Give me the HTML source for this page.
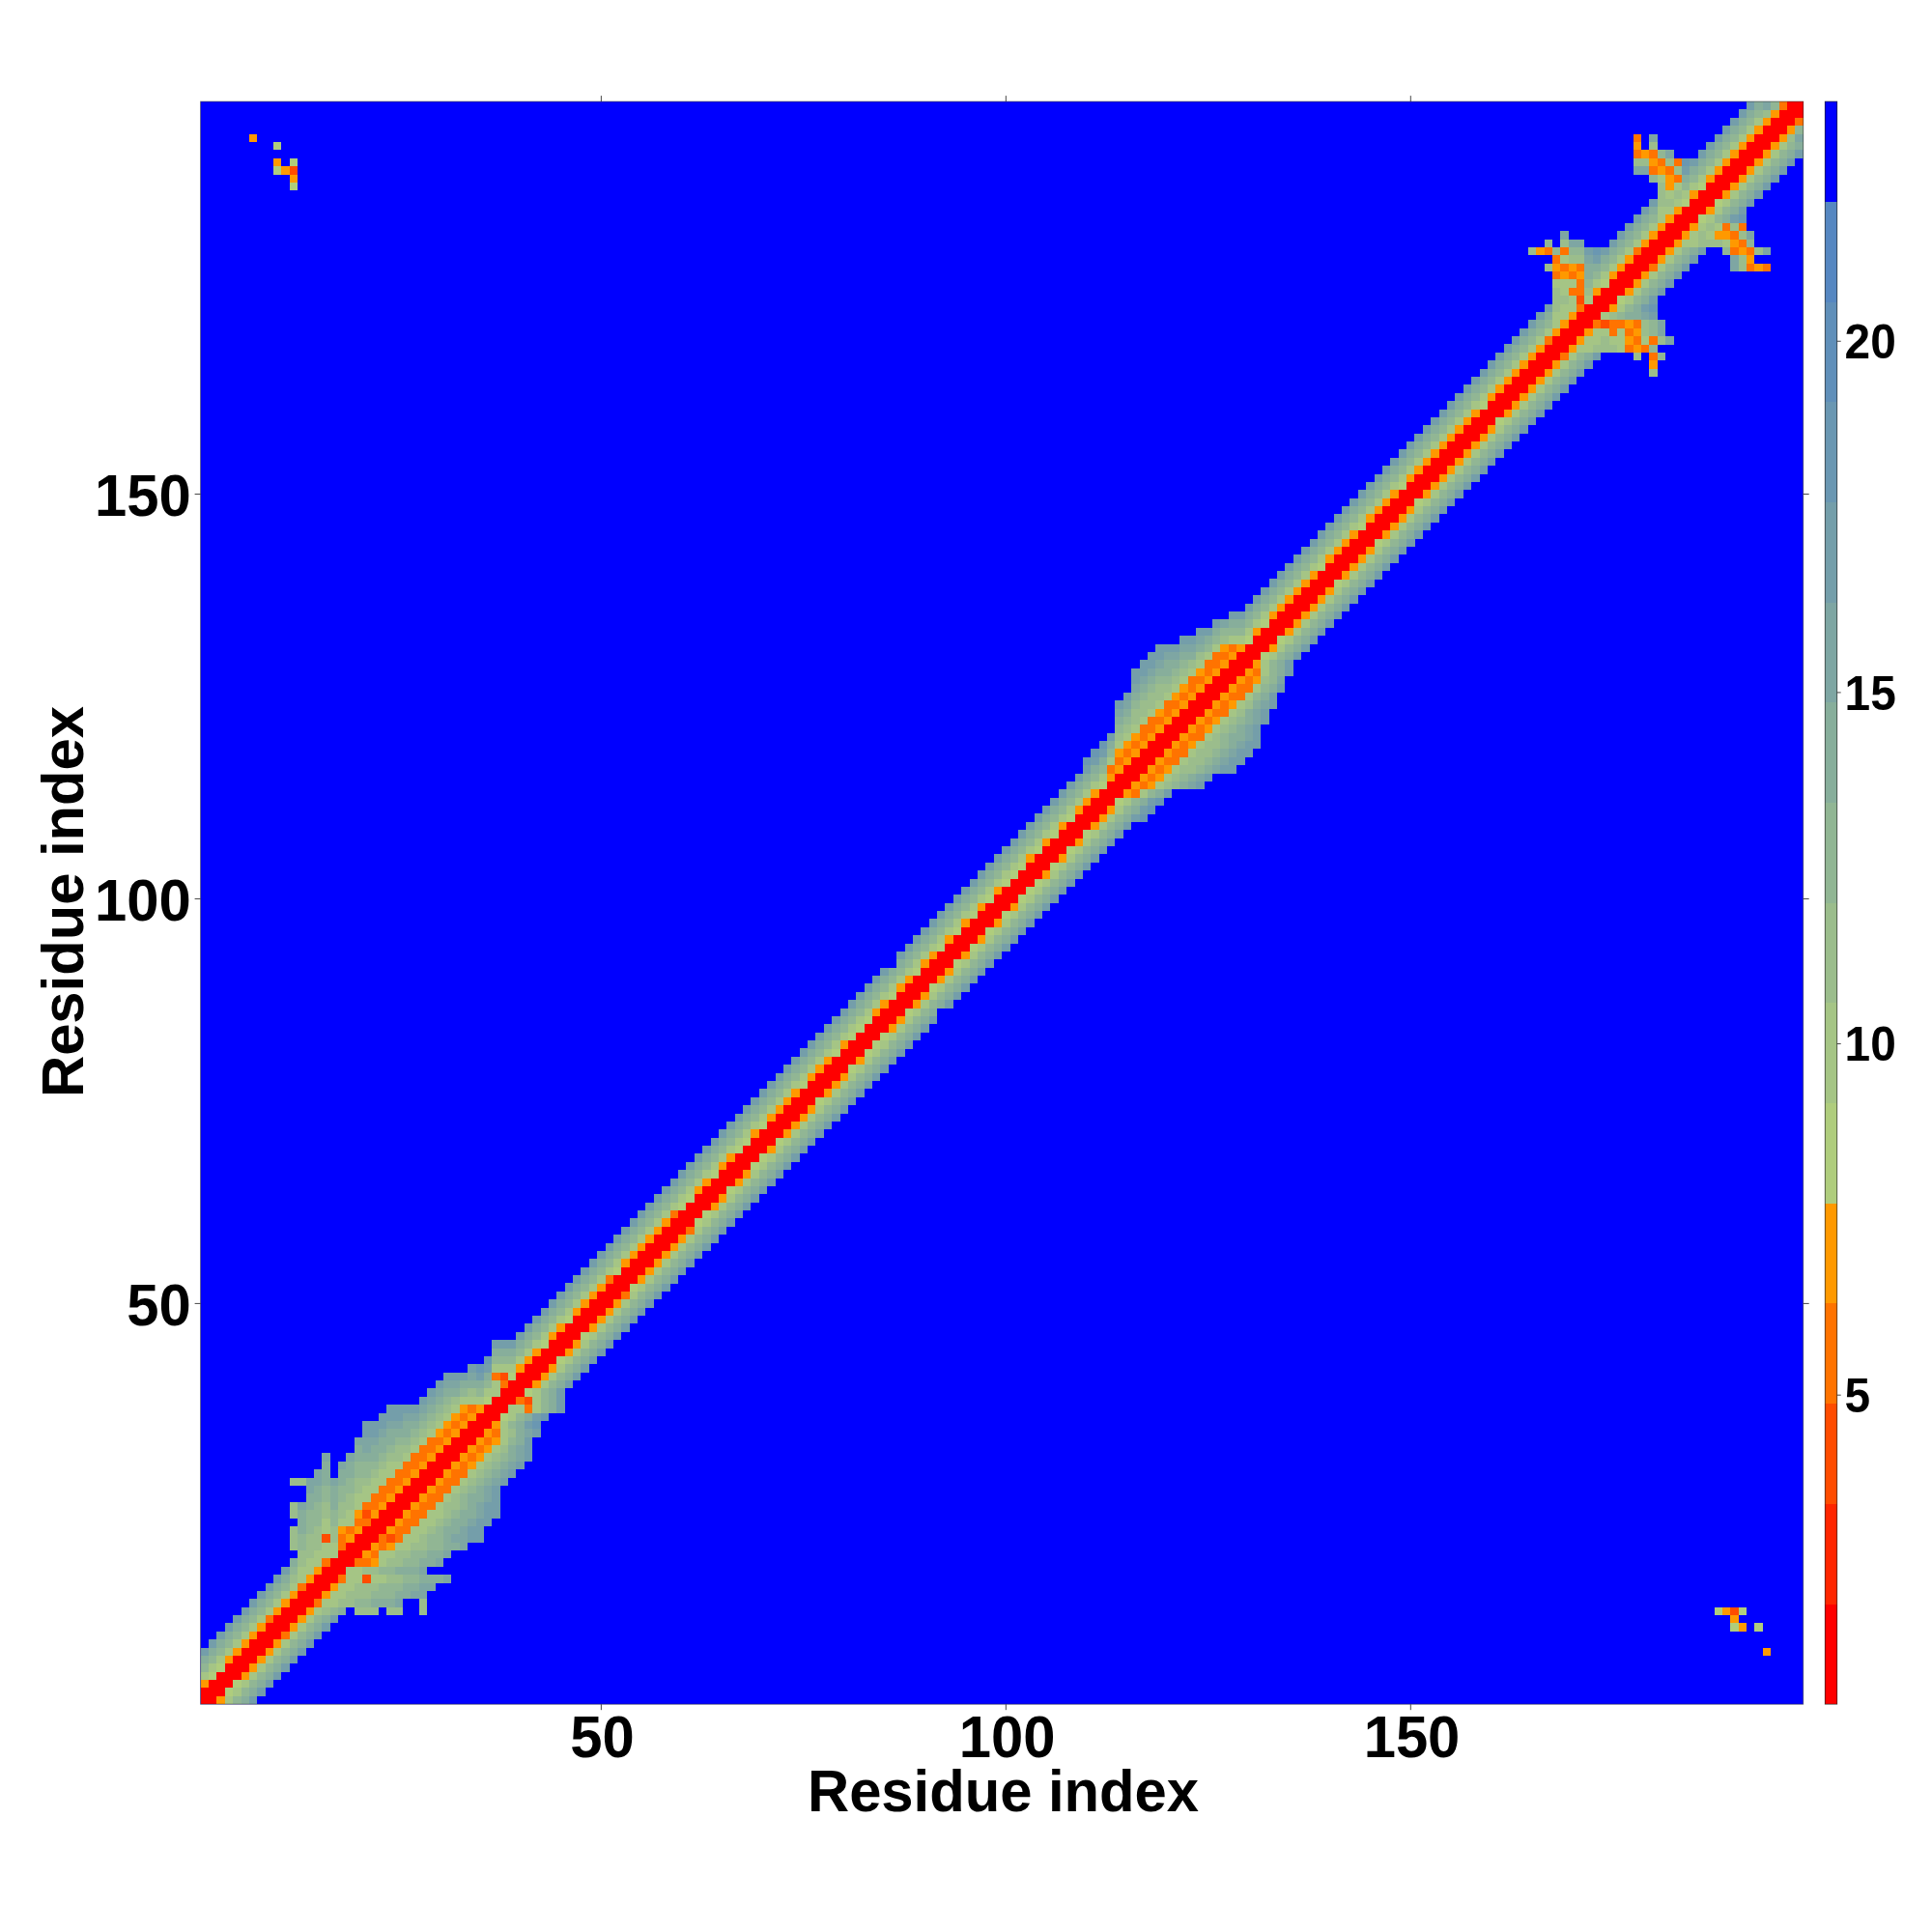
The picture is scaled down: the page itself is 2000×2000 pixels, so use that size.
<!DOCTYPE html>
<html><head><meta charset="utf-8"><title>Residue distance map</title>
<style>html,body{margin:0;padding:0;background:#fff;}svg{display:block;}text{font-family:"Liberation Sans",sans-serif;font-weight:bold;fill:#000;}</style></head><body>
<svg width="2000" height="2000" viewBox="0 0 2000 2000">
<rect x="0" y="0" width="2000" height="2000" fill="#FFFFFF"/>
<rect x="207.60" y="105.10" width="1659.10" height="1659.10" fill="#0000FF"/>
<g shape-rendering="crispEdges">
<rect x="207.60" y="1755.82" width="16.78" height="8.40" fill="#FF0000"/>
<rect x="224.36" y="1755.82" width="8.40" height="8.40" fill="#FF9900"/>
<rect x="232.74" y="1755.82" width="8.40" height="8.40" fill="#A5C585"/>
<rect x="241.12" y="1755.82" width="8.40" height="8.40" fill="#91B694"/>
<rect x="249.50" y="1755.82" width="8.40" height="8.40" fill="#87AE9B"/>
<rect x="257.88" y="1755.82" width="8.40" height="8.40" fill="#749EAA"/>
<rect x="207.60" y="1747.44" width="25.16" height="8.40" fill="#FF0000"/>
<rect x="232.74" y="1747.44" width="8.40" height="8.40" fill="#AFCD7D"/>
<rect x="241.12" y="1747.44" width="8.40" height="8.40" fill="#A5C585"/>
<rect x="249.50" y="1747.44" width="8.40" height="8.40" fill="#91B694"/>
<rect x="257.88" y="1747.44" width="8.40" height="8.40" fill="#87AE9B"/>
<rect x="266.26" y="1747.44" width="8.40" height="8.40" fill="#749EAA"/>
<rect x="207.60" y="1739.06" width="8.40" height="8.40" fill="#FF9900"/>
<rect x="215.98" y="1739.06" width="25.16" height="8.40" fill="#FF0000"/>
<rect x="241.12" y="1739.06" width="8.40" height="8.40" fill="#AFCD7D"/>
<rect x="249.50" y="1739.06" width="8.40" height="8.40" fill="#A5C585"/>
<rect x="257.88" y="1739.06" width="8.40" height="8.40" fill="#91B694"/>
<rect x="266.26" y="1739.06" width="8.40" height="8.40" fill="#87AE9B"/>
<rect x="274.63" y="1739.06" width="8.40" height="8.40" fill="#749EAA"/>
<rect x="207.60" y="1730.68" width="8.40" height="8.40" fill="#A5C585"/>
<rect x="215.98" y="1730.68" width="8.40" height="8.40" fill="#AFCD7D"/>
<rect x="224.36" y="1730.68" width="25.16" height="8.40" fill="#FF0000"/>
<rect x="249.50" y="1730.68" width="8.40" height="8.40" fill="#FF9900"/>
<rect x="257.88" y="1730.68" width="8.40" height="8.40" fill="#A5C585"/>
<rect x="266.26" y="1730.68" width="8.40" height="8.40" fill="#91B694"/>
<rect x="274.63" y="1730.68" width="8.40" height="8.40" fill="#87AE9B"/>
<rect x="283.01" y="1730.68" width="8.40" height="8.40" fill="#749EAA"/>
<rect x="207.60" y="1722.30" width="8.40" height="8.40" fill="#91B694"/>
<rect x="215.98" y="1722.30" width="8.40" height="8.40" fill="#A5C585"/>
<rect x="224.36" y="1722.30" width="8.40" height="8.40" fill="#AFCD7D"/>
<rect x="232.74" y="1722.30" width="25.16" height="8.40" fill="#FF0000"/>
<rect x="257.88" y="1722.30" width="8.40" height="8.40" fill="#FF9900"/>
<rect x="266.26" y="1722.30" width="8.40" height="8.40" fill="#A5C585"/>
<rect x="274.63" y="1722.30" width="8.40" height="8.40" fill="#91B694"/>
<rect x="283.01" y="1722.30" width="8.40" height="8.40" fill="#87AE9B"/>
<rect x="291.39" y="1722.30" width="8.40" height="8.40" fill="#749EAA"/>
<rect x="207.60" y="1713.92" width="8.40" height="8.40" fill="#87AE9B"/>
<rect x="215.98" y="1713.92" width="8.40" height="8.40" fill="#91B694"/>
<rect x="224.36" y="1713.92" width="8.40" height="8.40" fill="#A5C585"/>
<rect x="232.74" y="1713.92" width="8.40" height="8.40" fill="#FF9900"/>
<rect x="241.12" y="1713.92" width="25.16" height="8.40" fill="#FF0000"/>
<rect x="266.26" y="1713.92" width="8.40" height="8.40" fill="#FF9900"/>
<rect x="274.63" y="1713.92" width="8.40" height="8.40" fill="#A5C585"/>
<rect x="283.01" y="1713.92" width="8.40" height="8.40" fill="#91B694"/>
<rect x="291.39" y="1713.92" width="8.40" height="8.40" fill="#87AE9B"/>
<rect x="299.77" y="1713.92" width="8.40" height="8.40" fill="#749EAA"/>
<rect x="207.60" y="1705.54" width="8.40" height="8.40" fill="#749EAA"/>
<rect x="215.98" y="1705.54" width="8.40" height="8.40" fill="#87AE9B"/>
<rect x="224.36" y="1705.54" width="8.40" height="8.40" fill="#91B694"/>
<rect x="232.74" y="1705.54" width="8.40" height="8.40" fill="#A5C585"/>
<rect x="241.12" y="1705.54" width="8.40" height="8.40" fill="#FF9900"/>
<rect x="249.50" y="1705.54" width="25.16" height="8.40" fill="#FF0000"/>
<rect x="274.63" y="1705.54" width="8.40" height="8.40" fill="#FF9900"/>
<rect x="283.01" y="1705.54" width="8.40" height="8.40" fill="#A5C585"/>
<rect x="291.39" y="1705.54" width="8.40" height="8.40" fill="#91B694"/>
<rect x="299.77" y="1705.54" width="8.40" height="8.40" fill="#87AE9B"/>
<rect x="308.15" y="1705.54" width="8.40" height="8.40" fill="#749EAA"/>
<rect x="1824.80" y="1705.54" width="8.40" height="8.40" fill="#FF9900"/>
<rect x="215.98" y="1697.17" width="8.40" height="8.40" fill="#749EAA"/>
<rect x="224.36" y="1697.17" width="8.40" height="8.40" fill="#87AE9B"/>
<rect x="232.74" y="1697.17" width="8.40" height="8.40" fill="#91B694"/>
<rect x="241.12" y="1697.17" width="8.40" height="8.40" fill="#A5C585"/>
<rect x="249.50" y="1697.17" width="8.40" height="8.40" fill="#FF9900"/>
<rect x="257.88" y="1697.17" width="25.16" height="8.40" fill="#FF0000"/>
<rect x="283.01" y="1697.17" width="8.40" height="8.40" fill="#FF9900"/>
<rect x="291.39" y="1697.17" width="8.40" height="8.40" fill="#A5C585"/>
<rect x="299.77" y="1697.17" width="8.40" height="8.40" fill="#91B694"/>
<rect x="308.15" y="1697.17" width="8.40" height="8.40" fill="#87AE9B"/>
<rect x="316.53" y="1697.17" width="8.40" height="8.40" fill="#749EAA"/>
<rect x="224.36" y="1688.79" width="8.40" height="8.40" fill="#749EAA"/>
<rect x="232.74" y="1688.79" width="8.40" height="8.40" fill="#87AE9B"/>
<rect x="241.12" y="1688.79" width="8.40" height="8.40" fill="#91B694"/>
<rect x="249.50" y="1688.79" width="8.40" height="8.40" fill="#A5C585"/>
<rect x="257.88" y="1688.79" width="8.40" height="8.40" fill="#FF9900"/>
<rect x="266.26" y="1688.79" width="25.16" height="8.40" fill="#FF0000"/>
<rect x="291.39" y="1688.79" width="8.40" height="8.40" fill="#FF7300"/>
<rect x="299.77" y="1688.79" width="8.40" height="8.40" fill="#A5C585"/>
<rect x="308.15" y="1688.79" width="8.40" height="8.40" fill="#91B694"/>
<rect x="316.53" y="1688.79" width="8.40" height="8.40" fill="#87AE9B"/>
<rect x="324.91" y="1688.79" width="8.40" height="8.40" fill="#749EAA"/>
<rect x="232.74" y="1680.41" width="8.40" height="8.40" fill="#749EAA"/>
<rect x="241.12" y="1680.41" width="8.40" height="8.40" fill="#87AE9B"/>
<rect x="249.50" y="1680.41" width="8.40" height="8.40" fill="#91B694"/>
<rect x="257.88" y="1680.41" width="8.40" height="8.40" fill="#A5C585"/>
<rect x="266.26" y="1680.41" width="8.40" height="8.40" fill="#FF9900"/>
<rect x="274.63" y="1680.41" width="25.16" height="8.40" fill="#FF0000"/>
<rect x="299.77" y="1680.41" width="8.40" height="8.40" fill="#FF9900"/>
<rect x="308.15" y="1680.41" width="8.40" height="8.40" fill="#A5C585"/>
<rect x="316.53" y="1680.41" width="8.40" height="8.40" fill="#91B694"/>
<rect x="324.91" y="1680.41" width="8.40" height="8.40" fill="#87AE9B"/>
<rect x="333.29" y="1680.41" width="8.40" height="8.40" fill="#749EAA"/>
<rect x="1791.29" y="1680.41" width="8.40" height="8.40" fill="#AFCD7D"/>
<rect x="1799.67" y="1680.41" width="8.40" height="8.40" fill="#FF9900"/>
<rect x="1816.42" y="1680.41" width="8.40" height="8.40" fill="#AFCD7D"/>
<rect x="241.12" y="1672.03" width="8.40" height="8.40" fill="#749EAA"/>
<rect x="249.50" y="1672.03" width="8.40" height="8.40" fill="#87AE9B"/>
<rect x="257.88" y="1672.03" width="8.40" height="8.40" fill="#91B694"/>
<rect x="266.26" y="1672.03" width="8.40" height="8.40" fill="#A5C585"/>
<rect x="274.63" y="1672.03" width="8.40" height="8.40" fill="#FF7300"/>
<rect x="283.01" y="1672.03" width="25.16" height="8.40" fill="#FF0000"/>
<rect x="308.15" y="1672.03" width="8.40" height="8.40" fill="#FF9900"/>
<rect x="316.53" y="1672.03" width="8.40" height="8.40" fill="#A5C585"/>
<rect x="324.91" y="1672.03" width="8.40" height="8.40" fill="#91B694"/>
<rect x="333.29" y="1672.03" width="8.40" height="8.40" fill="#87AE9B"/>
<rect x="341.67" y="1672.03" width="8.40" height="8.40" fill="#749EAA"/>
<rect x="1791.29" y="1672.03" width="8.40" height="8.40" fill="#FF9900"/>
<rect x="249.50" y="1663.65" width="8.40" height="8.40" fill="#749EAA"/>
<rect x="257.88" y="1663.65" width="8.40" height="8.40" fill="#87AE9B"/>
<rect x="266.26" y="1663.65" width="8.40" height="8.40" fill="#91B694"/>
<rect x="274.63" y="1663.65" width="8.40" height="8.40" fill="#A5C585"/>
<rect x="283.01" y="1663.65" width="8.40" height="8.40" fill="#FF9900"/>
<rect x="291.39" y="1663.65" width="25.16" height="8.40" fill="#FF0000"/>
<rect x="316.53" y="1663.65" width="8.40" height="8.40" fill="#FF9900"/>
<rect x="324.91" y="1663.65" width="8.40" height="8.40" fill="#A5C585"/>
<rect x="333.29" y="1663.65" width="8.40" height="8.40" fill="#9BBD8C"/>
<rect x="341.67" y="1663.65" width="8.40" height="8.40" fill="#91B694"/>
<rect x="350.05" y="1663.65" width="8.40" height="8.40" fill="#87AE9B"/>
<rect x="366.81" y="1663.65" width="25.16" height="8.40" fill="#9BBD8C"/>
<rect x="400.32" y="1663.65" width="16.78" height="8.40" fill="#9BBD8C"/>
<rect x="433.84" y="1663.65" width="8.40" height="8.40" fill="#9BBD8C"/>
<rect x="1774.53" y="1663.65" width="8.40" height="8.40" fill="#AFCD7D"/>
<rect x="1782.91" y="1663.65" width="8.40" height="8.40" fill="#FF9900"/>
<rect x="1791.29" y="1663.65" width="8.40" height="8.40" fill="#FF4C00"/>
<rect x="1799.67" y="1663.65" width="8.40" height="8.40" fill="#AFCD7D"/>
<rect x="257.88" y="1655.27" width="8.40" height="8.40" fill="#749EAA"/>
<rect x="266.26" y="1655.27" width="8.40" height="8.40" fill="#87AE9B"/>
<rect x="274.63" y="1655.27" width="8.40" height="8.40" fill="#91B694"/>
<rect x="283.01" y="1655.27" width="8.40" height="8.40" fill="#A5C585"/>
<rect x="291.39" y="1655.27" width="8.40" height="8.40" fill="#FF9900"/>
<rect x="299.77" y="1655.27" width="25.16" height="8.40" fill="#FF0000"/>
<rect x="324.91" y="1655.27" width="8.40" height="8.40" fill="#FF7300"/>
<rect x="333.29" y="1655.27" width="16.78" height="8.40" fill="#A5C585"/>
<rect x="350.05" y="1655.27" width="16.78" height="8.40" fill="#9BBD8C"/>
<rect x="366.81" y="1655.27" width="16.78" height="8.40" fill="#91B694"/>
<rect x="383.57" y="1655.27" width="25.16" height="8.40" fill="#87AE9B"/>
<rect x="408.70" y="1655.27" width="8.40" height="8.40" fill="#7EA6A3"/>
<rect x="433.84" y="1655.27" width="8.40" height="8.40" fill="#9BBD8C"/>
<rect x="266.26" y="1646.89" width="8.40" height="8.40" fill="#749EAA"/>
<rect x="274.63" y="1646.89" width="8.40" height="8.40" fill="#87AE9B"/>
<rect x="283.01" y="1646.89" width="8.40" height="8.40" fill="#91B694"/>
<rect x="291.39" y="1646.89" width="8.40" height="8.40" fill="#A5C585"/>
<rect x="299.77" y="1646.89" width="8.40" height="8.40" fill="#FF9900"/>
<rect x="308.15" y="1646.89" width="25.16" height="8.40" fill="#FF0000"/>
<rect x="333.29" y="1646.89" width="8.40" height="8.40" fill="#FF9900"/>
<rect x="341.67" y="1646.89" width="16.78" height="8.40" fill="#A5C585"/>
<rect x="358.43" y="1646.89" width="25.16" height="8.40" fill="#9BBD8C"/>
<rect x="383.57" y="1646.89" width="25.16" height="8.40" fill="#91B694"/>
<rect x="408.70" y="1646.89" width="16.78" height="8.40" fill="#87AE9B"/>
<rect x="425.46" y="1646.89" width="16.78" height="8.40" fill="#7EA6A3"/>
<rect x="274.63" y="1638.51" width="8.40" height="8.40" fill="#749EAA"/>
<rect x="283.01" y="1638.51" width="8.40" height="8.40" fill="#87AE9B"/>
<rect x="291.39" y="1638.51" width="8.40" height="8.40" fill="#91B694"/>
<rect x="299.77" y="1638.51" width="8.40" height="8.40" fill="#A5C585"/>
<rect x="308.15" y="1638.51" width="8.40" height="8.40" fill="#FF7300"/>
<rect x="316.53" y="1638.51" width="25.16" height="8.40" fill="#FF0000"/>
<rect x="341.67" y="1638.51" width="8.40" height="8.40" fill="#FF9900"/>
<rect x="350.05" y="1638.51" width="16.78" height="8.40" fill="#A5C585"/>
<rect x="366.81" y="1638.51" width="25.16" height="8.40" fill="#9BBD8C"/>
<rect x="391.94" y="1638.51" width="25.16" height="8.40" fill="#91B694"/>
<rect x="417.08" y="1638.51" width="16.78" height="8.40" fill="#87AE9B"/>
<rect x="433.84" y="1638.51" width="16.78" height="8.40" fill="#7EA6A3"/>
<rect x="283.01" y="1630.13" width="8.40" height="8.40" fill="#749EAA"/>
<rect x="291.39" y="1630.13" width="8.40" height="8.40" fill="#87AE9B"/>
<rect x="299.77" y="1630.13" width="8.40" height="8.40" fill="#9BBD8C"/>
<rect x="308.15" y="1630.13" width="8.40" height="8.40" fill="#A5C585"/>
<rect x="316.53" y="1630.13" width="8.40" height="8.40" fill="#FF9900"/>
<rect x="324.91" y="1630.13" width="25.16" height="8.40" fill="#FF0000"/>
<rect x="350.05" y="1630.13" width="8.40" height="8.40" fill="#FF7300"/>
<rect x="358.43" y="1630.13" width="16.78" height="8.40" fill="#A5C585"/>
<rect x="375.19" y="1630.13" width="8.40" height="8.40" fill="#FF4C00"/>
<rect x="383.57" y="1630.13" width="16.78" height="8.40" fill="#A5C585"/>
<rect x="400.32" y="1630.13" width="16.78" height="8.40" fill="#9BBD8C"/>
<rect x="417.08" y="1630.13" width="16.78" height="8.40" fill="#91B694"/>
<rect x="433.84" y="1630.13" width="25.16" height="8.40" fill="#87AE9B"/>
<rect x="458.98" y="1630.13" width="8.40" height="8.40" fill="#7EA6A3"/>
<rect x="291.39" y="1621.75" width="8.40" height="8.40" fill="#749EAA"/>
<rect x="299.77" y="1621.75" width="8.40" height="8.40" fill="#91B694"/>
<rect x="308.15" y="1621.75" width="16.78" height="8.40" fill="#A5C585"/>
<rect x="324.91" y="1621.75" width="8.40" height="8.40" fill="#FF9900"/>
<rect x="333.29" y="1621.75" width="25.16" height="8.40" fill="#FF0000"/>
<rect x="358.43" y="1621.75" width="16.78" height="8.40" fill="#A5C585"/>
<rect x="375.19" y="1621.75" width="16.78" height="8.40" fill="#9BBD8C"/>
<rect x="391.94" y="1621.75" width="16.78" height="8.40" fill="#91B694"/>
<rect x="408.70" y="1621.75" width="25.16" height="8.40" fill="#87AE9B"/>
<rect x="433.84" y="1621.75" width="8.40" height="8.40" fill="#7EA6A3"/>
<rect x="299.77" y="1613.37" width="8.40" height="8.40" fill="#87AE9B"/>
<rect x="308.15" y="1613.37" width="8.40" height="8.40" fill="#9BBD8C"/>
<rect x="316.53" y="1613.37" width="16.78" height="8.40" fill="#A5C585"/>
<rect x="333.29" y="1613.37" width="8.40" height="8.40" fill="#FF7300"/>
<rect x="341.67" y="1613.37" width="25.16" height="8.40" fill="#FF0000"/>
<rect x="366.81" y="1613.37" width="16.78" height="8.40" fill="#FF7300"/>
<rect x="383.57" y="1613.37" width="8.40" height="8.40" fill="#FF9900"/>
<rect x="391.94" y="1613.37" width="8.40" height="8.40" fill="#A5C585"/>
<rect x="400.32" y="1613.37" width="16.78" height="8.40" fill="#9BBD8C"/>
<rect x="417.08" y="1613.37" width="16.78" height="8.40" fill="#91B694"/>
<rect x="433.84" y="1613.37" width="16.78" height="8.40" fill="#87AE9B"/>
<rect x="450.60" y="1613.37" width="8.40" height="8.40" fill="#7EA6A3"/>
<rect x="308.15" y="1604.99" width="16.78" height="8.40" fill="#9BBD8C"/>
<rect x="324.91" y="1604.99" width="25.16" height="8.40" fill="#A5C585"/>
<rect x="350.05" y="1604.99" width="25.16" height="8.40" fill="#FF0000"/>
<rect x="375.19" y="1604.99" width="8.40" height="8.40" fill="#FF9900"/>
<rect x="383.57" y="1604.99" width="8.40" height="8.40" fill="#FF7300"/>
<rect x="391.94" y="1604.99" width="16.78" height="8.40" fill="#A5C585"/>
<rect x="408.70" y="1604.99" width="16.78" height="8.40" fill="#9BBD8C"/>
<rect x="425.46" y="1604.99" width="16.78" height="8.40" fill="#91B694"/>
<rect x="442.22" y="1604.99" width="16.78" height="8.40" fill="#87AE9B"/>
<rect x="458.98" y="1604.99" width="8.40" height="8.40" fill="#7EA6A3"/>
<rect x="299.77" y="1596.61" width="8.40" height="8.40" fill="#9BBD8C"/>
<rect x="308.15" y="1596.61" width="8.40" height="8.40" fill="#91B694"/>
<rect x="316.53" y="1596.61" width="16.78" height="8.40" fill="#9BBD8C"/>
<rect x="333.29" y="1596.61" width="16.78" height="8.40" fill="#A5C585"/>
<rect x="350.05" y="1596.61" width="8.40" height="8.40" fill="#FF7300"/>
<rect x="358.43" y="1596.61" width="25.16" height="8.40" fill="#FF0000"/>
<rect x="383.57" y="1596.61" width="8.40" height="8.40" fill="#FF9900"/>
<rect x="391.94" y="1596.61" width="8.40" height="8.40" fill="#FF7300"/>
<rect x="400.32" y="1596.61" width="8.40" height="8.40" fill="#FF9900"/>
<rect x="408.70" y="1596.61" width="16.78" height="8.40" fill="#A5C585"/>
<rect x="425.46" y="1596.61" width="16.78" height="8.40" fill="#9BBD8C"/>
<rect x="442.22" y="1596.61" width="16.78" height="8.40" fill="#91B694"/>
<rect x="458.98" y="1596.61" width="16.78" height="8.40" fill="#87AE9B"/>
<rect x="475.74" y="1596.61" width="8.40" height="8.40" fill="#7EA6A3"/>
<rect x="299.77" y="1588.23" width="8.40" height="8.40" fill="#9BBD8C"/>
<rect x="308.15" y="1588.23" width="8.40" height="8.40" fill="#91B694"/>
<rect x="316.53" y="1588.23" width="16.78" height="8.40" fill="#9BBD8C"/>
<rect x="333.29" y="1588.23" width="8.40" height="8.40" fill="#FF4C00"/>
<rect x="341.67" y="1588.23" width="8.40" height="8.40" fill="#9BBD8C"/>
<rect x="350.05" y="1588.23" width="8.40" height="8.40" fill="#FF7300"/>
<rect x="358.43" y="1588.23" width="8.40" height="8.40" fill="#FF9900"/>
<rect x="366.81" y="1588.23" width="25.16" height="8.40" fill="#FF0000"/>
<rect x="391.94" y="1588.23" width="8.40" height="8.40" fill="#FF7300"/>
<rect x="400.32" y="1588.23" width="8.40" height="8.40" fill="#FF4C00"/>
<rect x="408.70" y="1588.23" width="8.40" height="8.40" fill="#FF7300"/>
<rect x="417.08" y="1588.23" width="16.78" height="8.40" fill="#A5C585"/>
<rect x="433.84" y="1588.23" width="8.40" height="8.40" fill="#9BBD8C"/>
<rect x="442.22" y="1588.23" width="16.78" height="8.40" fill="#91B694"/>
<rect x="458.98" y="1588.23" width="8.40" height="8.40" fill="#87AE9B"/>
<rect x="467.36" y="1588.23" width="16.78" height="8.40" fill="#7EA6A3"/>
<rect x="484.12" y="1588.23" width="16.78" height="8.40" fill="#749EAA"/>
<rect x="299.77" y="1579.86" width="8.40" height="8.40" fill="#9BBD8C"/>
<rect x="308.15" y="1579.86" width="8.40" height="8.40" fill="#87AE9B"/>
<rect x="316.53" y="1579.86" width="8.40" height="8.40" fill="#91B694"/>
<rect x="324.91" y="1579.86" width="8.40" height="8.40" fill="#9BBD8C"/>
<rect x="333.29" y="1579.86" width="8.40" height="8.40" fill="#A5C585"/>
<rect x="341.67" y="1579.86" width="8.40" height="8.40" fill="#9BBD8C"/>
<rect x="350.05" y="1579.86" width="8.40" height="8.40" fill="#FF9900"/>
<rect x="358.43" y="1579.86" width="8.40" height="8.40" fill="#FF7300"/>
<rect x="366.81" y="1579.86" width="8.40" height="8.40" fill="#FF9900"/>
<rect x="375.19" y="1579.86" width="25.16" height="8.40" fill="#FF0000"/>
<rect x="400.32" y="1579.86" width="8.40" height="8.40" fill="#FF9900"/>
<rect x="408.70" y="1579.86" width="16.78" height="8.40" fill="#FF7300"/>
<rect x="425.46" y="1579.86" width="16.78" height="8.40" fill="#A5C585"/>
<rect x="442.22" y="1579.86" width="8.40" height="8.40" fill="#9BBD8C"/>
<rect x="450.60" y="1579.86" width="8.40" height="8.40" fill="#91B694"/>
<rect x="458.98" y="1579.86" width="16.78" height="8.40" fill="#87AE9B"/>
<rect x="475.74" y="1579.86" width="8.40" height="8.40" fill="#7EA6A3"/>
<rect x="484.12" y="1579.86" width="16.78" height="8.40" fill="#749EAA"/>
<rect x="308.15" y="1571.48" width="8.40" height="8.40" fill="#87AE9B"/>
<rect x="316.53" y="1571.48" width="16.78" height="8.40" fill="#91B694"/>
<rect x="333.29" y="1571.48" width="8.40" height="8.40" fill="#A5C585"/>
<rect x="341.67" y="1571.48" width="8.40" height="8.40" fill="#91B694"/>
<rect x="350.05" y="1571.48" width="16.78" height="8.40" fill="#A5C585"/>
<rect x="366.81" y="1571.48" width="16.78" height="8.40" fill="#FF7300"/>
<rect x="383.57" y="1571.48" width="25.16" height="8.40" fill="#FF0000"/>
<rect x="408.70" y="1571.48" width="8.40" height="8.40" fill="#FF9900"/>
<rect x="417.08" y="1571.48" width="16.78" height="8.40" fill="#FF7300"/>
<rect x="433.84" y="1571.48" width="16.78" height="8.40" fill="#A5C585"/>
<rect x="450.60" y="1571.48" width="8.40" height="8.40" fill="#9BBD8C"/>
<rect x="458.98" y="1571.48" width="8.40" height="8.40" fill="#91B694"/>
<rect x="467.36" y="1571.48" width="16.78" height="8.40" fill="#87AE9B"/>
<rect x="484.12" y="1571.48" width="8.40" height="8.40" fill="#7EA6A3"/>
<rect x="492.50" y="1571.48" width="16.78" height="8.40" fill="#749EAA"/>
<rect x="299.77" y="1563.10" width="8.40" height="8.40" fill="#9BBD8C"/>
<rect x="308.15" y="1563.10" width="8.40" height="8.40" fill="#87AE9B"/>
<rect x="316.53" y="1563.10" width="16.78" height="8.40" fill="#91B694"/>
<rect x="333.29" y="1563.10" width="8.40" height="8.40" fill="#9BBD8C"/>
<rect x="341.67" y="1563.10" width="8.40" height="8.40" fill="#91B694"/>
<rect x="350.05" y="1563.10" width="8.40" height="8.40" fill="#9BBD8C"/>
<rect x="358.43" y="1563.10" width="8.40" height="8.40" fill="#A5C585"/>
<rect x="366.81" y="1563.10" width="8.40" height="8.40" fill="#FF9900"/>
<rect x="375.19" y="1563.10" width="8.40" height="8.40" fill="#FF4C00"/>
<rect x="383.57" y="1563.10" width="8.40" height="8.40" fill="#FF9900"/>
<rect x="391.94" y="1563.10" width="25.16" height="8.40" fill="#FF0000"/>
<rect x="417.08" y="1563.10" width="8.40" height="8.40" fill="#FF9900"/>
<rect x="425.46" y="1563.10" width="16.78" height="8.40" fill="#FF7300"/>
<rect x="442.22" y="1563.10" width="16.78" height="8.40" fill="#A5C585"/>
<rect x="458.98" y="1563.10" width="8.40" height="8.40" fill="#9BBD8C"/>
<rect x="467.36" y="1563.10" width="8.40" height="8.40" fill="#91B694"/>
<rect x="475.74" y="1563.10" width="16.78" height="8.40" fill="#87AE9B"/>
<rect x="492.50" y="1563.10" width="8.40" height="8.40" fill="#7EA6A3"/>
<rect x="500.88" y="1563.10" width="16.78" height="8.40" fill="#749EAA"/>
<rect x="299.77" y="1554.72" width="8.40" height="8.40" fill="#9BBD8C"/>
<rect x="308.15" y="1554.72" width="8.40" height="8.40" fill="#7EA6A3"/>
<rect x="316.53" y="1554.72" width="8.40" height="8.40" fill="#87AE9B"/>
<rect x="324.91" y="1554.72" width="8.40" height="8.40" fill="#91B694"/>
<rect x="333.29" y="1554.72" width="8.40" height="8.40" fill="#9BBD8C"/>
<rect x="341.67" y="1554.72" width="8.40" height="8.40" fill="#87AE9B"/>
<rect x="350.05" y="1554.72" width="16.78" height="8.40" fill="#9BBD8C"/>
<rect x="366.81" y="1554.72" width="8.40" height="8.40" fill="#A5C585"/>
<rect x="375.19" y="1554.72" width="16.78" height="8.40" fill="#FF7300"/>
<rect x="391.94" y="1554.72" width="8.40" height="8.40" fill="#FF9900"/>
<rect x="400.32" y="1554.72" width="25.16" height="8.40" fill="#FF0000"/>
<rect x="425.46" y="1554.72" width="8.40" height="8.40" fill="#FF9900"/>
<rect x="433.84" y="1554.72" width="16.78" height="8.40" fill="#FF7300"/>
<rect x="450.60" y="1554.72" width="8.40" height="8.40" fill="#A5C585"/>
<rect x="458.98" y="1554.72" width="16.78" height="8.40" fill="#9BBD8C"/>
<rect x="475.74" y="1554.72" width="8.40" height="8.40" fill="#91B694"/>
<rect x="484.12" y="1554.72" width="8.40" height="8.40" fill="#87AE9B"/>
<rect x="492.50" y="1554.72" width="8.40" height="8.40" fill="#7EA6A3"/>
<rect x="500.88" y="1554.72" width="16.78" height="8.40" fill="#749EAA"/>
<rect x="316.53" y="1546.34" width="16.78" height="8.40" fill="#87AE9B"/>
<rect x="333.29" y="1546.34" width="8.40" height="8.40" fill="#91B694"/>
<rect x="341.67" y="1546.34" width="8.40" height="8.40" fill="#87AE9B"/>
<rect x="350.05" y="1546.34" width="8.40" height="8.40" fill="#91B694"/>
<rect x="358.43" y="1546.34" width="8.40" height="8.40" fill="#9BBD8C"/>
<rect x="366.81" y="1546.34" width="16.78" height="8.40" fill="#A5C585"/>
<rect x="383.57" y="1546.34" width="16.78" height="8.40" fill="#FF7300"/>
<rect x="400.32" y="1546.34" width="8.40" height="8.40" fill="#FF9900"/>
<rect x="408.70" y="1546.34" width="25.16" height="8.40" fill="#FF0000"/>
<rect x="433.84" y="1546.34" width="8.40" height="8.40" fill="#FF9900"/>
<rect x="442.22" y="1546.34" width="16.78" height="8.40" fill="#FF7300"/>
<rect x="458.98" y="1546.34" width="8.40" height="8.40" fill="#A5C585"/>
<rect x="467.36" y="1546.34" width="8.40" height="8.40" fill="#9BBD8C"/>
<rect x="475.74" y="1546.34" width="8.40" height="8.40" fill="#91B694"/>
<rect x="484.12" y="1546.34" width="16.78" height="8.40" fill="#87AE9B"/>
<rect x="500.88" y="1546.34" width="8.40" height="8.40" fill="#7EA6A3"/>
<rect x="509.25" y="1546.34" width="8.40" height="8.40" fill="#749EAA"/>
<rect x="316.53" y="1537.96" width="8.40" height="8.40" fill="#7EA6A3"/>
<rect x="324.91" y="1537.96" width="8.40" height="8.40" fill="#87AE9B"/>
<rect x="333.29" y="1537.96" width="8.40" height="8.40" fill="#91B694"/>
<rect x="341.67" y="1537.96" width="8.40" height="8.40" fill="#87AE9B"/>
<rect x="350.05" y="1537.96" width="16.78" height="8.40" fill="#91B694"/>
<rect x="366.81" y="1537.96" width="8.40" height="8.40" fill="#9BBD8C"/>
<rect x="375.19" y="1537.96" width="16.78" height="8.40" fill="#A5C585"/>
<rect x="391.94" y="1537.96" width="16.78" height="8.40" fill="#FF7300"/>
<rect x="408.70" y="1537.96" width="8.40" height="8.40" fill="#FF9900"/>
<rect x="417.08" y="1537.96" width="25.16" height="8.40" fill="#FF0000"/>
<rect x="442.22" y="1537.96" width="8.40" height="8.40" fill="#FF9900"/>
<rect x="450.60" y="1537.96" width="16.78" height="8.40" fill="#FF7300"/>
<rect x="467.36" y="1537.96" width="8.40" height="8.40" fill="#A5C585"/>
<rect x="475.74" y="1537.96" width="8.40" height="8.40" fill="#9BBD8C"/>
<rect x="484.12" y="1537.96" width="8.40" height="8.40" fill="#91B694"/>
<rect x="492.50" y="1537.96" width="8.40" height="8.40" fill="#87AE9B"/>
<rect x="500.88" y="1537.96" width="8.40" height="8.40" fill="#7EA6A3"/>
<rect x="509.25" y="1537.96" width="8.40" height="8.40" fill="#749EAA"/>
<rect x="299.77" y="1529.58" width="16.78" height="8.40" fill="#9BBD8C"/>
<rect x="316.53" y="1529.58" width="16.78" height="8.40" fill="#7EA6A3"/>
<rect x="333.29" y="1529.58" width="8.40" height="8.40" fill="#87AE9B"/>
<rect x="341.67" y="1529.58" width="8.40" height="8.40" fill="#7EA6A3"/>
<rect x="350.05" y="1529.58" width="8.40" height="8.40" fill="#87AE9B"/>
<rect x="358.43" y="1529.58" width="8.40" height="8.40" fill="#91B694"/>
<rect x="366.81" y="1529.58" width="16.78" height="8.40" fill="#9BBD8C"/>
<rect x="383.57" y="1529.58" width="16.78" height="8.40" fill="#A5C585"/>
<rect x="400.32" y="1529.58" width="16.78" height="8.40" fill="#FF7300"/>
<rect x="417.08" y="1529.58" width="8.40" height="8.40" fill="#FF9900"/>
<rect x="425.46" y="1529.58" width="25.16" height="8.40" fill="#FF0000"/>
<rect x="450.60" y="1529.58" width="8.40" height="8.40" fill="#FF9900"/>
<rect x="458.98" y="1529.58" width="16.78" height="8.40" fill="#FF7300"/>
<rect x="475.74" y="1529.58" width="8.40" height="8.40" fill="#A5C585"/>
<rect x="484.12" y="1529.58" width="8.40" height="8.40" fill="#9BBD8C"/>
<rect x="492.50" y="1529.58" width="8.40" height="8.40" fill="#91B694"/>
<rect x="500.88" y="1529.58" width="8.40" height="8.40" fill="#87AE9B"/>
<rect x="509.25" y="1529.58" width="8.40" height="8.40" fill="#7EA6A3"/>
<rect x="517.63" y="1529.58" width="8.40" height="8.40" fill="#749EAA"/>
<rect x="324.91" y="1521.20" width="8.40" height="8.40" fill="#7EA6A3"/>
<rect x="333.29" y="1521.20" width="8.40" height="8.40" fill="#87AE9B"/>
<rect x="350.05" y="1521.20" width="16.78" height="8.40" fill="#87AE9B"/>
<rect x="366.81" y="1521.20" width="16.78" height="8.40" fill="#91B694"/>
<rect x="383.57" y="1521.20" width="8.40" height="8.40" fill="#9BBD8C"/>
<rect x="391.94" y="1521.20" width="16.78" height="8.40" fill="#A5C585"/>
<rect x="408.70" y="1521.20" width="16.78" height="8.40" fill="#FF7300"/>
<rect x="425.46" y="1521.20" width="8.40" height="8.40" fill="#FF9900"/>
<rect x="433.84" y="1521.20" width="25.16" height="8.40" fill="#FF0000"/>
<rect x="458.98" y="1521.20" width="8.40" height="8.40" fill="#FF9900"/>
<rect x="467.36" y="1521.20" width="16.78" height="8.40" fill="#FF7300"/>
<rect x="484.12" y="1521.20" width="8.40" height="8.40" fill="#A5C585"/>
<rect x="492.50" y="1521.20" width="8.40" height="8.40" fill="#9BBD8C"/>
<rect x="500.88" y="1521.20" width="8.40" height="8.40" fill="#91B694"/>
<rect x="509.25" y="1521.20" width="8.40" height="8.40" fill="#87AE9B"/>
<rect x="517.63" y="1521.20" width="8.40" height="8.40" fill="#7EA6A3"/>
<rect x="526.01" y="1521.20" width="8.40" height="8.40" fill="#749EAA"/>
<rect x="333.29" y="1512.82" width="8.40" height="8.40" fill="#87AE9B"/>
<rect x="350.05" y="1512.82" width="8.40" height="8.40" fill="#7EA6A3"/>
<rect x="358.43" y="1512.82" width="8.40" height="8.40" fill="#87AE9B"/>
<rect x="366.81" y="1512.82" width="25.16" height="8.40" fill="#91B694"/>
<rect x="391.94" y="1512.82" width="8.40" height="8.40" fill="#9BBD8C"/>
<rect x="400.32" y="1512.82" width="16.78" height="8.40" fill="#A5C585"/>
<rect x="417.08" y="1512.82" width="16.78" height="8.40" fill="#FF7300"/>
<rect x="433.84" y="1512.82" width="8.40" height="8.40" fill="#FF9900"/>
<rect x="442.22" y="1512.82" width="25.16" height="8.40" fill="#FF0000"/>
<rect x="467.36" y="1512.82" width="8.40" height="8.40" fill="#FF9900"/>
<rect x="475.74" y="1512.82" width="8.40" height="8.40" fill="#FF7300"/>
<rect x="484.12" y="1512.82" width="8.40" height="8.40" fill="#FF9900"/>
<rect x="492.50" y="1512.82" width="8.40" height="8.40" fill="#A5C585"/>
<rect x="500.88" y="1512.82" width="8.40" height="8.40" fill="#9BBD8C"/>
<rect x="509.25" y="1512.82" width="8.40" height="8.40" fill="#91B694"/>
<rect x="517.63" y="1512.82" width="8.40" height="8.40" fill="#87AE9B"/>
<rect x="526.01" y="1512.82" width="8.40" height="8.40" fill="#7EA6A3"/>
<rect x="534.39" y="1512.82" width="8.40" height="8.40" fill="#749EAA"/>
<rect x="333.29" y="1504.44" width="8.40" height="8.40" fill="#7EA6A3"/>
<rect x="358.43" y="1504.44" width="8.40" height="8.40" fill="#7EA6A3"/>
<rect x="366.81" y="1504.44" width="25.16" height="8.40" fill="#87AE9B"/>
<rect x="391.94" y="1504.44" width="8.40" height="8.40" fill="#91B694"/>
<rect x="400.32" y="1504.44" width="16.78" height="8.40" fill="#9BBD8C"/>
<rect x="417.08" y="1504.44" width="8.40" height="8.40" fill="#A5C585"/>
<rect x="425.46" y="1504.44" width="16.78" height="8.40" fill="#FF7300"/>
<rect x="442.22" y="1504.44" width="8.40" height="8.40" fill="#FF9900"/>
<rect x="450.60" y="1504.44" width="25.16" height="8.40" fill="#FF0000"/>
<rect x="475.74" y="1504.44" width="8.40" height="8.40" fill="#FF9900"/>
<rect x="484.12" y="1504.44" width="8.40" height="8.40" fill="#FF7300"/>
<rect x="492.50" y="1504.44" width="8.40" height="8.40" fill="#FF9900"/>
<rect x="500.88" y="1504.44" width="8.40" height="8.40" fill="#A5C585"/>
<rect x="509.25" y="1504.44" width="8.40" height="8.40" fill="#9BBD8C"/>
<rect x="517.63" y="1504.44" width="8.40" height="8.40" fill="#91B694"/>
<rect x="526.01" y="1504.44" width="8.40" height="8.40" fill="#87AE9B"/>
<rect x="534.39" y="1504.44" width="8.40" height="8.40" fill="#7EA6A3"/>
<rect x="542.77" y="1504.44" width="8.40" height="8.40" fill="#749EAA"/>
<rect x="366.81" y="1496.06" width="8.40" height="8.40" fill="#87AE9B"/>
<rect x="375.19" y="1496.06" width="8.40" height="8.40" fill="#7EA6A3"/>
<rect x="383.57" y="1496.06" width="16.78" height="8.40" fill="#87AE9B"/>
<rect x="400.32" y="1496.06" width="8.40" height="8.40" fill="#91B694"/>
<rect x="408.70" y="1496.06" width="16.78" height="8.40" fill="#9BBD8C"/>
<rect x="425.46" y="1496.06" width="8.40" height="8.40" fill="#A5C585"/>
<rect x="433.84" y="1496.06" width="16.78" height="8.40" fill="#FF7300"/>
<rect x="450.60" y="1496.06" width="8.40" height="8.40" fill="#FF9900"/>
<rect x="458.98" y="1496.06" width="25.16" height="8.40" fill="#FF0000"/>
<rect x="484.12" y="1496.06" width="8.40" height="8.40" fill="#FF9900"/>
<rect x="492.50" y="1496.06" width="8.40" height="8.40" fill="#FF7300"/>
<rect x="500.88" y="1496.06" width="8.40" height="8.40" fill="#FF9900"/>
<rect x="509.25" y="1496.06" width="8.40" height="8.40" fill="#A5C585"/>
<rect x="517.63" y="1496.06" width="8.40" height="8.40" fill="#9BBD8C"/>
<rect x="526.01" y="1496.06" width="8.40" height="8.40" fill="#87AE9B"/>
<rect x="534.39" y="1496.06" width="8.40" height="8.40" fill="#7EA6A3"/>
<rect x="542.77" y="1496.06" width="8.40" height="8.40" fill="#749EAA"/>
<rect x="366.81" y="1487.68" width="25.16" height="8.40" fill="#7EA6A3"/>
<rect x="391.94" y="1487.68" width="16.78" height="8.40" fill="#87AE9B"/>
<rect x="408.70" y="1487.68" width="16.78" height="8.40" fill="#91B694"/>
<rect x="425.46" y="1487.68" width="8.40" height="8.40" fill="#9BBD8C"/>
<rect x="433.84" y="1487.68" width="8.40" height="8.40" fill="#A5C585"/>
<rect x="442.22" y="1487.68" width="16.78" height="8.40" fill="#FF7300"/>
<rect x="458.98" y="1487.68" width="8.40" height="8.40" fill="#FF9900"/>
<rect x="467.36" y="1487.68" width="25.16" height="8.40" fill="#FF0000"/>
<rect x="492.50" y="1487.68" width="8.40" height="8.40" fill="#FF9900"/>
<rect x="500.88" y="1487.68" width="8.40" height="8.40" fill="#FF7300"/>
<rect x="509.25" y="1487.68" width="8.40" height="8.40" fill="#FF9900"/>
<rect x="517.63" y="1487.68" width="8.40" height="8.40" fill="#A5C585"/>
<rect x="526.01" y="1487.68" width="8.40" height="8.40" fill="#91B694"/>
<rect x="534.39" y="1487.68" width="8.40" height="8.40" fill="#87AE9B"/>
<rect x="542.77" y="1487.68" width="8.40" height="8.40" fill="#749EAA"/>
<rect x="375.19" y="1479.30" width="16.78" height="8.40" fill="#749EAA"/>
<rect x="391.94" y="1479.30" width="8.40" height="8.40" fill="#7EA6A3"/>
<rect x="400.32" y="1479.30" width="25.16" height="8.40" fill="#87AE9B"/>
<rect x="425.46" y="1479.30" width="8.40" height="8.40" fill="#91B694"/>
<rect x="433.84" y="1479.30" width="8.40" height="8.40" fill="#9BBD8C"/>
<rect x="442.22" y="1479.30" width="8.40" height="8.40" fill="#A5C585"/>
<rect x="450.60" y="1479.30" width="8.40" height="8.40" fill="#FF9900"/>
<rect x="458.98" y="1479.30" width="8.40" height="8.40" fill="#FF7300"/>
<rect x="467.36" y="1479.30" width="8.40" height="8.40" fill="#FF9900"/>
<rect x="475.74" y="1479.30" width="25.16" height="8.40" fill="#FF0000"/>
<rect x="500.88" y="1479.30" width="8.40" height="8.40" fill="#FF9900"/>
<rect x="509.25" y="1479.30" width="8.40" height="8.40" fill="#FF7300"/>
<rect x="517.63" y="1479.30" width="8.40" height="8.40" fill="#A5C585"/>
<rect x="526.01" y="1479.30" width="8.40" height="8.40" fill="#9BBD8C"/>
<rect x="534.39" y="1479.30" width="8.40" height="8.40" fill="#87AE9B"/>
<rect x="542.77" y="1479.30" width="8.40" height="8.40" fill="#7EA6A3"/>
<rect x="551.15" y="1479.30" width="8.40" height="8.40" fill="#749EAA"/>
<rect x="375.19" y="1470.92" width="25.16" height="8.40" fill="#749EAA"/>
<rect x="400.32" y="1470.92" width="16.78" height="8.40" fill="#7EA6A3"/>
<rect x="417.08" y="1470.92" width="16.78" height="8.40" fill="#87AE9B"/>
<rect x="433.84" y="1470.92" width="8.40" height="8.40" fill="#91B694"/>
<rect x="442.22" y="1470.92" width="8.40" height="8.40" fill="#9BBD8C"/>
<rect x="450.60" y="1470.92" width="8.40" height="8.40" fill="#A5C585"/>
<rect x="458.98" y="1470.92" width="8.40" height="8.40" fill="#FF9900"/>
<rect x="467.36" y="1470.92" width="8.40" height="8.40" fill="#FF7300"/>
<rect x="475.74" y="1470.92" width="8.40" height="8.40" fill="#FF9900"/>
<rect x="484.12" y="1470.92" width="25.16" height="8.40" fill="#FF0000"/>
<rect x="509.25" y="1470.92" width="8.40" height="8.40" fill="#FF9900"/>
<rect x="517.63" y="1470.92" width="8.40" height="8.40" fill="#A5C585"/>
<rect x="526.01" y="1470.92" width="8.40" height="8.40" fill="#91B694"/>
<rect x="534.39" y="1470.92" width="8.40" height="8.40" fill="#87AE9B"/>
<rect x="542.77" y="1470.92" width="8.40" height="8.40" fill="#749EAA"/>
<rect x="551.15" y="1470.92" width="8.40" height="8.40" fill="#6A97B2"/>
<rect x="391.94" y="1462.55" width="25.16" height="8.40" fill="#749EAA"/>
<rect x="417.08" y="1462.55" width="16.78" height="8.40" fill="#7EA6A3"/>
<rect x="433.84" y="1462.55" width="8.40" height="8.40" fill="#87AE9B"/>
<rect x="442.22" y="1462.55" width="8.40" height="8.40" fill="#91B694"/>
<rect x="450.60" y="1462.55" width="8.40" height="8.40" fill="#9BBD8C"/>
<rect x="458.98" y="1462.55" width="8.40" height="8.40" fill="#A5C585"/>
<rect x="467.36" y="1462.55" width="8.40" height="8.40" fill="#FF9900"/>
<rect x="475.74" y="1462.55" width="8.40" height="8.40" fill="#FF7300"/>
<rect x="484.12" y="1462.55" width="8.40" height="8.40" fill="#FF9900"/>
<rect x="492.50" y="1462.55" width="25.16" height="8.40" fill="#FF0000"/>
<rect x="517.63" y="1462.55" width="8.40" height="8.40" fill="#AFCD7D"/>
<rect x="526.01" y="1462.55" width="8.40" height="8.40" fill="#A5C585"/>
<rect x="534.39" y="1462.55" width="8.40" height="8.40" fill="#91B694"/>
<rect x="542.77" y="1462.55" width="8.40" height="8.40" fill="#87AE9B"/>
<rect x="551.15" y="1462.55" width="8.40" height="8.40" fill="#749EAA"/>
<rect x="559.53" y="1462.55" width="8.40" height="8.40" fill="#6A97B2"/>
<rect x="400.32" y="1454.17" width="33.54" height="8.40" fill="#749EAA"/>
<rect x="433.84" y="1454.17" width="8.40" height="8.40" fill="#7EA6A3"/>
<rect x="442.22" y="1454.17" width="8.40" height="8.40" fill="#87AE9B"/>
<rect x="450.60" y="1454.17" width="8.40" height="8.40" fill="#91B694"/>
<rect x="458.98" y="1454.17" width="8.40" height="8.40" fill="#9BBD8C"/>
<rect x="467.36" y="1454.17" width="8.40" height="8.40" fill="#A5C585"/>
<rect x="475.74" y="1454.17" width="8.40" height="8.40" fill="#FF9900"/>
<rect x="484.12" y="1454.17" width="8.40" height="8.40" fill="#FF7300"/>
<rect x="492.50" y="1454.17" width="8.40" height="8.40" fill="#FF9900"/>
<rect x="500.88" y="1454.17" width="25.16" height="8.40" fill="#FF0000"/>
<rect x="526.01" y="1454.17" width="16.78" height="8.40" fill="#A5C585"/>
<rect x="542.77" y="1454.17" width="8.40" height="8.40" fill="#FF7300"/>
<rect x="551.15" y="1454.17" width="8.40" height="8.40" fill="#A5C585"/>
<rect x="559.53" y="1454.17" width="8.40" height="8.40" fill="#91B694"/>
<rect x="567.91" y="1454.17" width="8.40" height="8.40" fill="#87AE9B"/>
<rect x="576.29" y="1454.17" width="8.40" height="8.40" fill="#749EAA"/>
<rect x="433.84" y="1445.79" width="8.40" height="8.40" fill="#749EAA"/>
<rect x="442.22" y="1445.79" width="8.40" height="8.40" fill="#7EA6A3"/>
<rect x="450.60" y="1445.79" width="8.40" height="8.40" fill="#87AE9B"/>
<rect x="458.98" y="1445.79" width="8.40" height="8.40" fill="#91B694"/>
<rect x="467.36" y="1445.79" width="8.40" height="8.40" fill="#9BBD8C"/>
<rect x="475.74" y="1445.79" width="25.16" height="8.40" fill="#A5C585"/>
<rect x="500.88" y="1445.79" width="8.40" height="8.40" fill="#AFCD7D"/>
<rect x="509.25" y="1445.79" width="25.16" height="8.40" fill="#FF0000"/>
<rect x="534.39" y="1445.79" width="8.40" height="8.40" fill="#FF7300"/>
<rect x="542.77" y="1445.79" width="8.40" height="8.40" fill="#FF4C00"/>
<rect x="551.15" y="1445.79" width="8.40" height="8.40" fill="#A5C585"/>
<rect x="559.53" y="1445.79" width="8.40" height="8.40" fill="#91B694"/>
<rect x="567.91" y="1445.79" width="8.40" height="8.40" fill="#87AE9B"/>
<rect x="576.29" y="1445.79" width="8.40" height="8.40" fill="#749EAA"/>
<rect x="442.22" y="1437.41" width="8.40" height="8.40" fill="#749EAA"/>
<rect x="450.60" y="1437.41" width="8.40" height="8.40" fill="#7EA6A3"/>
<rect x="458.98" y="1437.41" width="16.78" height="8.40" fill="#87AE9B"/>
<rect x="475.74" y="1437.41" width="8.40" height="8.40" fill="#91B694"/>
<rect x="484.12" y="1437.41" width="8.40" height="8.40" fill="#9BBD8C"/>
<rect x="492.50" y="1437.41" width="8.40" height="8.40" fill="#91B694"/>
<rect x="500.88" y="1437.41" width="16.78" height="8.40" fill="#A5C585"/>
<rect x="517.63" y="1437.41" width="25.16" height="8.40" fill="#FF0000"/>
<rect x="542.77" y="1437.41" width="8.40" height="8.40" fill="#AFCD7D"/>
<rect x="551.15" y="1437.41" width="8.40" height="8.40" fill="#A5C585"/>
<rect x="559.53" y="1437.41" width="8.40" height="8.40" fill="#91B694"/>
<rect x="567.91" y="1437.41" width="8.40" height="8.40" fill="#87AE9B"/>
<rect x="576.29" y="1437.41" width="8.40" height="8.40" fill="#749EAA"/>
<rect x="450.60" y="1429.03" width="8.40" height="8.40" fill="#749EAA"/>
<rect x="458.98" y="1429.03" width="16.78" height="8.40" fill="#7EA6A3"/>
<rect x="475.74" y="1429.03" width="25.16" height="8.40" fill="#87AE9B"/>
<rect x="500.88" y="1429.03" width="8.40" height="8.40" fill="#91B694"/>
<rect x="509.25" y="1429.03" width="8.40" height="8.40" fill="#A5C585"/>
<rect x="517.63" y="1429.03" width="8.40" height="8.40" fill="#FF7300"/>
<rect x="526.01" y="1429.03" width="25.16" height="8.40" fill="#FF0000"/>
<rect x="551.15" y="1429.03" width="8.40" height="8.40" fill="#FF9900"/>
<rect x="559.53" y="1429.03" width="8.40" height="8.40" fill="#A5C585"/>
<rect x="567.91" y="1429.03" width="8.40" height="8.40" fill="#91B694"/>
<rect x="576.29" y="1429.03" width="8.40" height="8.40" fill="#87AE9B"/>
<rect x="584.67" y="1429.03" width="8.40" height="8.40" fill="#749EAA"/>
<rect x="458.98" y="1420.65" width="25.16" height="8.40" fill="#749EAA"/>
<rect x="484.12" y="1420.65" width="8.40" height="8.40" fill="#7EA6A3"/>
<rect x="492.50" y="1420.65" width="8.40" height="8.40" fill="#749EAA"/>
<rect x="500.88" y="1420.65" width="8.40" height="8.40" fill="#87AE9B"/>
<rect x="509.25" y="1420.65" width="8.40" height="8.40" fill="#FF7300"/>
<rect x="517.63" y="1420.65" width="8.40" height="8.40" fill="#FF4C00"/>
<rect x="526.01" y="1420.65" width="8.40" height="8.40" fill="#AFCD7D"/>
<rect x="534.39" y="1420.65" width="25.16" height="8.40" fill="#FF0000"/>
<rect x="559.53" y="1420.65" width="8.40" height="8.40" fill="#FF9900"/>
<rect x="567.91" y="1420.65" width="8.40" height="8.40" fill="#A5C585"/>
<rect x="576.29" y="1420.65" width="8.40" height="8.40" fill="#91B694"/>
<rect x="584.67" y="1420.65" width="8.40" height="8.40" fill="#87AE9B"/>
<rect x="593.05" y="1420.65" width="8.40" height="8.40" fill="#749EAA"/>
<rect x="484.12" y="1412.27" width="8.40" height="8.40" fill="#749EAA"/>
<rect x="492.50" y="1412.27" width="8.40" height="8.40" fill="#6A97B2"/>
<rect x="500.88" y="1412.27" width="8.40" height="8.40" fill="#749EAA"/>
<rect x="509.25" y="1412.27" width="25.16" height="8.40" fill="#A5C585"/>
<rect x="534.39" y="1412.27" width="8.40" height="8.40" fill="#FF9900"/>
<rect x="542.77" y="1412.27" width="25.16" height="8.40" fill="#FF0000"/>
<rect x="567.91" y="1412.27" width="8.40" height="8.40" fill="#FF9900"/>
<rect x="576.29" y="1412.27" width="8.40" height="8.40" fill="#A5C585"/>
<rect x="584.67" y="1412.27" width="8.40" height="8.40" fill="#91B694"/>
<rect x="593.05" y="1412.27" width="8.40" height="8.40" fill="#87AE9B"/>
<rect x="601.43" y="1412.27" width="8.40" height="8.40" fill="#749EAA"/>
<rect x="500.88" y="1403.89" width="8.40" height="8.40" fill="#6A97B2"/>
<rect x="509.25" y="1403.89" width="25.16" height="8.40" fill="#91B694"/>
<rect x="534.39" y="1403.89" width="8.40" height="8.40" fill="#A5C585"/>
<rect x="542.77" y="1403.89" width="8.40" height="8.40" fill="#FF9900"/>
<rect x="551.15" y="1403.89" width="25.16" height="8.40" fill="#FF0000"/>
<rect x="576.29" y="1403.89" width="8.40" height="8.40" fill="#AFCD7D"/>
<rect x="584.67" y="1403.89" width="8.40" height="8.40" fill="#A5C585"/>
<rect x="593.05" y="1403.89" width="8.40" height="8.40" fill="#91B694"/>
<rect x="601.43" y="1403.89" width="8.40" height="8.40" fill="#87AE9B"/>
<rect x="609.81" y="1403.89" width="8.40" height="8.40" fill="#749EAA"/>
<rect x="509.25" y="1395.51" width="25.16" height="8.40" fill="#87AE9B"/>
<rect x="534.39" y="1395.51" width="8.40" height="8.40" fill="#91B694"/>
<rect x="542.77" y="1395.51" width="8.40" height="8.40" fill="#A5C585"/>
<rect x="551.15" y="1395.51" width="8.40" height="8.40" fill="#FF9900"/>
<rect x="559.53" y="1395.51" width="25.16" height="8.40" fill="#FF0000"/>
<rect x="584.67" y="1395.51" width="8.40" height="8.40" fill="#FF9900"/>
<rect x="593.05" y="1395.51" width="8.40" height="8.40" fill="#A5C585"/>
<rect x="601.43" y="1395.51" width="8.40" height="8.40" fill="#91B694"/>
<rect x="609.81" y="1395.51" width="8.40" height="8.40" fill="#87AE9B"/>
<rect x="618.19" y="1395.51" width="8.40" height="8.40" fill="#749EAA"/>
<rect x="509.25" y="1387.13" width="25.16" height="8.40" fill="#749EAA"/>
<rect x="534.39" y="1387.13" width="8.40" height="8.40" fill="#87AE9B"/>
<rect x="542.77" y="1387.13" width="8.40" height="8.40" fill="#91B694"/>
<rect x="551.15" y="1387.13" width="8.40" height="8.40" fill="#A5C585"/>
<rect x="559.53" y="1387.13" width="8.40" height="8.40" fill="#AFCD7D"/>
<rect x="567.91" y="1387.13" width="25.16" height="8.40" fill="#FF0000"/>
<rect x="593.05" y="1387.13" width="8.40" height="8.40" fill="#FF9900"/>
<rect x="601.43" y="1387.13" width="8.40" height="8.40" fill="#A5C585"/>
<rect x="609.81" y="1387.13" width="8.40" height="8.40" fill="#91B694"/>
<rect x="618.19" y="1387.13" width="8.40" height="8.40" fill="#87AE9B"/>
<rect x="626.56" y="1387.13" width="8.40" height="8.40" fill="#749EAA"/>
<rect x="534.39" y="1378.75" width="8.40" height="8.40" fill="#749EAA"/>
<rect x="542.77" y="1378.75" width="8.40" height="8.40" fill="#87AE9B"/>
<rect x="551.15" y="1378.75" width="8.40" height="8.40" fill="#91B694"/>
<rect x="559.53" y="1378.75" width="8.40" height="8.40" fill="#A5C585"/>
<rect x="567.91" y="1378.75" width="8.40" height="8.40" fill="#FF9900"/>
<rect x="576.29" y="1378.75" width="25.16" height="8.40" fill="#FF0000"/>
<rect x="601.43" y="1378.75" width="8.40" height="8.40" fill="#AFCD7D"/>
<rect x="609.81" y="1378.75" width="8.40" height="8.40" fill="#A5C585"/>
<rect x="618.19" y="1378.75" width="8.40" height="8.40" fill="#91B694"/>
<rect x="626.56" y="1378.75" width="8.40" height="8.40" fill="#87AE9B"/>
<rect x="634.94" y="1378.75" width="8.40" height="8.40" fill="#749EAA"/>
<rect x="542.77" y="1370.37" width="8.40" height="8.40" fill="#749EAA"/>
<rect x="551.15" y="1370.37" width="8.40" height="8.40" fill="#87AE9B"/>
<rect x="559.53" y="1370.37" width="8.40" height="8.40" fill="#91B694"/>
<rect x="567.91" y="1370.37" width="8.40" height="8.40" fill="#A5C585"/>
<rect x="576.29" y="1370.37" width="8.40" height="8.40" fill="#FF9900"/>
<rect x="584.67" y="1370.37" width="25.16" height="8.40" fill="#FF0000"/>
<rect x="609.81" y="1370.37" width="8.40" height="8.40" fill="#FF9900"/>
<rect x="618.19" y="1370.37" width="8.40" height="8.40" fill="#A5C585"/>
<rect x="626.56" y="1370.37" width="8.40" height="8.40" fill="#91B694"/>
<rect x="634.94" y="1370.37" width="8.40" height="8.40" fill="#87AE9B"/>
<rect x="643.32" y="1370.37" width="8.40" height="8.40" fill="#749EAA"/>
<rect x="551.15" y="1361.99" width="8.40" height="8.40" fill="#749EAA"/>
<rect x="559.53" y="1361.99" width="8.40" height="8.40" fill="#87AE9B"/>
<rect x="567.91" y="1361.99" width="8.40" height="8.40" fill="#91B694"/>
<rect x="576.29" y="1361.99" width="8.40" height="8.40" fill="#A5C585"/>
<rect x="584.67" y="1361.99" width="8.40" height="8.40" fill="#AFCD7D"/>
<rect x="593.05" y="1361.99" width="25.16" height="8.40" fill="#FF0000"/>
<rect x="618.19" y="1361.99" width="8.40" height="8.40" fill="#FF9900"/>
<rect x="626.56" y="1361.99" width="8.40" height="8.40" fill="#A5C585"/>
<rect x="634.94" y="1361.99" width="8.40" height="8.40" fill="#91B694"/>
<rect x="643.32" y="1361.99" width="8.40" height="8.40" fill="#87AE9B"/>
<rect x="651.70" y="1361.99" width="8.40" height="8.40" fill="#749EAA"/>
<rect x="559.53" y="1353.61" width="8.40" height="8.40" fill="#749EAA"/>
<rect x="567.91" y="1353.61" width="8.40" height="8.40" fill="#87AE9B"/>
<rect x="576.29" y="1353.61" width="8.40" height="8.40" fill="#91B694"/>
<rect x="584.67" y="1353.61" width="8.40" height="8.40" fill="#A5C585"/>
<rect x="593.05" y="1353.61" width="8.40" height="8.40" fill="#FF9900"/>
<rect x="601.43" y="1353.61" width="25.16" height="8.40" fill="#FF0000"/>
<rect x="626.56" y="1353.61" width="8.40" height="8.40" fill="#FF9900"/>
<rect x="634.94" y="1353.61" width="8.40" height="8.40" fill="#A5C585"/>
<rect x="643.32" y="1353.61" width="8.40" height="8.40" fill="#91B694"/>
<rect x="651.70" y="1353.61" width="8.40" height="8.40" fill="#87AE9B"/>
<rect x="660.08" y="1353.61" width="8.40" height="8.40" fill="#749EAA"/>
<rect x="567.91" y="1345.24" width="8.40" height="8.40" fill="#749EAA"/>
<rect x="576.29" y="1345.24" width="8.40" height="8.40" fill="#87AE9B"/>
<rect x="584.67" y="1345.24" width="8.40" height="8.40" fill="#91B694"/>
<rect x="593.05" y="1345.24" width="8.40" height="8.40" fill="#A5C585"/>
<rect x="601.43" y="1345.24" width="8.40" height="8.40" fill="#FF9900"/>
<rect x="609.81" y="1345.24" width="25.16" height="8.40" fill="#FF0000"/>
<rect x="634.94" y="1345.24" width="8.40" height="8.40" fill="#FF9900"/>
<rect x="643.32" y="1345.24" width="8.40" height="8.40" fill="#A5C585"/>
<rect x="651.70" y="1345.24" width="8.40" height="8.40" fill="#91B694"/>
<rect x="660.08" y="1345.24" width="8.40" height="8.40" fill="#87AE9B"/>
<rect x="668.46" y="1345.24" width="8.40" height="8.40" fill="#749EAA"/>
<rect x="576.29" y="1336.86" width="8.40" height="8.40" fill="#749EAA"/>
<rect x="584.67" y="1336.86" width="8.40" height="8.40" fill="#87AE9B"/>
<rect x="593.05" y="1336.86" width="8.40" height="8.40" fill="#91B694"/>
<rect x="601.43" y="1336.86" width="8.40" height="8.40" fill="#A5C585"/>
<rect x="609.81" y="1336.86" width="8.40" height="8.40" fill="#FF9900"/>
<rect x="618.19" y="1336.86" width="25.16" height="8.40" fill="#FF0000"/>
<rect x="643.32" y="1336.86" width="8.40" height="8.40" fill="#FF7300"/>
<rect x="651.70" y="1336.86" width="8.40" height="8.40" fill="#A5C585"/>
<rect x="660.08" y="1336.86" width="8.40" height="8.40" fill="#91B694"/>
<rect x="668.46" y="1336.86" width="8.40" height="8.40" fill="#87AE9B"/>
<rect x="676.84" y="1336.86" width="8.40" height="8.40" fill="#749EAA"/>
<rect x="584.67" y="1328.48" width="8.40" height="8.40" fill="#749EAA"/>
<rect x="593.05" y="1328.48" width="8.40" height="8.40" fill="#87AE9B"/>
<rect x="601.43" y="1328.48" width="8.40" height="8.40" fill="#91B694"/>
<rect x="609.81" y="1328.48" width="8.40" height="8.40" fill="#A5C585"/>
<rect x="618.19" y="1328.48" width="8.40" height="8.40" fill="#FF9900"/>
<rect x="626.56" y="1328.48" width="25.16" height="8.40" fill="#FF0000"/>
<rect x="651.70" y="1328.48" width="8.40" height="8.40" fill="#AFCD7D"/>
<rect x="660.08" y="1328.48" width="8.40" height="8.40" fill="#A5C585"/>
<rect x="668.46" y="1328.48" width="8.40" height="8.40" fill="#91B694"/>
<rect x="676.84" y="1328.48" width="8.40" height="8.40" fill="#87AE9B"/>
<rect x="685.22" y="1328.48" width="8.40" height="8.40" fill="#749EAA"/>
<rect x="593.05" y="1320.10" width="8.40" height="8.40" fill="#749EAA"/>
<rect x="601.43" y="1320.10" width="8.40" height="8.40" fill="#87AE9B"/>
<rect x="609.81" y="1320.10" width="8.40" height="8.40" fill="#91B694"/>
<rect x="618.19" y="1320.10" width="8.40" height="8.40" fill="#A5C585"/>
<rect x="626.56" y="1320.10" width="8.40" height="8.40" fill="#FF7300"/>
<rect x="634.94" y="1320.10" width="25.16" height="8.40" fill="#FF0000"/>
<rect x="660.08" y="1320.10" width="8.40" height="8.40" fill="#FF9900"/>
<rect x="668.46" y="1320.10" width="8.40" height="8.40" fill="#A5C585"/>
<rect x="676.84" y="1320.10" width="8.40" height="8.40" fill="#91B694"/>
<rect x="685.22" y="1320.10" width="8.40" height="8.40" fill="#87AE9B"/>
<rect x="693.60" y="1320.10" width="8.40" height="8.40" fill="#749EAA"/>
<rect x="601.43" y="1311.72" width="8.40" height="8.40" fill="#749EAA"/>
<rect x="609.81" y="1311.72" width="8.40" height="8.40" fill="#87AE9B"/>
<rect x="618.19" y="1311.72" width="8.40" height="8.40" fill="#91B694"/>
<rect x="626.56" y="1311.72" width="8.40" height="8.40" fill="#A5C585"/>
<rect x="634.94" y="1311.72" width="8.40" height="8.40" fill="#AFCD7D"/>
<rect x="643.32" y="1311.72" width="25.16" height="8.40" fill="#FF0000"/>
<rect x="668.46" y="1311.72" width="8.40" height="8.40" fill="#FF9900"/>
<rect x="676.84" y="1311.72" width="8.40" height="8.40" fill="#A5C585"/>
<rect x="685.22" y="1311.72" width="8.40" height="8.40" fill="#91B694"/>
<rect x="693.60" y="1311.72" width="8.40" height="8.40" fill="#87AE9B"/>
<rect x="701.98" y="1311.72" width="8.40" height="8.40" fill="#749EAA"/>
<rect x="609.81" y="1303.34" width="8.40" height="8.40" fill="#749EAA"/>
<rect x="618.19" y="1303.34" width="8.40" height="8.40" fill="#87AE9B"/>
<rect x="626.56" y="1303.34" width="8.40" height="8.40" fill="#91B694"/>
<rect x="634.94" y="1303.34" width="8.40" height="8.40" fill="#A5C585"/>
<rect x="643.32" y="1303.34" width="8.40" height="8.40" fill="#FF9900"/>
<rect x="651.70" y="1303.34" width="25.16" height="8.40" fill="#FF0000"/>
<rect x="676.84" y="1303.34" width="8.40" height="8.40" fill="#FF9900"/>
<rect x="685.22" y="1303.34" width="8.40" height="8.40" fill="#A5C585"/>
<rect x="693.60" y="1303.34" width="8.40" height="8.40" fill="#91B694"/>
<rect x="701.98" y="1303.34" width="8.40" height="8.40" fill="#87AE9B"/>
<rect x="710.36" y="1303.34" width="8.40" height="8.40" fill="#749EAA"/>
<rect x="618.19" y="1294.96" width="8.40" height="8.40" fill="#749EAA"/>
<rect x="626.56" y="1294.96" width="8.40" height="8.40" fill="#87AE9B"/>
<rect x="634.94" y="1294.96" width="8.40" height="8.40" fill="#91B694"/>
<rect x="643.32" y="1294.96" width="8.40" height="8.40" fill="#A5C585"/>
<rect x="651.70" y="1294.96" width="8.40" height="8.40" fill="#FF9900"/>
<rect x="660.08" y="1294.96" width="25.16" height="8.40" fill="#FF0000"/>
<rect x="685.22" y="1294.96" width="8.40" height="8.40" fill="#FF9900"/>
<rect x="693.60" y="1294.96" width="8.40" height="8.40" fill="#A5C585"/>
<rect x="701.98" y="1294.96" width="8.40" height="8.40" fill="#91B694"/>
<rect x="710.36" y="1294.96" width="8.40" height="8.40" fill="#87AE9B"/>
<rect x="718.74" y="1294.96" width="8.40" height="8.40" fill="#749EAA"/>
<rect x="626.56" y="1286.58" width="8.40" height="8.40" fill="#749EAA"/>
<rect x="634.94" y="1286.58" width="8.40" height="8.40" fill="#87AE9B"/>
<rect x="643.32" y="1286.58" width="8.40" height="8.40" fill="#91B694"/>
<rect x="651.70" y="1286.58" width="8.40" height="8.40" fill="#A5C585"/>
<rect x="660.08" y="1286.58" width="8.40" height="8.40" fill="#FF9900"/>
<rect x="668.46" y="1286.58" width="25.16" height="8.40" fill="#FF0000"/>
<rect x="693.60" y="1286.58" width="8.40" height="8.40" fill="#FF9900"/>
<rect x="701.98" y="1286.58" width="8.40" height="8.40" fill="#A5C585"/>
<rect x="710.36" y="1286.58" width="8.40" height="8.40" fill="#91B694"/>
<rect x="718.74" y="1286.58" width="8.40" height="8.40" fill="#87AE9B"/>
<rect x="727.12" y="1286.58" width="8.40" height="8.40" fill="#749EAA"/>
<rect x="634.94" y="1278.20" width="8.40" height="8.40" fill="#749EAA"/>
<rect x="643.32" y="1278.20" width="8.40" height="8.40" fill="#87AE9B"/>
<rect x="651.70" y="1278.20" width="8.40" height="8.40" fill="#91B694"/>
<rect x="660.08" y="1278.20" width="8.40" height="8.40" fill="#A5C585"/>
<rect x="668.46" y="1278.20" width="8.40" height="8.40" fill="#FF9900"/>
<rect x="676.84" y="1278.20" width="25.16" height="8.40" fill="#FF0000"/>
<rect x="701.98" y="1278.20" width="8.40" height="8.40" fill="#FF9900"/>
<rect x="710.36" y="1278.20" width="8.40" height="8.40" fill="#A5C585"/>
<rect x="718.74" y="1278.20" width="8.40" height="8.40" fill="#91B694"/>
<rect x="727.12" y="1278.20" width="8.40" height="8.40" fill="#87AE9B"/>
<rect x="735.50" y="1278.20" width="8.40" height="8.40" fill="#749EAA"/>
<rect x="643.32" y="1269.82" width="8.40" height="8.40" fill="#749EAA"/>
<rect x="651.70" y="1269.82" width="8.40" height="8.40" fill="#87AE9B"/>
<rect x="660.08" y="1269.82" width="8.40" height="8.40" fill="#91B694"/>
<rect x="668.46" y="1269.82" width="8.40" height="8.40" fill="#A5C585"/>
<rect x="676.84" y="1269.82" width="8.40" height="8.40" fill="#FF9900"/>
<rect x="685.22" y="1269.82" width="25.16" height="8.40" fill="#FF0000"/>
<rect x="710.36" y="1269.82" width="8.40" height="8.40" fill="#FF7300"/>
<rect x="718.74" y="1269.82" width="8.40" height="8.40" fill="#A5C585"/>
<rect x="727.12" y="1269.82" width="8.40" height="8.40" fill="#91B694"/>
<rect x="735.50" y="1269.82" width="8.40" height="8.40" fill="#87AE9B"/>
<rect x="743.87" y="1269.82" width="8.40" height="8.40" fill="#749EAA"/>
<rect x="651.70" y="1261.44" width="8.40" height="8.40" fill="#749EAA"/>
<rect x="660.08" y="1261.44" width="8.40" height="8.40" fill="#87AE9B"/>
<rect x="668.46" y="1261.44" width="8.40" height="8.40" fill="#91B694"/>
<rect x="676.84" y="1261.44" width="8.40" height="8.40" fill="#A5C585"/>
<rect x="685.22" y="1261.44" width="8.40" height="8.40" fill="#FF9900"/>
<rect x="693.60" y="1261.44" width="25.16" height="8.40" fill="#FF0000"/>
<rect x="718.74" y="1261.44" width="8.40" height="8.40" fill="#AFCD7D"/>
<rect x="727.12" y="1261.44" width="8.40" height="8.40" fill="#A5C585"/>
<rect x="735.50" y="1261.44" width="8.40" height="8.40" fill="#91B694"/>
<rect x="743.87" y="1261.44" width="8.40" height="8.40" fill="#87AE9B"/>
<rect x="752.25" y="1261.44" width="8.40" height="8.40" fill="#749EAA"/>
<rect x="660.08" y="1253.06" width="8.40" height="8.40" fill="#749EAA"/>
<rect x="668.46" y="1253.06" width="8.40" height="8.40" fill="#87AE9B"/>
<rect x="676.84" y="1253.06" width="8.40" height="8.40" fill="#91B694"/>
<rect x="685.22" y="1253.06" width="8.40" height="8.40" fill="#A5C585"/>
<rect x="693.60" y="1253.06" width="8.40" height="8.40" fill="#FF7300"/>
<rect x="701.98" y="1253.06" width="25.16" height="8.40" fill="#FF0000"/>
<rect x="727.12" y="1253.06" width="8.40" height="8.40" fill="#AFCD7D"/>
<rect x="735.50" y="1253.06" width="8.40" height="8.40" fill="#A5C585"/>
<rect x="743.87" y="1253.06" width="8.40" height="8.40" fill="#91B694"/>
<rect x="752.25" y="1253.06" width="8.40" height="8.40" fill="#87AE9B"/>
<rect x="760.63" y="1253.06" width="8.40" height="8.40" fill="#749EAA"/>
<rect x="668.46" y="1244.68" width="8.40" height="8.40" fill="#749EAA"/>
<rect x="676.84" y="1244.68" width="8.40" height="8.40" fill="#87AE9B"/>
<rect x="685.22" y="1244.68" width="8.40" height="8.40" fill="#91B694"/>
<rect x="693.60" y="1244.68" width="8.40" height="8.40" fill="#A5C585"/>
<rect x="701.98" y="1244.68" width="8.40" height="8.40" fill="#AFCD7D"/>
<rect x="710.36" y="1244.68" width="25.16" height="8.40" fill="#FF0000"/>
<rect x="735.50" y="1244.68" width="8.40" height="8.40" fill="#FF9900"/>
<rect x="743.87" y="1244.68" width="8.40" height="8.40" fill="#A5C585"/>
<rect x="752.25" y="1244.68" width="8.40" height="8.40" fill="#91B694"/>
<rect x="760.63" y="1244.68" width="8.40" height="8.40" fill="#87AE9B"/>
<rect x="769.01" y="1244.68" width="8.40" height="8.40" fill="#749EAA"/>
<rect x="676.84" y="1236.30" width="8.40" height="8.40" fill="#749EAA"/>
<rect x="685.22" y="1236.30" width="8.40" height="8.40" fill="#87AE9B"/>
<rect x="693.60" y="1236.30" width="8.40" height="8.40" fill="#91B694"/>
<rect x="701.98" y="1236.30" width="8.40" height="8.40" fill="#A5C585"/>
<rect x="710.36" y="1236.30" width="8.40" height="8.40" fill="#AFCD7D"/>
<rect x="718.74" y="1236.30" width="25.16" height="8.40" fill="#FF0000"/>
<rect x="743.87" y="1236.30" width="8.40" height="8.40" fill="#FF9900"/>
<rect x="752.25" y="1236.30" width="8.40" height="8.40" fill="#A5C585"/>
<rect x="760.63" y="1236.30" width="8.40" height="8.40" fill="#91B694"/>
<rect x="769.01" y="1236.30" width="8.40" height="8.40" fill="#87AE9B"/>
<rect x="777.39" y="1236.30" width="8.40" height="8.40" fill="#749EAA"/>
<rect x="685.22" y="1227.93" width="8.40" height="8.40" fill="#749EAA"/>
<rect x="693.60" y="1227.93" width="8.40" height="8.40" fill="#87AE9B"/>
<rect x="701.98" y="1227.93" width="8.40" height="8.40" fill="#91B694"/>
<rect x="710.36" y="1227.93" width="8.40" height="8.40" fill="#A5C585"/>
<rect x="718.74" y="1227.93" width="8.40" height="8.40" fill="#FF9900"/>
<rect x="727.12" y="1227.93" width="25.16" height="8.40" fill="#FF0000"/>
<rect x="752.25" y="1227.93" width="8.40" height="8.40" fill="#AFCD7D"/>
<rect x="760.63" y="1227.93" width="8.40" height="8.40" fill="#A5C585"/>
<rect x="769.01" y="1227.93" width="8.40" height="8.40" fill="#91B694"/>
<rect x="777.39" y="1227.93" width="8.40" height="8.40" fill="#87AE9B"/>
<rect x="785.77" y="1227.93" width="8.40" height="8.40" fill="#749EAA"/>
<rect x="693.60" y="1219.55" width="8.40" height="8.40" fill="#749EAA"/>
<rect x="701.98" y="1219.55" width="8.40" height="8.40" fill="#87AE9B"/>
<rect x="710.36" y="1219.55" width="8.40" height="8.40" fill="#91B694"/>
<rect x="718.74" y="1219.55" width="8.40" height="8.40" fill="#A5C585"/>
<rect x="727.12" y="1219.55" width="8.40" height="8.40" fill="#FF9900"/>
<rect x="735.50" y="1219.55" width="25.16" height="8.40" fill="#FF0000"/>
<rect x="760.63" y="1219.55" width="8.40" height="8.40" fill="#FF9900"/>
<rect x="769.01" y="1219.55" width="8.40" height="8.40" fill="#A5C585"/>
<rect x="777.39" y="1219.55" width="8.40" height="8.40" fill="#91B694"/>
<rect x="785.77" y="1219.55" width="8.40" height="8.40" fill="#87AE9B"/>
<rect x="794.15" y="1219.55" width="8.40" height="8.40" fill="#749EAA"/>
<rect x="701.98" y="1211.17" width="8.40" height="8.40" fill="#749EAA"/>
<rect x="710.36" y="1211.17" width="8.40" height="8.40" fill="#87AE9B"/>
<rect x="718.74" y="1211.17" width="8.40" height="8.40" fill="#91B694"/>
<rect x="727.12" y="1211.17" width="8.40" height="8.40" fill="#A5C585"/>
<rect x="735.50" y="1211.17" width="8.40" height="8.40" fill="#AFCD7D"/>
<rect x="743.87" y="1211.17" width="25.16" height="8.40" fill="#FF0000"/>
<rect x="769.01" y="1211.17" width="8.40" height="8.40" fill="#FF9900"/>
<rect x="777.39" y="1211.17" width="8.40" height="8.40" fill="#A5C585"/>
<rect x="785.77" y="1211.17" width="8.40" height="8.40" fill="#91B694"/>
<rect x="794.15" y="1211.17" width="8.40" height="8.40" fill="#87AE9B"/>
<rect x="802.53" y="1211.17" width="8.40" height="8.40" fill="#749EAA"/>
<rect x="710.36" y="1202.79" width="8.40" height="8.40" fill="#749EAA"/>
<rect x="718.74" y="1202.79" width="8.40" height="8.40" fill="#87AE9B"/>
<rect x="727.12" y="1202.79" width="8.40" height="8.40" fill="#91B694"/>
<rect x="735.50" y="1202.79" width="8.40" height="8.40" fill="#A5C585"/>
<rect x="743.87" y="1202.79" width="8.40" height="8.40" fill="#FF9900"/>
<rect x="752.25" y="1202.79" width="25.16" height="8.40" fill="#FF0000"/>
<rect x="777.39" y="1202.79" width="8.40" height="8.40" fill="#AFCD7D"/>
<rect x="785.77" y="1202.79" width="8.40" height="8.40" fill="#A5C585"/>
<rect x="794.15" y="1202.79" width="8.40" height="8.40" fill="#91B694"/>
<rect x="802.53" y="1202.79" width="8.40" height="8.40" fill="#87AE9B"/>
<rect x="810.91" y="1202.79" width="8.40" height="8.40" fill="#749EAA"/>
<rect x="718.74" y="1194.41" width="8.40" height="8.40" fill="#749EAA"/>
<rect x="727.12" y="1194.41" width="8.40" height="8.40" fill="#87AE9B"/>
<rect x="735.50" y="1194.41" width="8.40" height="8.40" fill="#91B694"/>
<rect x="743.87" y="1194.41" width="8.40" height="8.40" fill="#A5C585"/>
<rect x="752.25" y="1194.41" width="8.40" height="8.40" fill="#FF9900"/>
<rect x="760.63" y="1194.41" width="25.16" height="8.40" fill="#FF0000"/>
<rect x="785.77" y="1194.41" width="8.40" height="8.40" fill="#AFCD7D"/>
<rect x="794.15" y="1194.41" width="8.40" height="8.40" fill="#A5C585"/>
<rect x="802.53" y="1194.41" width="8.40" height="8.40" fill="#91B694"/>
<rect x="810.91" y="1194.41" width="8.40" height="8.40" fill="#87AE9B"/>
<rect x="819.29" y="1194.41" width="8.40" height="8.40" fill="#749EAA"/>
<rect x="727.12" y="1186.03" width="8.40" height="8.40" fill="#749EAA"/>
<rect x="735.50" y="1186.03" width="8.40" height="8.40" fill="#87AE9B"/>
<rect x="743.87" y="1186.03" width="8.40" height="8.40" fill="#91B694"/>
<rect x="752.25" y="1186.03" width="8.40" height="8.40" fill="#A5C585"/>
<rect x="760.63" y="1186.03" width="8.40" height="8.40" fill="#AFCD7D"/>
<rect x="769.01" y="1186.03" width="25.16" height="8.40" fill="#FF0000"/>
<rect x="794.15" y="1186.03" width="8.40" height="8.40" fill="#FF9900"/>
<rect x="802.53" y="1186.03" width="8.40" height="8.40" fill="#A5C585"/>
<rect x="810.91" y="1186.03" width="8.40" height="8.40" fill="#91B694"/>
<rect x="819.29" y="1186.03" width="8.40" height="8.40" fill="#87AE9B"/>
<rect x="827.67" y="1186.03" width="8.40" height="8.40" fill="#749EAA"/>
<rect x="735.50" y="1177.65" width="8.40" height="8.40" fill="#749EAA"/>
<rect x="743.87" y="1177.65" width="8.40" height="8.40" fill="#87AE9B"/>
<rect x="752.25" y="1177.65" width="8.40" height="8.40" fill="#91B694"/>
<rect x="760.63" y="1177.65" width="8.40" height="8.40" fill="#A5C585"/>
<rect x="769.01" y="1177.65" width="8.40" height="8.40" fill="#AFCD7D"/>
<rect x="777.39" y="1177.65" width="25.16" height="8.40" fill="#FF0000"/>
<rect x="802.53" y="1177.65" width="8.40" height="8.40" fill="#AFCD7D"/>
<rect x="810.91" y="1177.65" width="8.40" height="8.40" fill="#A5C585"/>
<rect x="819.29" y="1177.65" width="8.40" height="8.40" fill="#91B694"/>
<rect x="827.67" y="1177.65" width="8.40" height="8.40" fill="#87AE9B"/>
<rect x="836.05" y="1177.65" width="8.40" height="8.40" fill="#749EAA"/>
<rect x="743.87" y="1169.27" width="8.40" height="8.40" fill="#749EAA"/>
<rect x="752.25" y="1169.27" width="8.40" height="8.40" fill="#87AE9B"/>
<rect x="760.63" y="1169.27" width="8.40" height="8.40" fill="#91B694"/>
<rect x="769.01" y="1169.27" width="8.40" height="8.40" fill="#A5C585"/>
<rect x="777.39" y="1169.27" width="8.40" height="8.40" fill="#FF9900"/>
<rect x="785.77" y="1169.27" width="25.16" height="8.40" fill="#FF0000"/>
<rect x="810.91" y="1169.27" width="8.40" height="8.40" fill="#FF9900"/>
<rect x="819.29" y="1169.27" width="8.40" height="8.40" fill="#A5C585"/>
<rect x="827.67" y="1169.27" width="8.40" height="8.40" fill="#91B694"/>
<rect x="836.05" y="1169.27" width="8.40" height="8.40" fill="#87AE9B"/>
<rect x="844.43" y="1169.27" width="8.40" height="8.40" fill="#749EAA"/>
<rect x="752.25" y="1160.89" width="8.40" height="8.40" fill="#749EAA"/>
<rect x="760.63" y="1160.89" width="8.40" height="8.40" fill="#87AE9B"/>
<rect x="769.01" y="1160.89" width="8.40" height="8.40" fill="#91B694"/>
<rect x="777.39" y="1160.89" width="8.40" height="8.40" fill="#A5C585"/>
<rect x="785.77" y="1160.89" width="8.40" height="8.40" fill="#AFCD7D"/>
<rect x="794.15" y="1160.89" width="25.16" height="8.40" fill="#FF0000"/>
<rect x="819.29" y="1160.89" width="8.40" height="8.40" fill="#FF9900"/>
<rect x="827.67" y="1160.89" width="8.40" height="8.40" fill="#A5C585"/>
<rect x="836.05" y="1160.89" width="8.40" height="8.40" fill="#91B694"/>
<rect x="844.43" y="1160.89" width="8.40" height="8.40" fill="#87AE9B"/>
<rect x="852.81" y="1160.89" width="8.40" height="8.40" fill="#749EAA"/>
<rect x="760.63" y="1152.51" width="8.40" height="8.40" fill="#749EAA"/>
<rect x="769.01" y="1152.51" width="8.40" height="8.40" fill="#87AE9B"/>
<rect x="777.39" y="1152.51" width="8.40" height="8.40" fill="#91B694"/>
<rect x="785.77" y="1152.51" width="8.40" height="8.40" fill="#A5C585"/>
<rect x="794.15" y="1152.51" width="8.40" height="8.40" fill="#FF9900"/>
<rect x="802.53" y="1152.51" width="25.16" height="8.40" fill="#FF0000"/>
<rect x="827.67" y="1152.51" width="8.40" height="8.40" fill="#FF9900"/>
<rect x="836.05" y="1152.51" width="8.40" height="8.40" fill="#A5C585"/>
<rect x="844.43" y="1152.51" width="8.40" height="8.40" fill="#91B694"/>
<rect x="852.81" y="1152.51" width="8.40" height="8.40" fill="#87AE9B"/>
<rect x="861.18" y="1152.51" width="8.40" height="8.40" fill="#749EAA"/>
<rect x="769.01" y="1144.13" width="8.40" height="8.40" fill="#749EAA"/>
<rect x="777.39" y="1144.13" width="8.40" height="8.40" fill="#87AE9B"/>
<rect x="785.77" y="1144.13" width="8.40" height="8.40" fill="#91B694"/>
<rect x="794.15" y="1144.13" width="8.40" height="8.40" fill="#A5C585"/>
<rect x="802.53" y="1144.13" width="8.40" height="8.40" fill="#FF9900"/>
<rect x="810.91" y="1144.13" width="25.16" height="8.40" fill="#FF0000"/>
<rect x="836.05" y="1144.13" width="8.40" height="8.40" fill="#FF9900"/>
<rect x="844.43" y="1144.13" width="8.40" height="8.40" fill="#A5C585"/>
<rect x="852.81" y="1144.13" width="8.40" height="8.40" fill="#91B694"/>
<rect x="861.18" y="1144.13" width="8.40" height="8.40" fill="#87AE9B"/>
<rect x="869.56" y="1144.13" width="8.40" height="8.40" fill="#749EAA"/>
<rect x="777.39" y="1135.75" width="8.40" height="8.40" fill="#749EAA"/>
<rect x="785.77" y="1135.75" width="8.40" height="8.40" fill="#87AE9B"/>
<rect x="794.15" y="1135.75" width="8.40" height="8.40" fill="#91B694"/>
<rect x="802.53" y="1135.75" width="8.40" height="8.40" fill="#A5C585"/>
<rect x="810.91" y="1135.75" width="8.40" height="8.40" fill="#FF9900"/>
<rect x="819.29" y="1135.75" width="25.16" height="8.40" fill="#FF0000"/>
<rect x="844.43" y="1135.75" width="8.40" height="8.40" fill="#AFCD7D"/>
<rect x="852.81" y="1135.75" width="8.40" height="8.40" fill="#A5C585"/>
<rect x="861.18" y="1135.75" width="8.40" height="8.40" fill="#91B694"/>
<rect x="869.56" y="1135.75" width="8.40" height="8.40" fill="#87AE9B"/>
<rect x="877.94" y="1135.75" width="8.40" height="8.40" fill="#749EAA"/>
<rect x="785.77" y="1127.37" width="8.40" height="8.40" fill="#749EAA"/>
<rect x="794.15" y="1127.37" width="8.40" height="8.40" fill="#87AE9B"/>
<rect x="802.53" y="1127.37" width="8.40" height="8.40" fill="#91B694"/>
<rect x="810.91" y="1127.37" width="8.40" height="8.40" fill="#A5C585"/>
<rect x="819.29" y="1127.37" width="8.40" height="8.40" fill="#FF9900"/>
<rect x="827.67" y="1127.37" width="25.16" height="8.40" fill="#FF0000"/>
<rect x="852.81" y="1127.37" width="8.40" height="8.40" fill="#FF9900"/>
<rect x="861.18" y="1127.37" width="8.40" height="8.40" fill="#A5C585"/>
<rect x="869.56" y="1127.37" width="8.40" height="8.40" fill="#91B694"/>
<rect x="877.94" y="1127.37" width="8.40" height="8.40" fill="#87AE9B"/>
<rect x="886.32" y="1127.37" width="8.40" height="8.40" fill="#749EAA"/>
<rect x="794.15" y="1118.99" width="8.40" height="8.40" fill="#749EAA"/>
<rect x="802.53" y="1118.99" width="8.40" height="8.40" fill="#87AE9B"/>
<rect x="810.91" y="1118.99" width="8.40" height="8.40" fill="#91B694"/>
<rect x="819.29" y="1118.99" width="8.40" height="8.40" fill="#A5C585"/>
<rect x="827.67" y="1118.99" width="8.40" height="8.40" fill="#AFCD7D"/>
<rect x="836.05" y="1118.99" width="25.16" height="8.40" fill="#FF0000"/>
<rect x="861.18" y="1118.99" width="8.40" height="8.40" fill="#FF9900"/>
<rect x="869.56" y="1118.99" width="8.40" height="8.40" fill="#A5C585"/>
<rect x="877.94" y="1118.99" width="8.40" height="8.40" fill="#91B694"/>
<rect x="886.32" y="1118.99" width="8.40" height="8.40" fill="#87AE9B"/>
<rect x="894.70" y="1118.99" width="8.40" height="8.40" fill="#749EAA"/>
<rect x="802.53" y="1110.62" width="8.40" height="8.40" fill="#749EAA"/>
<rect x="810.91" y="1110.62" width="8.40" height="8.40" fill="#87AE9B"/>
<rect x="819.29" y="1110.62" width="8.40" height="8.40" fill="#91B694"/>
<rect x="827.67" y="1110.62" width="8.40" height="8.40" fill="#A5C585"/>
<rect x="836.05" y="1110.62" width="8.40" height="8.40" fill="#FF9900"/>
<rect x="844.43" y="1110.62" width="25.16" height="8.40" fill="#FF0000"/>
<rect x="869.56" y="1110.62" width="8.40" height="8.40" fill="#FF9900"/>
<rect x="877.94" y="1110.62" width="8.40" height="8.40" fill="#A5C585"/>
<rect x="886.32" y="1110.62" width="8.40" height="8.40" fill="#91B694"/>
<rect x="894.70" y="1110.62" width="8.40" height="8.40" fill="#87AE9B"/>
<rect x="903.08" y="1110.62" width="8.40" height="8.40" fill="#749EAA"/>
<rect x="810.91" y="1102.24" width="8.40" height="8.40" fill="#749EAA"/>
<rect x="819.29" y="1102.24" width="8.40" height="8.40" fill="#87AE9B"/>
<rect x="827.67" y="1102.24" width="8.40" height="8.40" fill="#91B694"/>
<rect x="836.05" y="1102.24" width="8.40" height="8.40" fill="#A5C585"/>
<rect x="844.43" y="1102.24" width="8.40" height="8.40" fill="#FF9900"/>
<rect x="852.81" y="1102.24" width="25.16" height="8.40" fill="#FF0000"/>
<rect x="877.94" y="1102.24" width="8.40" height="8.40" fill="#AFCD7D"/>
<rect x="886.32" y="1102.24" width="8.40" height="8.40" fill="#A5C585"/>
<rect x="894.70" y="1102.24" width="8.40" height="8.40" fill="#91B694"/>
<rect x="903.08" y="1102.24" width="8.40" height="8.40" fill="#87AE9B"/>
<rect x="911.46" y="1102.24" width="8.40" height="8.40" fill="#749EAA"/>
<rect x="819.29" y="1093.86" width="8.40" height="8.40" fill="#749EAA"/>
<rect x="827.67" y="1093.86" width="8.40" height="8.40" fill="#87AE9B"/>
<rect x="836.05" y="1093.86" width="8.40" height="8.40" fill="#91B694"/>
<rect x="844.43" y="1093.86" width="8.40" height="8.40" fill="#A5C585"/>
<rect x="852.81" y="1093.86" width="8.40" height="8.40" fill="#FF9900"/>
<rect x="861.18" y="1093.86" width="25.16" height="8.40" fill="#FF0000"/>
<rect x="886.32" y="1093.86" width="8.40" height="8.40" fill="#FF9900"/>
<rect x="894.70" y="1093.86" width="8.40" height="8.40" fill="#A5C585"/>
<rect x="903.08" y="1093.86" width="8.40" height="8.40" fill="#91B694"/>
<rect x="911.46" y="1093.86" width="8.40" height="8.40" fill="#87AE9B"/>
<rect x="919.84" y="1093.86" width="8.40" height="8.40" fill="#749EAA"/>
<rect x="827.67" y="1085.48" width="8.40" height="8.40" fill="#749EAA"/>
<rect x="836.05" y="1085.48" width="8.40" height="8.40" fill="#87AE9B"/>
<rect x="844.43" y="1085.48" width="8.40" height="8.40" fill="#91B694"/>
<rect x="852.81" y="1085.48" width="8.40" height="8.40" fill="#A5C585"/>
<rect x="861.18" y="1085.48" width="8.40" height="8.40" fill="#AFCD7D"/>
<rect x="869.56" y="1085.48" width="25.16" height="8.40" fill="#FF0000"/>
<rect x="894.70" y="1085.48" width="8.40" height="8.40" fill="#AFCD7D"/>
<rect x="903.08" y="1085.48" width="8.40" height="8.40" fill="#A5C585"/>
<rect x="911.46" y="1085.48" width="8.40" height="8.40" fill="#91B694"/>
<rect x="919.84" y="1085.48" width="8.40" height="8.40" fill="#87AE9B"/>
<rect x="928.22" y="1085.48" width="8.40" height="8.40" fill="#749EAA"/>
<rect x="836.05" y="1077.10" width="8.40" height="8.40" fill="#749EAA"/>
<rect x="844.43" y="1077.10" width="8.40" height="8.40" fill="#87AE9B"/>
<rect x="852.81" y="1077.10" width="8.40" height="8.40" fill="#91B694"/>
<rect x="861.18" y="1077.10" width="8.40" height="8.40" fill="#A5C585"/>
<rect x="869.56" y="1077.10" width="8.40" height="8.40" fill="#FF9900"/>
<rect x="877.94" y="1077.10" width="25.16" height="8.40" fill="#FF0000"/>
<rect x="903.08" y="1077.10" width="8.40" height="8.40" fill="#AFCD7D"/>
<rect x="911.46" y="1077.10" width="8.40" height="8.40" fill="#A5C585"/>
<rect x="919.84" y="1077.10" width="8.40" height="8.40" fill="#91B694"/>
<rect x="928.22" y="1077.10" width="8.40" height="8.40" fill="#87AE9B"/>
<rect x="936.60" y="1077.10" width="8.40" height="8.40" fill="#749EAA"/>
<rect x="844.43" y="1068.72" width="8.40" height="8.40" fill="#749EAA"/>
<rect x="852.81" y="1068.72" width="8.40" height="8.40" fill="#87AE9B"/>
<rect x="861.18" y="1068.72" width="8.40" height="8.40" fill="#91B694"/>
<rect x="869.56" y="1068.72" width="8.40" height="8.40" fill="#A5C585"/>
<rect x="877.94" y="1068.72" width="8.40" height="8.40" fill="#AFCD7D"/>
<rect x="886.32" y="1068.72" width="25.16" height="8.40" fill="#FF0000"/>
<rect x="911.46" y="1068.72" width="8.40" height="8.40" fill="#AFCD7D"/>
<rect x="919.84" y="1068.72" width="8.40" height="8.40" fill="#A5C585"/>
<rect x="928.22" y="1068.72" width="8.40" height="8.40" fill="#91B694"/>
<rect x="936.60" y="1068.72" width="8.40" height="8.40" fill="#87AE9B"/>
<rect x="944.98" y="1068.72" width="8.40" height="8.40" fill="#749EAA"/>
<rect x="852.81" y="1060.34" width="8.40" height="8.40" fill="#749EAA"/>
<rect x="861.18" y="1060.34" width="8.40" height="8.40" fill="#87AE9B"/>
<rect x="869.56" y="1060.34" width="8.40" height="8.40" fill="#91B694"/>
<rect x="877.94" y="1060.34" width="8.40" height="8.40" fill="#A5C585"/>
<rect x="886.32" y="1060.34" width="8.40" height="8.40" fill="#AFCD7D"/>
<rect x="894.70" y="1060.34" width="25.16" height="8.40" fill="#FF0000"/>
<rect x="919.84" y="1060.34" width="8.40" height="8.40" fill="#FF9900"/>
<rect x="928.22" y="1060.34" width="8.40" height="8.40" fill="#A5C585"/>
<rect x="936.60" y="1060.34" width="8.40" height="8.40" fill="#91B694"/>
<rect x="944.98" y="1060.34" width="8.40" height="8.40" fill="#87AE9B"/>
<rect x="953.36" y="1060.34" width="8.40" height="8.40" fill="#749EAA"/>
<rect x="861.18" y="1051.96" width="8.40" height="8.40" fill="#749EAA"/>
<rect x="869.56" y="1051.96" width="8.40" height="8.40" fill="#87AE9B"/>
<rect x="877.94" y="1051.96" width="8.40" height="8.40" fill="#91B694"/>
<rect x="886.32" y="1051.96" width="8.40" height="8.40" fill="#A5C585"/>
<rect x="894.70" y="1051.96" width="8.40" height="8.40" fill="#AFCD7D"/>
<rect x="903.08" y="1051.96" width="25.16" height="8.40" fill="#FF0000"/>
<rect x="928.22" y="1051.96" width="8.40" height="8.40" fill="#FF9900"/>
<rect x="936.60" y="1051.96" width="8.40" height="8.40" fill="#A5C585"/>
<rect x="944.98" y="1051.96" width="8.40" height="8.40" fill="#91B694"/>
<rect x="953.36" y="1051.96" width="8.40" height="8.40" fill="#87AE9B"/>
<rect x="961.74" y="1051.96" width="8.40" height="8.40" fill="#749EAA"/>
<rect x="869.56" y="1043.58" width="8.40" height="8.40" fill="#749EAA"/>
<rect x="877.94" y="1043.58" width="8.40" height="8.40" fill="#87AE9B"/>
<rect x="886.32" y="1043.58" width="8.40" height="8.40" fill="#91B694"/>
<rect x="894.70" y="1043.58" width="8.40" height="8.40" fill="#A5C585"/>
<rect x="903.08" y="1043.58" width="8.40" height="8.40" fill="#FF9900"/>
<rect x="911.46" y="1043.58" width="25.16" height="8.40" fill="#FF0000"/>
<rect x="936.60" y="1043.58" width="8.40" height="8.40" fill="#AFCD7D"/>
<rect x="944.98" y="1043.58" width="8.40" height="8.40" fill="#A5C585"/>
<rect x="953.36" y="1043.58" width="8.40" height="8.40" fill="#91B694"/>
<rect x="961.74" y="1043.58" width="8.40" height="8.40" fill="#87AE9B"/>
<rect x="877.94" y="1035.20" width="8.40" height="8.40" fill="#749EAA"/>
<rect x="886.32" y="1035.20" width="8.40" height="8.40" fill="#87AE9B"/>
<rect x="894.70" y="1035.20" width="8.40" height="8.40" fill="#91B694"/>
<rect x="903.08" y="1035.20" width="8.40" height="8.40" fill="#A5C585"/>
<rect x="911.46" y="1035.20" width="8.40" height="8.40" fill="#FF9900"/>
<rect x="919.84" y="1035.20" width="25.16" height="8.40" fill="#FF0000"/>
<rect x="944.98" y="1035.20" width="8.40" height="8.40" fill="#FF9900"/>
<rect x="953.36" y="1035.20" width="8.40" height="8.40" fill="#A5C585"/>
<rect x="961.74" y="1035.20" width="8.40" height="8.40" fill="#91B694"/>
<rect x="970.12" y="1035.20" width="8.40" height="8.40" fill="#87AE9B"/>
<rect x="978.49" y="1035.20" width="8.40" height="8.40" fill="#749EAA"/>
<rect x="886.32" y="1026.82" width="8.40" height="8.40" fill="#749EAA"/>
<rect x="894.70" y="1026.82" width="8.40" height="8.40" fill="#87AE9B"/>
<rect x="903.08" y="1026.82" width="8.40" height="8.40" fill="#91B694"/>
<rect x="911.46" y="1026.82" width="8.40" height="8.40" fill="#A5C585"/>
<rect x="919.84" y="1026.82" width="8.40" height="8.40" fill="#AFCD7D"/>
<rect x="928.22" y="1026.82" width="25.16" height="8.40" fill="#FF0000"/>
<rect x="953.36" y="1026.82" width="8.40" height="8.40" fill="#FF9900"/>
<rect x="961.74" y="1026.82" width="8.40" height="8.40" fill="#A5C585"/>
<rect x="970.12" y="1026.82" width="8.40" height="8.40" fill="#91B694"/>
<rect x="978.49" y="1026.82" width="8.40" height="8.40" fill="#87AE9B"/>
<rect x="986.87" y="1026.82" width="8.40" height="8.40" fill="#749EAA"/>
<rect x="894.70" y="1018.44" width="8.40" height="8.40" fill="#749EAA"/>
<rect x="903.08" y="1018.44" width="8.40" height="8.40" fill="#87AE9B"/>
<rect x="911.46" y="1018.44" width="8.40" height="8.40" fill="#91B694"/>
<rect x="919.84" y="1018.44" width="8.40" height="8.40" fill="#A5C585"/>
<rect x="928.22" y="1018.44" width="8.40" height="8.40" fill="#FF9900"/>
<rect x="936.60" y="1018.44" width="25.16" height="8.40" fill="#FF0000"/>
<rect x="961.74" y="1018.44" width="8.40" height="8.40" fill="#AFCD7D"/>
<rect x="970.12" y="1018.44" width="8.40" height="8.40" fill="#A5C585"/>
<rect x="978.49" y="1018.44" width="8.40" height="8.40" fill="#91B694"/>
<rect x="986.87" y="1018.44" width="8.40" height="8.40" fill="#87AE9B"/>
<rect x="995.25" y="1018.44" width="8.40" height="8.40" fill="#749EAA"/>
<rect x="903.08" y="1010.06" width="8.40" height="8.40" fill="#749EAA"/>
<rect x="911.46" y="1010.06" width="8.40" height="8.40" fill="#87AE9B"/>
<rect x="919.84" y="1010.06" width="8.40" height="8.40" fill="#91B694"/>
<rect x="928.22" y="1010.06" width="8.40" height="8.40" fill="#A5C585"/>
<rect x="936.60" y="1010.06" width="8.40" height="8.40" fill="#FF9900"/>
<rect x="944.98" y="1010.06" width="25.16" height="8.40" fill="#FF0000"/>
<rect x="970.12" y="1010.06" width="8.40" height="8.40" fill="#FF9900"/>
<rect x="978.49" y="1010.06" width="8.40" height="8.40" fill="#A5C585"/>
<rect x="986.87" y="1010.06" width="8.40" height="8.40" fill="#91B694"/>
<rect x="995.25" y="1010.06" width="8.40" height="8.40" fill="#87AE9B"/>
<rect x="1003.63" y="1010.06" width="8.40" height="8.40" fill="#749EAA"/>
<rect x="911.46" y="1001.68" width="8.40" height="8.40" fill="#749EAA"/>
<rect x="919.84" y="1001.68" width="8.40" height="8.40" fill="#87AE9B"/>
<rect x="928.22" y="1001.68" width="8.40" height="8.40" fill="#91B694"/>
<rect x="936.60" y="1001.68" width="8.40" height="8.40" fill="#A5C585"/>
<rect x="944.98" y="1001.68" width="8.40" height="8.40" fill="#AFCD7D"/>
<rect x="953.36" y="1001.68" width="25.16" height="8.40" fill="#FF0000"/>
<rect x="978.49" y="1001.68" width="8.40" height="8.40" fill="#FF9900"/>
<rect x="986.87" y="1001.68" width="8.40" height="8.40" fill="#A5C585"/>
<rect x="995.25" y="1001.68" width="8.40" height="8.40" fill="#91B694"/>
<rect x="1003.63" y="1001.68" width="8.40" height="8.40" fill="#87AE9B"/>
<rect x="1012.01" y="1001.68" width="8.40" height="8.40" fill="#749EAA"/>
<rect x="928.22" y="993.31" width="8.40" height="8.40" fill="#87AE9B"/>
<rect x="936.60" y="993.31" width="8.40" height="8.40" fill="#91B694"/>
<rect x="944.98" y="993.31" width="8.40" height="8.40" fill="#A5C585"/>
<rect x="953.36" y="993.31" width="8.40" height="8.40" fill="#FF9900"/>
<rect x="961.74" y="993.31" width="25.16" height="8.40" fill="#FF0000"/>
<rect x="986.87" y="993.31" width="8.40" height="8.40" fill="#AFCD7D"/>
<rect x="995.25" y="993.31" width="8.40" height="8.40" fill="#A5C585"/>
<rect x="1003.63" y="993.31" width="8.40" height="8.40" fill="#91B694"/>
<rect x="1012.01" y="993.31" width="8.40" height="8.40" fill="#87AE9B"/>
<rect x="1020.39" y="993.31" width="8.40" height="8.40" fill="#749EAA"/>
<rect x="928.22" y="984.93" width="8.40" height="8.40" fill="#749EAA"/>
<rect x="936.60" y="984.93" width="8.40" height="8.40" fill="#87AE9B"/>
<rect x="944.98" y="984.93" width="8.40" height="8.40" fill="#91B694"/>
<rect x="953.36" y="984.93" width="8.40" height="8.40" fill="#A5C585"/>
<rect x="961.74" y="984.93" width="8.40" height="8.40" fill="#FF9900"/>
<rect x="970.12" y="984.93" width="25.16" height="8.40" fill="#FF0000"/>
<rect x="995.25" y="984.93" width="8.40" height="8.40" fill="#FF9900"/>
<rect x="1003.63" y="984.93" width="8.40" height="8.40" fill="#A5C585"/>
<rect x="1012.01" y="984.93" width="8.40" height="8.40" fill="#91B694"/>
<rect x="1020.39" y="984.93" width="8.40" height="8.40" fill="#87AE9B"/>
<rect x="1028.77" y="984.93" width="8.40" height="8.40" fill="#749EAA"/>
<rect x="936.60" y="976.55" width="8.40" height="8.40" fill="#749EAA"/>
<rect x="944.98" y="976.55" width="8.40" height="8.40" fill="#87AE9B"/>
<rect x="953.36" y="976.55" width="8.40" height="8.40" fill="#91B694"/>
<rect x="961.74" y="976.55" width="8.40" height="8.40" fill="#A5C585"/>
<rect x="970.12" y="976.55" width="8.40" height="8.40" fill="#AFCD7D"/>
<rect x="978.49" y="976.55" width="25.16" height="8.40" fill="#FF0000"/>
<rect x="1003.63" y="976.55" width="8.40" height="8.40" fill="#AFCD7D"/>
<rect x="1012.01" y="976.55" width="8.40" height="8.40" fill="#A5C585"/>
<rect x="1020.39" y="976.55" width="8.40" height="8.40" fill="#91B694"/>
<rect x="1028.77" y="976.55" width="8.40" height="8.40" fill="#87AE9B"/>
<rect x="1037.15" y="976.55" width="8.40" height="8.40" fill="#749EAA"/>
<rect x="944.98" y="968.17" width="8.40" height="8.40" fill="#749EAA"/>
<rect x="953.36" y="968.17" width="8.40" height="8.40" fill="#87AE9B"/>
<rect x="961.74" y="968.17" width="8.40" height="8.40" fill="#91B694"/>
<rect x="970.12" y="968.17" width="8.40" height="8.40" fill="#A5C585"/>
<rect x="978.49" y="968.17" width="8.40" height="8.40" fill="#FF9900"/>
<rect x="986.87" y="968.17" width="25.16" height="8.40" fill="#FF0000"/>
<rect x="1012.01" y="968.17" width="8.40" height="8.40" fill="#FF9900"/>
<rect x="1020.39" y="968.17" width="8.40" height="8.40" fill="#A5C585"/>
<rect x="1028.77" y="968.17" width="8.40" height="8.40" fill="#91B694"/>
<rect x="1037.15" y="968.17" width="8.40" height="8.40" fill="#87AE9B"/>
<rect x="1045.53" y="968.17" width="8.40" height="8.40" fill="#749EAA"/>
<rect x="953.36" y="959.79" width="8.40" height="8.40" fill="#749EAA"/>
<rect x="961.74" y="959.79" width="8.40" height="8.40" fill="#87AE9B"/>
<rect x="970.12" y="959.79" width="8.40" height="8.40" fill="#91B694"/>
<rect x="978.49" y="959.79" width="8.40" height="8.40" fill="#A5C585"/>
<rect x="986.87" y="959.79" width="8.40" height="8.40" fill="#AFCD7D"/>
<rect x="995.25" y="959.79" width="25.16" height="8.40" fill="#FF0000"/>
<rect x="1020.39" y="959.79" width="8.40" height="8.40" fill="#AFCD7D"/>
<rect x="1028.77" y="959.79" width="8.40" height="8.40" fill="#A5C585"/>
<rect x="1037.15" y="959.79" width="8.40" height="8.40" fill="#91B694"/>
<rect x="1045.53" y="959.79" width="8.40" height="8.40" fill="#87AE9B"/>
<rect x="1053.91" y="959.79" width="8.40" height="8.40" fill="#749EAA"/>
<rect x="961.74" y="951.41" width="8.40" height="8.40" fill="#749EAA"/>
<rect x="970.12" y="951.41" width="8.40" height="8.40" fill="#87AE9B"/>
<rect x="978.49" y="951.41" width="8.40" height="8.40" fill="#91B694"/>
<rect x="986.87" y="951.41" width="8.40" height="8.40" fill="#A5C585"/>
<rect x="995.25" y="951.41" width="8.40" height="8.40" fill="#FF9900"/>
<rect x="1003.63" y="951.41" width="25.16" height="8.40" fill="#FF0000"/>
<rect x="1028.77" y="951.41" width="8.40" height="8.40" fill="#FF9900"/>
<rect x="1037.15" y="951.41" width="8.40" height="8.40" fill="#A5C585"/>
<rect x="1045.53" y="951.41" width="8.40" height="8.40" fill="#91B694"/>
<rect x="1053.91" y="951.41" width="8.40" height="8.40" fill="#87AE9B"/>
<rect x="1062.29" y="951.41" width="8.40" height="8.40" fill="#749EAA"/>
<rect x="970.12" y="943.03" width="8.40" height="8.40" fill="#749EAA"/>
<rect x="978.49" y="943.03" width="8.40" height="8.40" fill="#87AE9B"/>
<rect x="986.87" y="943.03" width="8.40" height="8.40" fill="#91B694"/>
<rect x="995.25" y="943.03" width="8.40" height="8.40" fill="#A5C585"/>
<rect x="1003.63" y="943.03" width="8.40" height="8.40" fill="#AFCD7D"/>
<rect x="1012.01" y="943.03" width="25.16" height="8.40" fill="#FF0000"/>
<rect x="1037.15" y="943.03" width="8.40" height="8.40" fill="#AFCD7D"/>
<rect x="1045.53" y="943.03" width="8.40" height="8.40" fill="#A5C585"/>
<rect x="1053.91" y="943.03" width="8.40" height="8.40" fill="#91B694"/>
<rect x="1062.29" y="943.03" width="8.40" height="8.40" fill="#87AE9B"/>
<rect x="1070.67" y="943.03" width="8.40" height="8.40" fill="#749EAA"/>
<rect x="978.49" y="934.65" width="8.40" height="8.40" fill="#749EAA"/>
<rect x="986.87" y="934.65" width="8.40" height="8.40" fill="#87AE9B"/>
<rect x="995.25" y="934.65" width="8.40" height="8.40" fill="#91B694"/>
<rect x="1003.63" y="934.65" width="8.40" height="8.40" fill="#A5C585"/>
<rect x="1012.01" y="934.65" width="8.40" height="8.40" fill="#FF9900"/>
<rect x="1020.39" y="934.65" width="25.16" height="8.40" fill="#FF0000"/>
<rect x="1045.53" y="934.65" width="8.40" height="8.40" fill="#FF9900"/>
<rect x="1053.91" y="934.65" width="8.40" height="8.40" fill="#A5C585"/>
<rect x="1062.29" y="934.65" width="8.40" height="8.40" fill="#91B694"/>
<rect x="1070.67" y="934.65" width="8.40" height="8.40" fill="#87AE9B"/>
<rect x="1079.05" y="934.65" width="8.40" height="8.40" fill="#749EAA"/>
<rect x="986.87" y="926.27" width="8.40" height="8.40" fill="#749EAA"/>
<rect x="995.25" y="926.27" width="8.40" height="8.40" fill="#87AE9B"/>
<rect x="1003.63" y="926.27" width="8.40" height="8.40" fill="#91B694"/>
<rect x="1012.01" y="926.27" width="8.40" height="8.40" fill="#A5C585"/>
<rect x="1020.39" y="926.27" width="8.40" height="8.40" fill="#AFCD7D"/>
<rect x="1028.77" y="926.27" width="25.16" height="8.40" fill="#FF0000"/>
<rect x="1053.91" y="926.27" width="8.40" height="8.40" fill="#AFCD7D"/>
<rect x="1062.29" y="926.27" width="8.40" height="8.40" fill="#A5C585"/>
<rect x="1070.67" y="926.27" width="8.40" height="8.40" fill="#91B694"/>
<rect x="1079.05" y="926.27" width="8.40" height="8.40" fill="#87AE9B"/>
<rect x="1087.43" y="926.27" width="8.40" height="8.40" fill="#749EAA"/>
<rect x="995.25" y="917.89" width="8.40" height="8.40" fill="#749EAA"/>
<rect x="1003.63" y="917.89" width="8.40" height="8.40" fill="#87AE9B"/>
<rect x="1012.01" y="917.89" width="8.40" height="8.40" fill="#91B694"/>
<rect x="1020.39" y="917.89" width="8.40" height="8.40" fill="#A5C585"/>
<rect x="1028.77" y="917.89" width="8.40" height="8.40" fill="#FF9900"/>
<rect x="1037.15" y="917.89" width="25.16" height="8.40" fill="#FF0000"/>
<rect x="1062.29" y="917.89" width="8.40" height="8.40" fill="#AFCD7D"/>
<rect x="1070.67" y="917.89" width="8.40" height="8.40" fill="#A5C585"/>
<rect x="1079.05" y="917.89" width="8.40" height="8.40" fill="#91B694"/>
<rect x="1087.43" y="917.89" width="8.40" height="8.40" fill="#87AE9B"/>
<rect x="1095.81" y="917.89" width="8.40" height="8.40" fill="#749EAA"/>
<rect x="1003.63" y="909.51" width="8.40" height="8.40" fill="#749EAA"/>
<rect x="1012.01" y="909.51" width="8.40" height="8.40" fill="#87AE9B"/>
<rect x="1020.39" y="909.51" width="8.40" height="8.40" fill="#91B694"/>
<rect x="1028.77" y="909.51" width="8.40" height="8.40" fill="#A5C585"/>
<rect x="1037.15" y="909.51" width="8.40" height="8.40" fill="#AFCD7D"/>
<rect x="1045.53" y="909.51" width="25.16" height="8.40" fill="#FF0000"/>
<rect x="1070.67" y="909.51" width="8.40" height="8.40" fill="#AFCD7D"/>
<rect x="1079.05" y="909.51" width="8.40" height="8.40" fill="#A5C585"/>
<rect x="1087.43" y="909.51" width="8.40" height="8.40" fill="#91B694"/>
<rect x="1095.81" y="909.51" width="8.40" height="8.40" fill="#87AE9B"/>
<rect x="1104.18" y="909.51" width="8.40" height="8.40" fill="#749EAA"/>
<rect x="1012.01" y="901.13" width="8.40" height="8.40" fill="#749EAA"/>
<rect x="1020.39" y="901.13" width="8.40" height="8.40" fill="#87AE9B"/>
<rect x="1028.77" y="901.13" width="8.40" height="8.40" fill="#91B694"/>
<rect x="1037.15" y="901.13" width="8.40" height="8.40" fill="#A5C585"/>
<rect x="1045.53" y="901.13" width="8.40" height="8.40" fill="#AFCD7D"/>
<rect x="1053.91" y="901.13" width="25.16" height="8.40" fill="#FF0000"/>
<rect x="1079.05" y="901.13" width="8.40" height="8.40" fill="#FF9900"/>
<rect x="1087.43" y="901.13" width="8.40" height="8.40" fill="#A5C585"/>
<rect x="1095.81" y="901.13" width="8.40" height="8.40" fill="#91B694"/>
<rect x="1104.18" y="901.13" width="8.40" height="8.40" fill="#87AE9B"/>
<rect x="1112.56" y="901.13" width="8.40" height="8.40" fill="#749EAA"/>
<rect x="1020.39" y="892.75" width="8.40" height="8.40" fill="#749EAA"/>
<rect x="1028.77" y="892.75" width="8.40" height="8.40" fill="#87AE9B"/>
<rect x="1037.15" y="892.75" width="8.40" height="8.40" fill="#91B694"/>
<rect x="1045.53" y="892.75" width="8.40" height="8.40" fill="#A5C585"/>
<rect x="1053.91" y="892.75" width="8.40" height="8.40" fill="#AFCD7D"/>
<rect x="1062.29" y="892.75" width="25.16" height="8.40" fill="#FF0000"/>
<rect x="1087.43" y="892.75" width="8.40" height="8.40" fill="#AFCD7D"/>
<rect x="1095.81" y="892.75" width="8.40" height="8.40" fill="#A5C585"/>
<rect x="1104.18" y="892.75" width="8.40" height="8.40" fill="#91B694"/>
<rect x="1112.56" y="892.75" width="8.40" height="8.40" fill="#87AE9B"/>
<rect x="1120.94" y="892.75" width="8.40" height="8.40" fill="#749EAA"/>
<rect x="1028.77" y="884.37" width="8.40" height="8.40" fill="#749EAA"/>
<rect x="1037.15" y="884.37" width="8.40" height="8.40" fill="#87AE9B"/>
<rect x="1045.53" y="884.37" width="8.40" height="8.40" fill="#91B694"/>
<rect x="1053.91" y="884.37" width="8.40" height="8.40" fill="#A5C585"/>
<rect x="1062.29" y="884.37" width="8.40" height="8.40" fill="#FF9900"/>
<rect x="1070.67" y="884.37" width="25.16" height="8.40" fill="#FF0000"/>
<rect x="1095.81" y="884.37" width="8.40" height="8.40" fill="#FF9900"/>
<rect x="1104.18" y="884.37" width="8.40" height="8.40" fill="#A5C585"/>
<rect x="1112.56" y="884.37" width="8.40" height="8.40" fill="#91B694"/>
<rect x="1120.94" y="884.37" width="8.40" height="8.40" fill="#87AE9B"/>
<rect x="1129.32" y="884.37" width="8.40" height="8.40" fill="#749EAA"/>
<rect x="1037.15" y="875.99" width="8.40" height="8.40" fill="#749EAA"/>
<rect x="1045.53" y="875.99" width="8.40" height="8.40" fill="#87AE9B"/>
<rect x="1053.91" y="875.99" width="8.40" height="8.40" fill="#91B694"/>
<rect x="1062.29" y="875.99" width="8.40" height="8.40" fill="#A5C585"/>
<rect x="1070.67" y="875.99" width="8.40" height="8.40" fill="#AFCD7D"/>
<rect x="1079.05" y="875.99" width="25.16" height="8.40" fill="#FF0000"/>
<rect x="1104.18" y="875.99" width="8.40" height="8.40" fill="#AFCD7D"/>
<rect x="1112.56" y="875.99" width="8.40" height="8.40" fill="#A5C585"/>
<rect x="1120.94" y="875.99" width="8.40" height="8.40" fill="#91B694"/>
<rect x="1129.32" y="875.99" width="8.40" height="8.40" fill="#87AE9B"/>
<rect x="1137.70" y="875.99" width="8.40" height="8.40" fill="#749EAA"/>
<rect x="1045.53" y="867.62" width="8.40" height="8.40" fill="#749EAA"/>
<rect x="1053.91" y="867.62" width="8.40" height="8.40" fill="#87AE9B"/>
<rect x="1062.29" y="867.62" width="8.40" height="8.40" fill="#91B694"/>
<rect x="1070.67" y="867.62" width="8.40" height="8.40" fill="#A5C585"/>
<rect x="1079.05" y="867.62" width="8.40" height="8.40" fill="#FF9900"/>
<rect x="1087.43" y="867.62" width="25.16" height="8.40" fill="#FF0000"/>
<rect x="1112.56" y="867.62" width="8.40" height="8.40" fill="#FF9900"/>
<rect x="1120.94" y="867.62" width="8.40" height="8.40" fill="#A5C585"/>
<rect x="1129.32" y="867.62" width="8.40" height="8.40" fill="#91B694"/>
<rect x="1137.70" y="867.62" width="8.40" height="8.40" fill="#87AE9B"/>
<rect x="1146.08" y="867.62" width="8.40" height="8.40" fill="#749EAA"/>
<rect x="1053.91" y="859.24" width="8.40" height="8.40" fill="#749EAA"/>
<rect x="1062.29" y="859.24" width="8.40" height="8.40" fill="#87AE9B"/>
<rect x="1070.67" y="859.24" width="8.40" height="8.40" fill="#91B694"/>
<rect x="1079.05" y="859.24" width="8.40" height="8.40" fill="#A5C585"/>
<rect x="1087.43" y="859.24" width="8.40" height="8.40" fill="#AFCD7D"/>
<rect x="1095.81" y="859.24" width="25.16" height="8.40" fill="#FF0000"/>
<rect x="1120.94" y="859.24" width="8.40" height="8.40" fill="#AFCD7D"/>
<rect x="1129.32" y="859.24" width="8.40" height="8.40" fill="#A5C585"/>
<rect x="1137.70" y="859.24" width="8.40" height="8.40" fill="#91B694"/>
<rect x="1146.08" y="859.24" width="8.40" height="8.40" fill="#87AE9B"/>
<rect x="1154.46" y="859.24" width="8.40" height="8.40" fill="#749EAA"/>
<rect x="1062.29" y="850.86" width="8.40" height="8.40" fill="#749EAA"/>
<rect x="1070.67" y="850.86" width="8.40" height="8.40" fill="#87AE9B"/>
<rect x="1079.05" y="850.86" width="8.40" height="8.40" fill="#91B694"/>
<rect x="1087.43" y="850.86" width="8.40" height="8.40" fill="#A5C585"/>
<rect x="1095.81" y="850.86" width="8.40" height="8.40" fill="#FF9900"/>
<rect x="1104.18" y="850.86" width="25.16" height="8.40" fill="#FF0000"/>
<rect x="1129.32" y="850.86" width="8.40" height="8.40" fill="#FF9900"/>
<rect x="1137.70" y="850.86" width="8.40" height="8.40" fill="#A5C585"/>
<rect x="1146.08" y="850.86" width="8.40" height="8.40" fill="#91B694"/>
<rect x="1154.46" y="850.86" width="8.40" height="8.40" fill="#87AE9B"/>
<rect x="1162.84" y="850.86" width="8.40" height="8.40" fill="#749EAA"/>
<rect x="1070.67" y="842.48" width="8.40" height="8.40" fill="#749EAA"/>
<rect x="1079.05" y="842.48" width="8.40" height="8.40" fill="#87AE9B"/>
<rect x="1087.43" y="842.48" width="8.40" height="8.40" fill="#91B694"/>
<rect x="1095.81" y="842.48" width="8.40" height="8.40" fill="#A5C585"/>
<rect x="1104.18" y="842.48" width="8.40" height="8.40" fill="#AFCD7D"/>
<rect x="1112.56" y="842.48" width="25.16" height="8.40" fill="#FF0000"/>
<rect x="1137.70" y="842.48" width="8.40" height="8.40" fill="#FF9900"/>
<rect x="1146.08" y="842.48" width="8.40" height="8.40" fill="#A5C585"/>
<rect x="1154.46" y="842.48" width="8.40" height="8.40" fill="#91B694"/>
<rect x="1162.84" y="842.48" width="8.40" height="8.40" fill="#87AE9B"/>
<rect x="1171.22" y="842.48" width="8.40" height="8.40" fill="#749EAA"/>
<rect x="1179.60" y="842.48" width="8.40" height="8.40" fill="#6A97B2"/>
<rect x="1079.05" y="834.10" width="8.40" height="8.40" fill="#749EAA"/>
<rect x="1087.43" y="834.10" width="8.40" height="8.40" fill="#87AE9B"/>
<rect x="1095.81" y="834.10" width="8.40" height="8.40" fill="#91B694"/>
<rect x="1104.18" y="834.10" width="8.40" height="8.40" fill="#A5C585"/>
<rect x="1112.56" y="834.10" width="8.40" height="8.40" fill="#FF9900"/>
<rect x="1120.94" y="834.10" width="25.16" height="8.40" fill="#FF0000"/>
<rect x="1146.08" y="834.10" width="8.40" height="8.40" fill="#FF9900"/>
<rect x="1154.46" y="834.10" width="8.40" height="8.40" fill="#A5C585"/>
<rect x="1162.84" y="834.10" width="8.40" height="8.40" fill="#91B694"/>
<rect x="1171.22" y="834.10" width="8.40" height="8.40" fill="#87AE9B"/>
<rect x="1179.60" y="834.10" width="8.40" height="8.40" fill="#749EAA"/>
<rect x="1187.98" y="834.10" width="8.40" height="8.40" fill="#6A97B2"/>
<rect x="1087.43" y="825.72" width="8.40" height="8.40" fill="#749EAA"/>
<rect x="1095.81" y="825.72" width="8.40" height="8.40" fill="#87AE9B"/>
<rect x="1104.18" y="825.72" width="8.40" height="8.40" fill="#91B694"/>
<rect x="1112.56" y="825.72" width="8.40" height="8.40" fill="#A5C585"/>
<rect x="1120.94" y="825.72" width="8.40" height="8.40" fill="#FF9900"/>
<rect x="1129.32" y="825.72" width="25.16" height="8.40" fill="#FF0000"/>
<rect x="1154.46" y="825.72" width="8.40" height="8.40" fill="#AFCD7D"/>
<rect x="1162.84" y="825.72" width="8.40" height="8.40" fill="#A5C585"/>
<rect x="1171.22" y="825.72" width="8.40" height="8.40" fill="#91B694"/>
<rect x="1179.60" y="825.72" width="8.40" height="8.40" fill="#87AE9B"/>
<rect x="1187.98" y="825.72" width="8.40" height="8.40" fill="#749EAA"/>
<rect x="1196.36" y="825.72" width="8.40" height="8.40" fill="#6A97B2"/>
<rect x="1095.81" y="817.34" width="8.40" height="8.40" fill="#749EAA"/>
<rect x="1104.18" y="817.34" width="8.40" height="8.40" fill="#87AE9B"/>
<rect x="1112.56" y="817.34" width="8.40" height="8.40" fill="#91B694"/>
<rect x="1120.94" y="817.34" width="8.40" height="8.40" fill="#A5C585"/>
<rect x="1129.32" y="817.34" width="8.40" height="8.40" fill="#FF9900"/>
<rect x="1137.70" y="817.34" width="25.16" height="8.40" fill="#FF0000"/>
<rect x="1162.84" y="817.34" width="8.40" height="8.40" fill="#FF9900"/>
<rect x="1171.22" y="817.34" width="8.40" height="8.40" fill="#FF7300"/>
<rect x="1179.60" y="817.34" width="8.40" height="8.40" fill="#A5C585"/>
<rect x="1187.98" y="817.34" width="8.40" height="8.40" fill="#91B694"/>
<rect x="1196.36" y="817.34" width="8.40" height="8.40" fill="#87AE9B"/>
<rect x="1204.74" y="817.34" width="8.40" height="8.40" fill="#749EAA"/>
<rect x="1104.18" y="808.96" width="8.40" height="8.40" fill="#749EAA"/>
<rect x="1112.56" y="808.96" width="8.40" height="8.40" fill="#87AE9B"/>
<rect x="1120.94" y="808.96" width="8.40" height="8.40" fill="#91B694"/>
<rect x="1129.32" y="808.96" width="8.40" height="8.40" fill="#A5C585"/>
<rect x="1137.70" y="808.96" width="8.40" height="8.40" fill="#AFCD7D"/>
<rect x="1146.08" y="808.96" width="25.16" height="8.40" fill="#FF0000"/>
<rect x="1171.22" y="808.96" width="8.40" height="8.40" fill="#FF9900"/>
<rect x="1179.60" y="808.96" width="8.40" height="8.40" fill="#FF7300"/>
<rect x="1187.98" y="808.96" width="8.40" height="8.40" fill="#FF9900"/>
<rect x="1196.36" y="808.96" width="8.40" height="8.40" fill="#A5C585"/>
<rect x="1204.74" y="808.96" width="8.40" height="8.40" fill="#9BBD8C"/>
<rect x="1213.12" y="808.96" width="8.40" height="8.40" fill="#91B694"/>
<rect x="1221.49" y="808.96" width="8.40" height="8.40" fill="#87AE9B"/>
<rect x="1229.87" y="808.96" width="8.40" height="8.40" fill="#7EA6A3"/>
<rect x="1238.25" y="808.96" width="8.40" height="8.40" fill="#749EAA"/>
<rect x="1112.56" y="800.58" width="8.40" height="8.40" fill="#749EAA"/>
<rect x="1120.94" y="800.58" width="8.40" height="8.40" fill="#87AE9B"/>
<rect x="1129.32" y="800.58" width="8.40" height="8.40" fill="#91B694"/>
<rect x="1137.70" y="800.58" width="8.40" height="8.40" fill="#A5C585"/>
<rect x="1146.08" y="800.58" width="8.40" height="8.40" fill="#FF9900"/>
<rect x="1154.46" y="800.58" width="25.16" height="8.40" fill="#FF0000"/>
<rect x="1179.60" y="800.58" width="8.40" height="8.40" fill="#FF9900"/>
<rect x="1187.98" y="800.58" width="8.40" height="8.40" fill="#FF7300"/>
<rect x="1196.36" y="800.58" width="8.40" height="8.40" fill="#FF9900"/>
<rect x="1204.74" y="800.58" width="8.40" height="8.40" fill="#A5C585"/>
<rect x="1213.12" y="800.58" width="8.40" height="8.40" fill="#9BBD8C"/>
<rect x="1221.49" y="800.58" width="8.40" height="8.40" fill="#91B694"/>
<rect x="1229.87" y="800.58" width="8.40" height="8.40" fill="#87AE9B"/>
<rect x="1238.25" y="800.58" width="8.40" height="8.40" fill="#7EA6A3"/>
<rect x="1246.63" y="800.58" width="8.40" height="8.40" fill="#749EAA"/>
<rect x="1120.94" y="792.20" width="8.40" height="8.40" fill="#749EAA"/>
<rect x="1129.32" y="792.20" width="8.40" height="8.40" fill="#87AE9B"/>
<rect x="1137.70" y="792.20" width="8.40" height="8.40" fill="#91B694"/>
<rect x="1146.08" y="792.20" width="8.40" height="8.40" fill="#FF7300"/>
<rect x="1154.46" y="792.20" width="8.40" height="8.40" fill="#FF9900"/>
<rect x="1162.84" y="792.20" width="25.16" height="8.40" fill="#FF0000"/>
<rect x="1187.98" y="792.20" width="8.40" height="8.40" fill="#FF9900"/>
<rect x="1196.36" y="792.20" width="8.40" height="8.40" fill="#FF7300"/>
<rect x="1204.74" y="792.20" width="8.40" height="8.40" fill="#FF9900"/>
<rect x="1213.12" y="792.20" width="8.40" height="8.40" fill="#A5C585"/>
<rect x="1221.49" y="792.20" width="16.78" height="8.40" fill="#9BBD8C"/>
<rect x="1238.25" y="792.20" width="8.40" height="8.40" fill="#91B694"/>
<rect x="1246.63" y="792.20" width="8.40" height="8.40" fill="#87AE9B"/>
<rect x="1255.01" y="792.20" width="8.40" height="8.40" fill="#7EA6A3"/>
<rect x="1263.39" y="792.20" width="16.78" height="8.40" fill="#749EAA"/>
<rect x="1120.94" y="783.82" width="8.40" height="8.40" fill="#6A97B2"/>
<rect x="1129.32" y="783.82" width="8.40" height="8.40" fill="#749EAA"/>
<rect x="1137.70" y="783.82" width="8.40" height="8.40" fill="#87AE9B"/>
<rect x="1146.08" y="783.82" width="8.40" height="8.40" fill="#A5C585"/>
<rect x="1154.46" y="783.82" width="8.40" height="8.40" fill="#FF7300"/>
<rect x="1162.84" y="783.82" width="8.40" height="8.40" fill="#FF9900"/>
<rect x="1171.22" y="783.82" width="25.16" height="8.40" fill="#FF0000"/>
<rect x="1196.36" y="783.82" width="8.40" height="8.40" fill="#FF9900"/>
<rect x="1204.74" y="783.82" width="16.78" height="8.40" fill="#FF7300"/>
<rect x="1221.49" y="783.82" width="8.40" height="8.40" fill="#A5C585"/>
<rect x="1229.87" y="783.82" width="16.78" height="8.40" fill="#9BBD8C"/>
<rect x="1246.63" y="783.82" width="8.40" height="8.40" fill="#91B694"/>
<rect x="1255.01" y="783.82" width="8.40" height="8.40" fill="#87AE9B"/>
<rect x="1263.39" y="783.82" width="8.40" height="8.40" fill="#7EA6A3"/>
<rect x="1271.77" y="783.82" width="16.78" height="8.40" fill="#749EAA"/>
<rect x="1129.32" y="775.44" width="8.40" height="8.40" fill="#6A97B2"/>
<rect x="1137.70" y="775.44" width="8.40" height="8.40" fill="#749EAA"/>
<rect x="1146.08" y="775.44" width="8.40" height="8.40" fill="#91B694"/>
<rect x="1154.46" y="775.44" width="8.40" height="8.40" fill="#FF9900"/>
<rect x="1162.84" y="775.44" width="8.40" height="8.40" fill="#FF7300"/>
<rect x="1171.22" y="775.44" width="8.40" height="8.40" fill="#FF9900"/>
<rect x="1179.60" y="775.44" width="25.16" height="8.40" fill="#FF0000"/>
<rect x="1204.74" y="775.44" width="8.40" height="8.40" fill="#FF9900"/>
<rect x="1213.12" y="775.44" width="16.78" height="8.40" fill="#FF7300"/>
<rect x="1229.87" y="775.44" width="8.40" height="8.40" fill="#A5C585"/>
<rect x="1238.25" y="775.44" width="16.78" height="8.40" fill="#9BBD8C"/>
<rect x="1255.01" y="775.44" width="8.40" height="8.40" fill="#91B694"/>
<rect x="1263.39" y="775.44" width="8.40" height="8.40" fill="#87AE9B"/>
<rect x="1271.77" y="775.44" width="8.40" height="8.40" fill="#7EA6A3"/>
<rect x="1280.15" y="775.44" width="16.78" height="8.40" fill="#749EAA"/>
<rect x="1137.70" y="767.06" width="8.40" height="8.40" fill="#6A97B2"/>
<rect x="1146.08" y="767.06" width="8.40" height="8.40" fill="#87AE9B"/>
<rect x="1154.46" y="767.06" width="8.40" height="8.40" fill="#A5C585"/>
<rect x="1162.84" y="767.06" width="8.40" height="8.40" fill="#FF9900"/>
<rect x="1171.22" y="767.06" width="8.40" height="8.40" fill="#FF7300"/>
<rect x="1179.60" y="767.06" width="8.40" height="8.40" fill="#FF9900"/>
<rect x="1187.98" y="767.06" width="25.16" height="8.40" fill="#FF0000"/>
<rect x="1213.12" y="767.06" width="8.40" height="8.40" fill="#FF9900"/>
<rect x="1221.49" y="767.06" width="8.40" height="8.40" fill="#FF7300"/>
<rect x="1229.87" y="767.06" width="8.40" height="8.40" fill="#FF9900"/>
<rect x="1238.25" y="767.06" width="8.40" height="8.40" fill="#A5C585"/>
<rect x="1246.63" y="767.06" width="16.78" height="8.40" fill="#9BBD8C"/>
<rect x="1263.39" y="767.06" width="8.40" height="8.40" fill="#91B694"/>
<rect x="1271.77" y="767.06" width="8.40" height="8.40" fill="#87AE9B"/>
<rect x="1280.15" y="767.06" width="8.40" height="8.40" fill="#7EA6A3"/>
<rect x="1288.53" y="767.06" width="16.78" height="8.40" fill="#749EAA"/>
<rect x="1146.08" y="758.68" width="8.40" height="8.40" fill="#749EAA"/>
<rect x="1154.46" y="758.68" width="8.40" height="8.40" fill="#9BBD8C"/>
<rect x="1162.84" y="758.68" width="8.40" height="8.40" fill="#A5C585"/>
<rect x="1171.22" y="758.68" width="8.40" height="8.40" fill="#FF9900"/>
<rect x="1179.60" y="758.68" width="8.40" height="8.40" fill="#FF7300"/>
<rect x="1187.98" y="758.68" width="8.40" height="8.40" fill="#FF9900"/>
<rect x="1196.36" y="758.68" width="25.16" height="8.40" fill="#FF0000"/>
<rect x="1221.49" y="758.68" width="8.40" height="8.40" fill="#FF9900"/>
<rect x="1229.87" y="758.68" width="16.78" height="8.40" fill="#FF7300"/>
<rect x="1246.63" y="758.68" width="8.40" height="8.40" fill="#A5C585"/>
<rect x="1255.01" y="758.68" width="8.40" height="8.40" fill="#9BBD8C"/>
<rect x="1263.39" y="758.68" width="8.40" height="8.40" fill="#91B694"/>
<rect x="1271.77" y="758.68" width="16.78" height="8.40" fill="#87AE9B"/>
<rect x="1288.53" y="758.68" width="8.40" height="8.40" fill="#7EA6A3"/>
<rect x="1296.91" y="758.68" width="8.40" height="8.40" fill="#749EAA"/>
<rect x="1154.46" y="750.31" width="8.40" height="8.40" fill="#91B694"/>
<rect x="1162.84" y="750.31" width="8.40" height="8.40" fill="#9BBD8C"/>
<rect x="1171.22" y="750.31" width="8.40" height="8.40" fill="#A5C585"/>
<rect x="1179.60" y="750.31" width="16.78" height="8.40" fill="#FF7300"/>
<rect x="1196.36" y="750.31" width="8.40" height="8.40" fill="#FF9900"/>
<rect x="1204.74" y="750.31" width="25.16" height="8.40" fill="#FF0000"/>
<rect x="1229.87" y="750.31" width="8.40" height="8.40" fill="#FF9900"/>
<rect x="1238.25" y="750.31" width="8.40" height="8.40" fill="#FF7300"/>
<rect x="1246.63" y="750.31" width="8.40" height="8.40" fill="#FF9900"/>
<rect x="1255.01" y="750.31" width="8.40" height="8.40" fill="#A5C585"/>
<rect x="1263.39" y="750.31" width="8.40" height="8.40" fill="#9BBD8C"/>
<rect x="1271.77" y="750.31" width="8.40" height="8.40" fill="#91B694"/>
<rect x="1280.15" y="750.31" width="8.40" height="8.40" fill="#87AE9B"/>
<rect x="1288.53" y="750.31" width="8.40" height="8.40" fill="#7EA6A3"/>
<rect x="1296.91" y="750.31" width="8.40" height="8.40" fill="#749EAA"/>
<rect x="1154.46" y="741.93" width="8.40" height="8.40" fill="#87AE9B"/>
<rect x="1162.84" y="741.93" width="8.40" height="8.40" fill="#91B694"/>
<rect x="1171.22" y="741.93" width="8.40" height="8.40" fill="#9BBD8C"/>
<rect x="1179.60" y="741.93" width="8.40" height="8.40" fill="#A5C585"/>
<rect x="1187.98" y="741.93" width="16.78" height="8.40" fill="#FF7300"/>
<rect x="1204.74" y="741.93" width="8.40" height="8.40" fill="#FF9900"/>
<rect x="1213.12" y="741.93" width="25.16" height="8.40" fill="#FF0000"/>
<rect x="1238.25" y="741.93" width="8.40" height="8.40" fill="#FF9900"/>
<rect x="1246.63" y="741.93" width="8.40" height="8.40" fill="#FF7300"/>
<rect x="1255.01" y="741.93" width="8.40" height="8.40" fill="#FF9900"/>
<rect x="1263.39" y="741.93" width="8.40" height="8.40" fill="#A5C585"/>
<rect x="1271.77" y="741.93" width="8.40" height="8.40" fill="#9BBD8C"/>
<rect x="1280.15" y="741.93" width="8.40" height="8.40" fill="#91B694"/>
<rect x="1288.53" y="741.93" width="8.40" height="8.40" fill="#87AE9B"/>
<rect x="1296.91" y="741.93" width="8.40" height="8.40" fill="#7EA6A3"/>
<rect x="1305.29" y="741.93" width="8.40" height="8.40" fill="#749EAA"/>
<rect x="1154.46" y="733.55" width="8.40" height="8.40" fill="#7EA6A3"/>
<rect x="1162.84" y="733.55" width="8.40" height="8.40" fill="#87AE9B"/>
<rect x="1171.22" y="733.55" width="16.78" height="8.40" fill="#9BBD8C"/>
<rect x="1187.98" y="733.55" width="8.40" height="8.40" fill="#A5C585"/>
<rect x="1196.36" y="733.55" width="8.40" height="8.40" fill="#FF9900"/>
<rect x="1204.74" y="733.55" width="8.40" height="8.40" fill="#FF7300"/>
<rect x="1213.12" y="733.55" width="8.40" height="8.40" fill="#FF9900"/>
<rect x="1221.49" y="733.55" width="25.16" height="8.40" fill="#FF0000"/>
<rect x="1246.63" y="733.55" width="8.40" height="8.40" fill="#FF9900"/>
<rect x="1255.01" y="733.55" width="16.78" height="8.40" fill="#FF7300"/>
<rect x="1271.77" y="733.55" width="8.40" height="8.40" fill="#A5C585"/>
<rect x="1280.15" y="733.55" width="8.40" height="8.40" fill="#9BBD8C"/>
<rect x="1288.53" y="733.55" width="8.40" height="8.40" fill="#87AE9B"/>
<rect x="1296.91" y="733.55" width="8.40" height="8.40" fill="#7EA6A3"/>
<rect x="1305.29" y="733.55" width="8.40" height="8.40" fill="#749EAA"/>
<rect x="1154.46" y="725.17" width="8.40" height="8.40" fill="#749EAA"/>
<rect x="1162.84" y="725.17" width="8.40" height="8.40" fill="#7EA6A3"/>
<rect x="1171.22" y="725.17" width="8.40" height="8.40" fill="#91B694"/>
<rect x="1179.60" y="725.17" width="16.78" height="8.40" fill="#9BBD8C"/>
<rect x="1196.36" y="725.17" width="8.40" height="8.40" fill="#A5C585"/>
<rect x="1204.74" y="725.17" width="16.78" height="8.40" fill="#FF7300"/>
<rect x="1221.49" y="725.17" width="8.40" height="8.40" fill="#FF9900"/>
<rect x="1229.87" y="725.17" width="25.16" height="8.40" fill="#FF0000"/>
<rect x="1255.01" y="725.17" width="8.40" height="8.40" fill="#FF9900"/>
<rect x="1263.39" y="725.17" width="8.40" height="8.40" fill="#FF7300"/>
<rect x="1271.77" y="725.17" width="8.40" height="8.40" fill="#FF9900"/>
<rect x="1280.15" y="725.17" width="8.40" height="8.40" fill="#A5C585"/>
<rect x="1288.53" y="725.17" width="8.40" height="8.40" fill="#9BBD8C"/>
<rect x="1296.91" y="725.17" width="8.40" height="8.40" fill="#87AE9B"/>
<rect x="1305.29" y="725.17" width="8.40" height="8.40" fill="#7EA6A3"/>
<rect x="1313.67" y="725.17" width="8.40" height="8.40" fill="#749EAA"/>
<rect x="1162.84" y="716.79" width="8.40" height="8.40" fill="#749EAA"/>
<rect x="1171.22" y="716.79" width="8.40" height="8.40" fill="#87AE9B"/>
<rect x="1179.60" y="716.79" width="8.40" height="8.40" fill="#91B694"/>
<rect x="1187.98" y="716.79" width="16.78" height="8.40" fill="#9BBD8C"/>
<rect x="1204.74" y="716.79" width="8.40" height="8.40" fill="#A5C585"/>
<rect x="1213.12" y="716.79" width="8.40" height="8.40" fill="#FF9900"/>
<rect x="1221.49" y="716.79" width="8.40" height="8.40" fill="#FF7300"/>
<rect x="1229.87" y="716.79" width="8.40" height="8.40" fill="#FF9900"/>
<rect x="1238.25" y="716.79" width="25.16" height="8.40" fill="#FF0000"/>
<rect x="1263.39" y="716.79" width="8.40" height="8.40" fill="#FF9900"/>
<rect x="1271.77" y="716.79" width="16.78" height="8.40" fill="#FF7300"/>
<rect x="1288.53" y="716.79" width="8.40" height="8.40" fill="#A5C585"/>
<rect x="1296.91" y="716.79" width="8.40" height="8.40" fill="#91B694"/>
<rect x="1305.29" y="716.79" width="8.40" height="8.40" fill="#87AE9B"/>
<rect x="1313.67" y="716.79" width="8.40" height="8.40" fill="#749EAA"/>
<rect x="1171.22" y="708.41" width="8.40" height="8.40" fill="#7EA6A3"/>
<rect x="1179.60" y="708.41" width="8.40" height="8.40" fill="#87AE9B"/>
<rect x="1187.98" y="708.41" width="8.40" height="8.40" fill="#91B694"/>
<rect x="1196.36" y="708.41" width="16.78" height="8.40" fill="#9BBD8C"/>
<rect x="1213.12" y="708.41" width="8.40" height="8.40" fill="#A5C585"/>
<rect x="1221.49" y="708.41" width="8.40" height="8.40" fill="#FF9900"/>
<rect x="1229.87" y="708.41" width="8.40" height="8.40" fill="#FF7300"/>
<rect x="1238.25" y="708.41" width="8.40" height="8.40" fill="#FF9900"/>
<rect x="1246.63" y="708.41" width="25.16" height="8.40" fill="#FF0000"/>
<rect x="1271.77" y="708.41" width="8.40" height="8.40" fill="#FF9900"/>
<rect x="1280.15" y="708.41" width="16.78" height="8.40" fill="#FF7300"/>
<rect x="1296.91" y="708.41" width="8.40" height="8.40" fill="#A5C585"/>
<rect x="1305.29" y="708.41" width="8.40" height="8.40" fill="#91B694"/>
<rect x="1313.67" y="708.41" width="8.40" height="8.40" fill="#87AE9B"/>
<rect x="1322.05" y="708.41" width="8.40" height="8.40" fill="#749EAA"/>
<rect x="1171.22" y="700.03" width="8.40" height="8.40" fill="#749EAA"/>
<rect x="1179.60" y="700.03" width="8.40" height="8.40" fill="#7EA6A3"/>
<rect x="1187.98" y="700.03" width="8.40" height="8.40" fill="#87AE9B"/>
<rect x="1196.36" y="700.03" width="16.78" height="8.40" fill="#91B694"/>
<rect x="1213.12" y="700.03" width="8.40" height="8.40" fill="#9BBD8C"/>
<rect x="1221.49" y="700.03" width="8.40" height="8.40" fill="#A5C585"/>
<rect x="1229.87" y="700.03" width="16.78" height="8.40" fill="#FF7300"/>
<rect x="1246.63" y="700.03" width="8.40" height="8.40" fill="#FF9900"/>
<rect x="1255.01" y="700.03" width="25.16" height="8.40" fill="#FF0000"/>
<rect x="1280.15" y="700.03" width="8.40" height="8.40" fill="#FF9900"/>
<rect x="1288.53" y="700.03" width="8.40" height="8.40" fill="#FF7300"/>
<rect x="1296.91" y="700.03" width="8.40" height="8.40" fill="#FF9900"/>
<rect x="1305.29" y="700.03" width="8.40" height="8.40" fill="#9BBD8C"/>
<rect x="1313.67" y="700.03" width="8.40" height="8.40" fill="#91B694"/>
<rect x="1322.05" y="700.03" width="8.40" height="8.40" fill="#7EA6A3"/>
<rect x="1171.22" y="691.65" width="16.78" height="8.40" fill="#749EAA"/>
<rect x="1187.98" y="691.65" width="8.40" height="8.40" fill="#7EA6A3"/>
<rect x="1196.36" y="691.65" width="16.78" height="8.40" fill="#87AE9B"/>
<rect x="1213.12" y="691.65" width="8.40" height="8.40" fill="#91B694"/>
<rect x="1221.49" y="691.65" width="8.40" height="8.40" fill="#9BBD8C"/>
<rect x="1229.87" y="691.65" width="8.40" height="8.40" fill="#A5C585"/>
<rect x="1238.25" y="691.65" width="8.40" height="8.40" fill="#FF9900"/>
<rect x="1246.63" y="691.65" width="8.40" height="8.40" fill="#FF7300"/>
<rect x="1255.01" y="691.65" width="8.40" height="8.40" fill="#FF9900"/>
<rect x="1263.39" y="691.65" width="25.16" height="8.40" fill="#FF0000"/>
<rect x="1288.53" y="691.65" width="8.40" height="8.40" fill="#FF9900"/>
<rect x="1296.91" y="691.65" width="8.40" height="8.40" fill="#FF7300"/>
<rect x="1305.29" y="691.65" width="8.40" height="8.40" fill="#A5C585"/>
<rect x="1313.67" y="691.65" width="8.40" height="8.40" fill="#91B694"/>
<rect x="1322.05" y="691.65" width="8.40" height="8.40" fill="#87AE9B"/>
<rect x="1330.43" y="691.65" width="8.40" height="8.40" fill="#749EAA"/>
<rect x="1179.60" y="683.27" width="16.78" height="8.40" fill="#749EAA"/>
<rect x="1196.36" y="683.27" width="8.40" height="8.40" fill="#7EA6A3"/>
<rect x="1204.74" y="683.27" width="16.78" height="8.40" fill="#87AE9B"/>
<rect x="1221.49" y="683.27" width="8.40" height="8.40" fill="#91B694"/>
<rect x="1229.87" y="683.27" width="8.40" height="8.40" fill="#9BBD8C"/>
<rect x="1238.25" y="683.27" width="8.40" height="8.40" fill="#A5C585"/>
<rect x="1246.63" y="683.27" width="16.78" height="8.40" fill="#FF7300"/>
<rect x="1263.39" y="683.27" width="8.40" height="8.40" fill="#FF9900"/>
<rect x="1271.77" y="683.27" width="25.16" height="8.40" fill="#FF0000"/>
<rect x="1296.91" y="683.27" width="8.40" height="8.40" fill="#FF9900"/>
<rect x="1305.29" y="683.27" width="8.40" height="8.40" fill="#A5C585"/>
<rect x="1313.67" y="683.27" width="8.40" height="8.40" fill="#91B694"/>
<rect x="1322.05" y="683.27" width="8.40" height="8.40" fill="#87AE9B"/>
<rect x="1330.43" y="683.27" width="8.40" height="8.40" fill="#749EAA"/>
<rect x="1187.98" y="674.89" width="16.78" height="8.40" fill="#749EAA"/>
<rect x="1204.74" y="674.89" width="16.78" height="8.40" fill="#7EA6A3"/>
<rect x="1221.49" y="674.89" width="16.78" height="8.40" fill="#87AE9B"/>
<rect x="1238.25" y="674.89" width="8.40" height="8.40" fill="#9BBD8C"/>
<rect x="1246.63" y="674.89" width="8.40" height="8.40" fill="#A5C585"/>
<rect x="1255.01" y="674.89" width="16.78" height="8.40" fill="#FF7300"/>
<rect x="1271.77" y="674.89" width="8.40" height="8.40" fill="#FF9900"/>
<rect x="1280.15" y="674.89" width="25.16" height="8.40" fill="#FF0000"/>
<rect x="1305.29" y="674.89" width="8.40" height="8.40" fill="#AFCD7D"/>
<rect x="1313.67" y="674.89" width="8.40" height="8.40" fill="#A5C585"/>
<rect x="1322.05" y="674.89" width="8.40" height="8.40" fill="#91B694"/>
<rect x="1330.43" y="674.89" width="8.40" height="8.40" fill="#87AE9B"/>
<rect x="1338.80" y="674.89" width="8.40" height="8.40" fill="#749EAA"/>
<rect x="1196.36" y="666.51" width="25.16" height="8.40" fill="#749EAA"/>
<rect x="1221.49" y="666.51" width="16.78" height="8.40" fill="#7EA6A3"/>
<rect x="1238.25" y="666.51" width="8.40" height="8.40" fill="#87AE9B"/>
<rect x="1246.63" y="666.51" width="8.40" height="8.40" fill="#91B694"/>
<rect x="1255.01" y="666.51" width="8.40" height="8.40" fill="#A5C585"/>
<rect x="1263.39" y="666.51" width="8.40" height="8.40" fill="#FF9900"/>
<rect x="1271.77" y="666.51" width="8.40" height="8.40" fill="#FF7300"/>
<rect x="1280.15" y="666.51" width="8.40" height="8.40" fill="#FF9900"/>
<rect x="1288.53" y="666.51" width="25.16" height="8.40" fill="#FF0000"/>
<rect x="1313.67" y="666.51" width="8.40" height="8.40" fill="#FF9900"/>
<rect x="1322.05" y="666.51" width="8.40" height="8.40" fill="#A5C585"/>
<rect x="1330.43" y="666.51" width="8.40" height="8.40" fill="#91B694"/>
<rect x="1338.80" y="666.51" width="8.40" height="8.40" fill="#87AE9B"/>
<rect x="1347.18" y="666.51" width="8.40" height="8.40" fill="#749EAA"/>
<rect x="1221.49" y="658.13" width="16.78" height="8.40" fill="#749EAA"/>
<rect x="1238.25" y="658.13" width="8.40" height="8.40" fill="#7EA6A3"/>
<rect x="1246.63" y="658.13" width="8.40" height="8.40" fill="#87AE9B"/>
<rect x="1255.01" y="658.13" width="8.40" height="8.40" fill="#91B694"/>
<rect x="1263.39" y="658.13" width="8.40" height="8.40" fill="#9BBD8C"/>
<rect x="1271.77" y="658.13" width="16.78" height="8.40" fill="#A5C585"/>
<rect x="1288.53" y="658.13" width="8.40" height="8.40" fill="#AFCD7D"/>
<rect x="1296.91" y="658.13" width="25.16" height="8.40" fill="#FF0000"/>
<rect x="1322.05" y="658.13" width="8.40" height="8.40" fill="#AFCD7D"/>
<rect x="1330.43" y="658.13" width="8.40" height="8.40" fill="#A5C585"/>
<rect x="1338.80" y="658.13" width="8.40" height="8.40" fill="#91B694"/>
<rect x="1347.18" y="658.13" width="8.40" height="8.40" fill="#87AE9B"/>
<rect x="1355.56" y="658.13" width="8.40" height="8.40" fill="#749EAA"/>
<rect x="1238.25" y="649.75" width="16.78" height="8.40" fill="#749EAA"/>
<rect x="1255.01" y="649.75" width="8.40" height="8.40" fill="#87AE9B"/>
<rect x="1263.39" y="649.75" width="25.16" height="8.40" fill="#91B694"/>
<rect x="1288.53" y="649.75" width="8.40" height="8.40" fill="#A5C585"/>
<rect x="1296.91" y="649.75" width="8.40" height="8.40" fill="#FF9900"/>
<rect x="1305.29" y="649.75" width="25.16" height="8.40" fill="#FF0000"/>
<rect x="1330.43" y="649.75" width="8.40" height="8.40" fill="#FF9900"/>
<rect x="1338.80" y="649.75" width="8.40" height="8.40" fill="#A5C585"/>
<rect x="1347.18" y="649.75" width="8.40" height="8.40" fill="#91B694"/>
<rect x="1355.56" y="649.75" width="8.40" height="8.40" fill="#87AE9B"/>
<rect x="1363.94" y="649.75" width="8.40" height="8.40" fill="#749EAA"/>
<rect x="1255.01" y="641.37" width="8.40" height="8.40" fill="#749EAA"/>
<rect x="1263.39" y="641.37" width="8.40" height="8.40" fill="#7EA6A3"/>
<rect x="1271.77" y="641.37" width="16.78" height="8.40" fill="#87AE9B"/>
<rect x="1288.53" y="641.37" width="8.40" height="8.40" fill="#91B694"/>
<rect x="1296.91" y="641.37" width="8.40" height="8.40" fill="#A5C585"/>
<rect x="1305.29" y="641.37" width="8.40" height="8.40" fill="#AFCD7D"/>
<rect x="1313.67" y="641.37" width="25.16" height="8.40" fill="#FF0000"/>
<rect x="1338.80" y="641.37" width="8.40" height="8.40" fill="#FF9900"/>
<rect x="1347.18" y="641.37" width="8.40" height="8.40" fill="#A5C585"/>
<rect x="1355.56" y="641.37" width="8.40" height="8.40" fill="#91B694"/>
<rect x="1363.94" y="641.37" width="8.40" height="8.40" fill="#87AE9B"/>
<rect x="1372.32" y="641.37" width="8.40" height="8.40" fill="#749EAA"/>
<rect x="1271.77" y="633.00" width="16.78" height="8.40" fill="#749EAA"/>
<rect x="1288.53" y="633.00" width="8.40" height="8.40" fill="#87AE9B"/>
<rect x="1296.91" y="633.00" width="8.40" height="8.40" fill="#91B694"/>
<rect x="1305.29" y="633.00" width="8.40" height="8.40" fill="#A5C585"/>
<rect x="1313.67" y="633.00" width="8.40" height="8.40" fill="#FF9900"/>
<rect x="1322.05" y="633.00" width="25.16" height="8.40" fill="#FF0000"/>
<rect x="1347.18" y="633.00" width="8.40" height="8.40" fill="#FF9900"/>
<rect x="1355.56" y="633.00" width="8.40" height="8.40" fill="#A5C585"/>
<rect x="1363.94" y="633.00" width="8.40" height="8.40" fill="#91B694"/>
<rect x="1372.32" y="633.00" width="8.40" height="8.40" fill="#87AE9B"/>
<rect x="1380.70" y="633.00" width="8.40" height="8.40" fill="#749EAA"/>
<rect x="1288.53" y="624.62" width="8.40" height="8.40" fill="#749EAA"/>
<rect x="1296.91" y="624.62" width="8.40" height="8.40" fill="#87AE9B"/>
<rect x="1305.29" y="624.62" width="8.40" height="8.40" fill="#91B694"/>
<rect x="1313.67" y="624.62" width="8.40" height="8.40" fill="#A5C585"/>
<rect x="1322.05" y="624.62" width="8.40" height="8.40" fill="#FF9900"/>
<rect x="1330.43" y="624.62" width="25.16" height="8.40" fill="#FF0000"/>
<rect x="1355.56" y="624.62" width="8.40" height="8.40" fill="#FF9900"/>
<rect x="1363.94" y="624.62" width="8.40" height="8.40" fill="#A5C585"/>
<rect x="1372.32" y="624.62" width="8.40" height="8.40" fill="#91B694"/>
<rect x="1380.70" y="624.62" width="8.40" height="8.40" fill="#87AE9B"/>
<rect x="1389.08" y="624.62" width="8.40" height="8.40" fill="#749EAA"/>
<rect x="1296.91" y="616.24" width="8.40" height="8.40" fill="#749EAA"/>
<rect x="1305.29" y="616.24" width="8.40" height="8.40" fill="#87AE9B"/>
<rect x="1313.67" y="616.24" width="8.40" height="8.40" fill="#91B694"/>
<rect x="1322.05" y="616.24" width="8.40" height="8.40" fill="#A5C585"/>
<rect x="1330.43" y="616.24" width="8.40" height="8.40" fill="#FF9900"/>
<rect x="1338.80" y="616.24" width="25.16" height="8.40" fill="#FF0000"/>
<rect x="1363.94" y="616.24" width="8.40" height="8.40" fill="#FF9900"/>
<rect x="1372.32" y="616.24" width="8.40" height="8.40" fill="#A5C585"/>
<rect x="1380.70" y="616.24" width="8.40" height="8.40" fill="#91B694"/>
<rect x="1389.08" y="616.24" width="8.40" height="8.40" fill="#87AE9B"/>
<rect x="1397.46" y="616.24" width="8.40" height="8.40" fill="#749EAA"/>
<rect x="1305.29" y="607.86" width="8.40" height="8.40" fill="#749EAA"/>
<rect x="1313.67" y="607.86" width="8.40" height="8.40" fill="#87AE9B"/>
<rect x="1322.05" y="607.86" width="8.40" height="8.40" fill="#91B694"/>
<rect x="1330.43" y="607.86" width="8.40" height="8.40" fill="#A5C585"/>
<rect x="1338.80" y="607.86" width="8.40" height="8.40" fill="#FF9900"/>
<rect x="1347.18" y="607.86" width="25.16" height="8.40" fill="#FF0000"/>
<rect x="1372.32" y="607.86" width="8.40" height="8.40" fill="#FF9900"/>
<rect x="1380.70" y="607.86" width="8.40" height="8.40" fill="#A5C585"/>
<rect x="1389.08" y="607.86" width="8.40" height="8.40" fill="#91B694"/>
<rect x="1397.46" y="607.86" width="8.40" height="8.40" fill="#87AE9B"/>
<rect x="1405.84" y="607.86" width="8.40" height="8.40" fill="#749EAA"/>
<rect x="1313.67" y="599.48" width="8.40" height="8.40" fill="#749EAA"/>
<rect x="1322.05" y="599.48" width="8.40" height="8.40" fill="#87AE9B"/>
<rect x="1330.43" y="599.48" width="8.40" height="8.40" fill="#91B694"/>
<rect x="1338.80" y="599.48" width="8.40" height="8.40" fill="#A5C585"/>
<rect x="1347.18" y="599.48" width="8.40" height="8.40" fill="#FF9900"/>
<rect x="1355.56" y="599.48" width="25.16" height="8.40" fill="#FF0000"/>
<rect x="1380.70" y="599.48" width="8.40" height="8.40" fill="#AFCD7D"/>
<rect x="1389.08" y="599.48" width="8.40" height="8.40" fill="#A5C585"/>
<rect x="1397.46" y="599.48" width="8.40" height="8.40" fill="#91B694"/>
<rect x="1405.84" y="599.48" width="8.40" height="8.40" fill="#87AE9B"/>
<rect x="1414.22" y="599.48" width="8.40" height="8.40" fill="#749EAA"/>
<rect x="1322.05" y="591.10" width="8.40" height="8.40" fill="#749EAA"/>
<rect x="1330.43" y="591.10" width="8.40" height="8.40" fill="#87AE9B"/>
<rect x="1338.80" y="591.10" width="8.40" height="8.40" fill="#91B694"/>
<rect x="1347.18" y="591.10" width="8.40" height="8.40" fill="#A5C585"/>
<rect x="1355.56" y="591.10" width="8.40" height="8.40" fill="#FF9900"/>
<rect x="1363.94" y="591.10" width="25.16" height="8.40" fill="#FF0000"/>
<rect x="1389.08" y="591.10" width="8.40" height="8.40" fill="#FF9900"/>
<rect x="1397.46" y="591.10" width="8.40" height="8.40" fill="#A5C585"/>
<rect x="1405.84" y="591.10" width="8.40" height="8.40" fill="#91B694"/>
<rect x="1414.22" y="591.10" width="8.40" height="8.40" fill="#87AE9B"/>
<rect x="1422.60" y="591.10" width="8.40" height="8.40" fill="#749EAA"/>
<rect x="1330.43" y="582.72" width="8.40" height="8.40" fill="#749EAA"/>
<rect x="1338.80" y="582.72" width="8.40" height="8.40" fill="#87AE9B"/>
<rect x="1347.18" y="582.72" width="8.40" height="8.40" fill="#91B694"/>
<rect x="1355.56" y="582.72" width="8.40" height="8.40" fill="#A5C585"/>
<rect x="1363.94" y="582.72" width="8.40" height="8.40" fill="#AFCD7D"/>
<rect x="1372.32" y="582.72" width="25.16" height="8.40" fill="#FF0000"/>
<rect x="1397.46" y="582.72" width="8.40" height="8.40" fill="#FF9900"/>
<rect x="1405.84" y="582.72" width="8.40" height="8.40" fill="#A5C585"/>
<rect x="1414.22" y="582.72" width="8.40" height="8.40" fill="#91B694"/>
<rect x="1422.60" y="582.72" width="8.40" height="8.40" fill="#87AE9B"/>
<rect x="1430.98" y="582.72" width="8.40" height="8.40" fill="#749EAA"/>
<rect x="1338.80" y="574.34" width="8.40" height="8.40" fill="#749EAA"/>
<rect x="1347.18" y="574.34" width="8.40" height="8.40" fill="#87AE9B"/>
<rect x="1355.56" y="574.34" width="8.40" height="8.40" fill="#91B694"/>
<rect x="1363.94" y="574.34" width="8.40" height="8.40" fill="#A5C585"/>
<rect x="1372.32" y="574.34" width="8.40" height="8.40" fill="#FF9900"/>
<rect x="1380.70" y="574.34" width="25.16" height="8.40" fill="#FF0000"/>
<rect x="1405.84" y="574.34" width="8.40" height="8.40" fill="#FF9900"/>
<rect x="1414.22" y="574.34" width="8.40" height="8.40" fill="#A5C585"/>
<rect x="1422.60" y="574.34" width="8.40" height="8.40" fill="#91B694"/>
<rect x="1430.98" y="574.34" width="8.40" height="8.40" fill="#87AE9B"/>
<rect x="1439.36" y="574.34" width="8.40" height="8.40" fill="#749EAA"/>
<rect x="1347.18" y="565.96" width="8.40" height="8.40" fill="#749EAA"/>
<rect x="1355.56" y="565.96" width="8.40" height="8.40" fill="#87AE9B"/>
<rect x="1363.94" y="565.96" width="8.40" height="8.40" fill="#91B694"/>
<rect x="1372.32" y="565.96" width="8.40" height="8.40" fill="#A5C585"/>
<rect x="1380.70" y="565.96" width="8.40" height="8.40" fill="#FF9900"/>
<rect x="1389.08" y="565.96" width="25.16" height="8.40" fill="#FF0000"/>
<rect x="1414.22" y="565.96" width="8.40" height="8.40" fill="#FF9900"/>
<rect x="1422.60" y="565.96" width="8.40" height="8.40" fill="#A5C585"/>
<rect x="1430.98" y="565.96" width="8.40" height="8.40" fill="#91B694"/>
<rect x="1439.36" y="565.96" width="8.40" height="8.40" fill="#87AE9B"/>
<rect x="1447.74" y="565.96" width="8.40" height="8.40" fill="#749EAA"/>
<rect x="1355.56" y="557.58" width="8.40" height="8.40" fill="#749EAA"/>
<rect x="1363.94" y="557.58" width="8.40" height="8.40" fill="#87AE9B"/>
<rect x="1372.32" y="557.58" width="8.40" height="8.40" fill="#91B694"/>
<rect x="1380.70" y="557.58" width="8.40" height="8.40" fill="#A5C585"/>
<rect x="1389.08" y="557.58" width="8.40" height="8.40" fill="#FF9900"/>
<rect x="1397.46" y="557.58" width="25.16" height="8.40" fill="#FF0000"/>
<rect x="1422.60" y="557.58" width="8.40" height="8.40" fill="#AFCD7D"/>
<rect x="1430.98" y="557.58" width="8.40" height="8.40" fill="#A5C585"/>
<rect x="1439.36" y="557.58" width="8.40" height="8.40" fill="#91B694"/>
<rect x="1447.74" y="557.58" width="8.40" height="8.40" fill="#87AE9B"/>
<rect x="1456.11" y="557.58" width="8.40" height="8.40" fill="#749EAA"/>
<rect x="1363.94" y="549.20" width="8.40" height="8.40" fill="#749EAA"/>
<rect x="1372.32" y="549.20" width="8.40" height="8.40" fill="#87AE9B"/>
<rect x="1380.70" y="549.20" width="8.40" height="8.40" fill="#91B694"/>
<rect x="1389.08" y="549.20" width="8.40" height="8.40" fill="#A5C585"/>
<rect x="1397.46" y="549.20" width="8.40" height="8.40" fill="#FF9900"/>
<rect x="1405.84" y="549.20" width="25.16" height="8.40" fill="#FF0000"/>
<rect x="1430.98" y="549.20" width="8.40" height="8.40" fill="#FF9900"/>
<rect x="1439.36" y="549.20" width="8.40" height="8.40" fill="#A5C585"/>
<rect x="1447.74" y="549.20" width="8.40" height="8.40" fill="#91B694"/>
<rect x="1456.11" y="549.20" width="8.40" height="8.40" fill="#87AE9B"/>
<rect x="1464.49" y="549.20" width="8.40" height="8.40" fill="#749EAA"/>
<rect x="1372.32" y="540.82" width="8.40" height="8.40" fill="#749EAA"/>
<rect x="1380.70" y="540.82" width="8.40" height="8.40" fill="#87AE9B"/>
<rect x="1389.08" y="540.82" width="8.40" height="8.40" fill="#91B694"/>
<rect x="1397.46" y="540.82" width="8.40" height="8.40" fill="#A5C585"/>
<rect x="1405.84" y="540.82" width="8.40" height="8.40" fill="#AFCD7D"/>
<rect x="1414.22" y="540.82" width="25.16" height="8.40" fill="#FF0000"/>
<rect x="1439.36" y="540.82" width="8.40" height="8.40" fill="#FF9900"/>
<rect x="1447.74" y="540.82" width="8.40" height="8.40" fill="#A5C585"/>
<rect x="1456.11" y="540.82" width="8.40" height="8.40" fill="#91B694"/>
<rect x="1464.49" y="540.82" width="8.40" height="8.40" fill="#87AE9B"/>
<rect x="1472.87" y="540.82" width="8.40" height="8.40" fill="#749EAA"/>
<rect x="1380.70" y="532.44" width="8.40" height="8.40" fill="#749EAA"/>
<rect x="1389.08" y="532.44" width="8.40" height="8.40" fill="#87AE9B"/>
<rect x="1397.46" y="532.44" width="8.40" height="8.40" fill="#91B694"/>
<rect x="1405.84" y="532.44" width="8.40" height="8.40" fill="#A5C585"/>
<rect x="1414.22" y="532.44" width="8.40" height="8.40" fill="#FF9900"/>
<rect x="1422.60" y="532.44" width="25.16" height="8.40" fill="#FF0000"/>
<rect x="1447.74" y="532.44" width="8.40" height="8.40" fill="#FF9900"/>
<rect x="1456.11" y="532.44" width="8.40" height="8.40" fill="#A5C585"/>
<rect x="1464.49" y="532.44" width="8.40" height="8.40" fill="#91B694"/>
<rect x="1472.87" y="532.44" width="8.40" height="8.40" fill="#87AE9B"/>
<rect x="1481.25" y="532.44" width="8.40" height="8.40" fill="#749EAA"/>
<rect x="1389.08" y="524.06" width="8.40" height="8.40" fill="#749EAA"/>
<rect x="1397.46" y="524.06" width="8.40" height="8.40" fill="#87AE9B"/>
<rect x="1405.84" y="524.06" width="8.40" height="8.40" fill="#91B694"/>
<rect x="1414.22" y="524.06" width="8.40" height="8.40" fill="#A5C585"/>
<rect x="1422.60" y="524.06" width="8.40" height="8.40" fill="#FF9900"/>
<rect x="1430.98" y="524.06" width="25.16" height="8.40" fill="#FF0000"/>
<rect x="1456.11" y="524.06" width="8.40" height="8.40" fill="#FF9900"/>
<rect x="1464.49" y="524.06" width="8.40" height="8.40" fill="#A5C585"/>
<rect x="1472.87" y="524.06" width="8.40" height="8.40" fill="#91B694"/>
<rect x="1481.25" y="524.06" width="8.40" height="8.40" fill="#87AE9B"/>
<rect x="1489.63" y="524.06" width="8.40" height="8.40" fill="#749EAA"/>
<rect x="1397.46" y="515.69" width="8.40" height="8.40" fill="#749EAA"/>
<rect x="1405.84" y="515.69" width="8.40" height="8.40" fill="#87AE9B"/>
<rect x="1414.22" y="515.69" width="8.40" height="8.40" fill="#91B694"/>
<rect x="1422.60" y="515.69" width="8.40" height="8.40" fill="#A5C585"/>
<rect x="1430.98" y="515.69" width="8.40" height="8.40" fill="#FF9900"/>
<rect x="1439.36" y="515.69" width="25.16" height="8.40" fill="#FF0000"/>
<rect x="1464.49" y="515.69" width="8.40" height="8.40" fill="#AFCD7D"/>
<rect x="1472.87" y="515.69" width="8.40" height="8.40" fill="#A5C585"/>
<rect x="1481.25" y="515.69" width="8.40" height="8.40" fill="#91B694"/>
<rect x="1489.63" y="515.69" width="8.40" height="8.40" fill="#87AE9B"/>
<rect x="1498.01" y="515.69" width="8.40" height="8.40" fill="#749EAA"/>
<rect x="1405.84" y="507.31" width="8.40" height="8.40" fill="#749EAA"/>
<rect x="1414.22" y="507.31" width="8.40" height="8.40" fill="#87AE9B"/>
<rect x="1422.60" y="507.31" width="8.40" height="8.40" fill="#91B694"/>
<rect x="1430.98" y="507.31" width="8.40" height="8.40" fill="#A5C585"/>
<rect x="1439.36" y="507.31" width="8.40" height="8.40" fill="#FF9900"/>
<rect x="1447.74" y="507.31" width="25.16" height="8.40" fill="#FF0000"/>
<rect x="1472.87" y="507.31" width="8.40" height="8.40" fill="#FF9900"/>
<rect x="1481.25" y="507.31" width="8.40" height="8.40" fill="#A5C585"/>
<rect x="1489.63" y="507.31" width="8.40" height="8.40" fill="#91B694"/>
<rect x="1498.01" y="507.31" width="8.40" height="8.40" fill="#87AE9B"/>
<rect x="1506.39" y="507.31" width="8.40" height="8.40" fill="#749EAA"/>
<rect x="1414.22" y="498.93" width="8.40" height="8.40" fill="#749EAA"/>
<rect x="1422.60" y="498.93" width="8.40" height="8.40" fill="#87AE9B"/>
<rect x="1430.98" y="498.93" width="8.40" height="8.40" fill="#91B694"/>
<rect x="1439.36" y="498.93" width="8.40" height="8.40" fill="#A5C585"/>
<rect x="1447.74" y="498.93" width="8.40" height="8.40" fill="#AFCD7D"/>
<rect x="1456.11" y="498.93" width="25.16" height="8.40" fill="#FF0000"/>
<rect x="1481.25" y="498.93" width="8.40" height="8.40" fill="#FF9900"/>
<rect x="1489.63" y="498.93" width="8.40" height="8.40" fill="#A5C585"/>
<rect x="1498.01" y="498.93" width="8.40" height="8.40" fill="#91B694"/>
<rect x="1506.39" y="498.93" width="8.40" height="8.40" fill="#87AE9B"/>
<rect x="1514.77" y="498.93" width="8.40" height="8.40" fill="#749EAA"/>
<rect x="1422.60" y="490.55" width="8.40" height="8.40" fill="#749EAA"/>
<rect x="1430.98" y="490.55" width="8.40" height="8.40" fill="#87AE9B"/>
<rect x="1439.36" y="490.55" width="8.40" height="8.40" fill="#91B694"/>
<rect x="1447.74" y="490.55" width="8.40" height="8.40" fill="#A5C585"/>
<rect x="1456.11" y="490.55" width="8.40" height="8.40" fill="#FF9900"/>
<rect x="1464.49" y="490.55" width="25.16" height="8.40" fill="#FF0000"/>
<rect x="1489.63" y="490.55" width="8.40" height="8.40" fill="#FF9900"/>
<rect x="1498.01" y="490.55" width="8.40" height="8.40" fill="#A5C585"/>
<rect x="1506.39" y="490.55" width="8.40" height="8.40" fill="#91B694"/>
<rect x="1514.77" y="490.55" width="8.40" height="8.40" fill="#87AE9B"/>
<rect x="1523.15" y="490.55" width="8.40" height="8.40" fill="#749EAA"/>
<rect x="1430.98" y="482.17" width="8.40" height="8.40" fill="#749EAA"/>
<rect x="1439.36" y="482.17" width="8.40" height="8.40" fill="#87AE9B"/>
<rect x="1447.74" y="482.17" width="8.40" height="8.40" fill="#91B694"/>
<rect x="1456.11" y="482.17" width="8.40" height="8.40" fill="#A5C585"/>
<rect x="1464.49" y="482.17" width="8.40" height="8.40" fill="#FF9900"/>
<rect x="1472.87" y="482.17" width="25.16" height="8.40" fill="#FF0000"/>
<rect x="1498.01" y="482.17" width="8.40" height="8.40" fill="#FF9900"/>
<rect x="1506.39" y="482.17" width="8.40" height="8.40" fill="#A5C585"/>
<rect x="1514.77" y="482.17" width="8.40" height="8.40" fill="#91B694"/>
<rect x="1523.15" y="482.17" width="8.40" height="8.40" fill="#87AE9B"/>
<rect x="1531.53" y="482.17" width="8.40" height="8.40" fill="#749EAA"/>
<rect x="1439.36" y="473.79" width="8.40" height="8.40" fill="#749EAA"/>
<rect x="1447.74" y="473.79" width="8.40" height="8.40" fill="#87AE9B"/>
<rect x="1456.11" y="473.79" width="8.40" height="8.40" fill="#91B694"/>
<rect x="1464.49" y="473.79" width="8.40" height="8.40" fill="#A5C585"/>
<rect x="1472.87" y="473.79" width="8.40" height="8.40" fill="#FF9900"/>
<rect x="1481.25" y="473.79" width="25.16" height="8.40" fill="#FF0000"/>
<rect x="1506.39" y="473.79" width="8.40" height="8.40" fill="#FF9900"/>
<rect x="1514.77" y="473.79" width="8.40" height="8.40" fill="#A5C585"/>
<rect x="1523.15" y="473.79" width="8.40" height="8.40" fill="#91B694"/>
<rect x="1531.53" y="473.79" width="8.40" height="8.40" fill="#87AE9B"/>
<rect x="1539.91" y="473.79" width="8.40" height="8.40" fill="#749EAA"/>
<rect x="1447.74" y="465.41" width="8.40" height="8.40" fill="#749EAA"/>
<rect x="1456.11" y="465.41" width="8.40" height="8.40" fill="#87AE9B"/>
<rect x="1464.49" y="465.41" width="8.40" height="8.40" fill="#91B694"/>
<rect x="1472.87" y="465.41" width="8.40" height="8.40" fill="#A5C585"/>
<rect x="1481.25" y="465.41" width="8.40" height="8.40" fill="#FF9900"/>
<rect x="1489.63" y="465.41" width="25.16" height="8.40" fill="#FF0000"/>
<rect x="1514.77" y="465.41" width="8.40" height="8.40" fill="#FF9900"/>
<rect x="1523.15" y="465.41" width="8.40" height="8.40" fill="#A5C585"/>
<rect x="1531.53" y="465.41" width="8.40" height="8.40" fill="#91B694"/>
<rect x="1539.91" y="465.41" width="8.40" height="8.40" fill="#87AE9B"/>
<rect x="1548.29" y="465.41" width="8.40" height="8.40" fill="#749EAA"/>
<rect x="1456.11" y="457.03" width="8.40" height="8.40" fill="#749EAA"/>
<rect x="1464.49" y="457.03" width="8.40" height="8.40" fill="#87AE9B"/>
<rect x="1472.87" y="457.03" width="8.40" height="8.40" fill="#91B694"/>
<rect x="1481.25" y="457.03" width="8.40" height="8.40" fill="#A5C585"/>
<rect x="1489.63" y="457.03" width="8.40" height="8.40" fill="#FF9900"/>
<rect x="1498.01" y="457.03" width="25.16" height="8.40" fill="#FF0000"/>
<rect x="1523.15" y="457.03" width="8.40" height="8.40" fill="#FF9900"/>
<rect x="1531.53" y="457.03" width="8.40" height="8.40" fill="#A5C585"/>
<rect x="1539.91" y="457.03" width="8.40" height="8.40" fill="#91B694"/>
<rect x="1548.29" y="457.03" width="8.40" height="8.40" fill="#87AE9B"/>
<rect x="1556.67" y="457.03" width="8.40" height="8.40" fill="#749EAA"/>
<rect x="1464.49" y="448.65" width="8.40" height="8.40" fill="#749EAA"/>
<rect x="1472.87" y="448.65" width="8.40" height="8.40" fill="#87AE9B"/>
<rect x="1481.25" y="448.65" width="8.40" height="8.40" fill="#91B694"/>
<rect x="1489.63" y="448.65" width="8.40" height="8.40" fill="#A5C585"/>
<rect x="1498.01" y="448.65" width="8.40" height="8.40" fill="#FF9900"/>
<rect x="1506.39" y="448.65" width="25.16" height="8.40" fill="#FF0000"/>
<rect x="1531.53" y="448.65" width="8.40" height="8.40" fill="#FF9900"/>
<rect x="1539.91" y="448.65" width="8.40" height="8.40" fill="#A5C585"/>
<rect x="1548.29" y="448.65" width="8.40" height="8.40" fill="#91B694"/>
<rect x="1556.67" y="448.65" width="8.40" height="8.40" fill="#87AE9B"/>
<rect x="1565.05" y="448.65" width="8.40" height="8.40" fill="#749EAA"/>
<rect x="1472.87" y="440.27" width="8.40" height="8.40" fill="#749EAA"/>
<rect x="1481.25" y="440.27" width="8.40" height="8.40" fill="#87AE9B"/>
<rect x="1489.63" y="440.27" width="8.40" height="8.40" fill="#91B694"/>
<rect x="1498.01" y="440.27" width="8.40" height="8.40" fill="#A5C585"/>
<rect x="1506.39" y="440.27" width="8.40" height="8.40" fill="#FF9900"/>
<rect x="1514.77" y="440.27" width="25.16" height="8.40" fill="#FF0000"/>
<rect x="1539.91" y="440.27" width="8.40" height="8.40" fill="#FF9900"/>
<rect x="1548.29" y="440.27" width="8.40" height="8.40" fill="#A5C585"/>
<rect x="1556.67" y="440.27" width="8.40" height="8.40" fill="#91B694"/>
<rect x="1565.05" y="440.27" width="8.40" height="8.40" fill="#87AE9B"/>
<rect x="1573.42" y="440.27" width="8.40" height="8.40" fill="#749EAA"/>
<rect x="1481.25" y="431.89" width="8.40" height="8.40" fill="#749EAA"/>
<rect x="1489.63" y="431.89" width="8.40" height="8.40" fill="#87AE9B"/>
<rect x="1498.01" y="431.89" width="8.40" height="8.40" fill="#91B694"/>
<rect x="1506.39" y="431.89" width="8.40" height="8.40" fill="#A5C585"/>
<rect x="1514.77" y="431.89" width="8.40" height="8.40" fill="#FF9900"/>
<rect x="1523.15" y="431.89" width="25.16" height="8.40" fill="#FF0000"/>
<rect x="1548.29" y="431.89" width="8.40" height="8.40" fill="#AFCD7D"/>
<rect x="1556.67" y="431.89" width="8.40" height="8.40" fill="#A5C585"/>
<rect x="1565.05" y="431.89" width="8.40" height="8.40" fill="#91B694"/>
<rect x="1573.42" y="431.89" width="8.40" height="8.40" fill="#87AE9B"/>
<rect x="1581.80" y="431.89" width="8.40" height="8.40" fill="#749EAA"/>
<rect x="1489.63" y="423.51" width="8.40" height="8.40" fill="#749EAA"/>
<rect x="1498.01" y="423.51" width="8.40" height="8.40" fill="#87AE9B"/>
<rect x="1506.39" y="423.51" width="8.40" height="8.40" fill="#91B694"/>
<rect x="1514.77" y="423.51" width="8.40" height="8.40" fill="#A5C585"/>
<rect x="1523.15" y="423.51" width="8.40" height="8.40" fill="#FF9900"/>
<rect x="1531.53" y="423.51" width="25.16" height="8.40" fill="#FF0000"/>
<rect x="1556.67" y="423.51" width="8.40" height="8.40" fill="#FF9900"/>
<rect x="1565.05" y="423.51" width="8.40" height="8.40" fill="#A5C585"/>
<rect x="1573.42" y="423.51" width="8.40" height="8.40" fill="#91B694"/>
<rect x="1581.80" y="423.51" width="8.40" height="8.40" fill="#87AE9B"/>
<rect x="1590.18" y="423.51" width="8.40" height="8.40" fill="#749EAA"/>
<rect x="1498.01" y="415.13" width="8.40" height="8.40" fill="#749EAA"/>
<rect x="1506.39" y="415.13" width="8.40" height="8.40" fill="#87AE9B"/>
<rect x="1514.77" y="415.13" width="8.40" height="8.40" fill="#91B694"/>
<rect x="1523.15" y="415.13" width="8.40" height="8.40" fill="#A5C585"/>
<rect x="1531.53" y="415.13" width="8.40" height="8.40" fill="#AFCD7D"/>
<rect x="1539.91" y="415.13" width="25.16" height="8.40" fill="#FF0000"/>
<rect x="1565.05" y="415.13" width="8.40" height="8.40" fill="#FF9900"/>
<rect x="1573.42" y="415.13" width="8.40" height="8.40" fill="#A5C585"/>
<rect x="1581.80" y="415.13" width="8.40" height="8.40" fill="#91B694"/>
<rect x="1590.18" y="415.13" width="8.40" height="8.40" fill="#87AE9B"/>
<rect x="1598.56" y="415.13" width="8.40" height="8.40" fill="#749EAA"/>
<rect x="1506.39" y="406.75" width="8.40" height="8.40" fill="#749EAA"/>
<rect x="1514.77" y="406.75" width="8.40" height="8.40" fill="#87AE9B"/>
<rect x="1523.15" y="406.75" width="8.40" height="8.40" fill="#91B694"/>
<rect x="1531.53" y="406.75" width="8.40" height="8.40" fill="#A5C585"/>
<rect x="1539.91" y="406.75" width="8.40" height="8.40" fill="#FF9900"/>
<rect x="1548.29" y="406.75" width="25.16" height="8.40" fill="#FF0000"/>
<rect x="1573.42" y="406.75" width="8.40" height="8.40" fill="#FF9900"/>
<rect x="1581.80" y="406.75" width="8.40" height="8.40" fill="#A5C585"/>
<rect x="1590.18" y="406.75" width="8.40" height="8.40" fill="#91B694"/>
<rect x="1598.56" y="406.75" width="8.40" height="8.40" fill="#87AE9B"/>
<rect x="1606.94" y="406.75" width="8.40" height="8.40" fill="#749EAA"/>
<rect x="1514.77" y="398.38" width="8.40" height="8.40" fill="#749EAA"/>
<rect x="1523.15" y="398.38" width="8.40" height="8.40" fill="#87AE9B"/>
<rect x="1531.53" y="398.38" width="8.40" height="8.40" fill="#91B694"/>
<rect x="1539.91" y="398.38" width="8.40" height="8.40" fill="#A5C585"/>
<rect x="1548.29" y="398.38" width="8.40" height="8.40" fill="#FF9900"/>
<rect x="1556.67" y="398.38" width="25.16" height="8.40" fill="#FF0000"/>
<rect x="1581.80" y="398.38" width="8.40" height="8.40" fill="#FF9900"/>
<rect x="1590.18" y="398.38" width="8.40" height="8.40" fill="#A5C585"/>
<rect x="1598.56" y="398.38" width="8.40" height="8.40" fill="#91B694"/>
<rect x="1606.94" y="398.38" width="8.40" height="8.40" fill="#87AE9B"/>
<rect x="1615.32" y="398.38" width="8.40" height="8.40" fill="#749EAA"/>
<rect x="1523.15" y="390.00" width="8.40" height="8.40" fill="#749EAA"/>
<rect x="1531.53" y="390.00" width="8.40" height="8.40" fill="#87AE9B"/>
<rect x="1539.91" y="390.00" width="8.40" height="8.40" fill="#91B694"/>
<rect x="1548.29" y="390.00" width="8.40" height="8.40" fill="#A5C585"/>
<rect x="1556.67" y="390.00" width="8.40" height="8.40" fill="#FF9900"/>
<rect x="1565.05" y="390.00" width="25.16" height="8.40" fill="#FF0000"/>
<rect x="1590.18" y="390.00" width="8.40" height="8.40" fill="#FF9900"/>
<rect x="1598.56" y="390.00" width="8.40" height="8.40" fill="#A5C585"/>
<rect x="1606.94" y="390.00" width="8.40" height="8.40" fill="#91B694"/>
<rect x="1615.32" y="390.00" width="8.40" height="8.40" fill="#87AE9B"/>
<rect x="1623.70" y="390.00" width="8.40" height="8.40" fill="#749EAA"/>
<rect x="1531.53" y="381.62" width="8.40" height="8.40" fill="#749EAA"/>
<rect x="1539.91" y="381.62" width="8.40" height="8.40" fill="#87AE9B"/>
<rect x="1548.29" y="381.62" width="8.40" height="8.40" fill="#91B694"/>
<rect x="1556.67" y="381.62" width="8.40" height="8.40" fill="#A5C585"/>
<rect x="1565.05" y="381.62" width="8.40" height="8.40" fill="#FF9900"/>
<rect x="1573.42" y="381.62" width="25.16" height="8.40" fill="#FF0000"/>
<rect x="1598.56" y="381.62" width="8.40" height="8.40" fill="#FF9900"/>
<rect x="1606.94" y="381.62" width="8.40" height="8.40" fill="#A5C585"/>
<rect x="1615.32" y="381.62" width="8.40" height="8.40" fill="#91B694"/>
<rect x="1623.70" y="381.62" width="8.40" height="8.40" fill="#87AE9B"/>
<rect x="1632.08" y="381.62" width="8.40" height="8.40" fill="#749EAA"/>
<rect x="1707.49" y="381.62" width="8.40" height="8.40" fill="#9BBD8C"/>
<rect x="1539.91" y="373.24" width="8.40" height="8.40" fill="#749EAA"/>
<rect x="1548.29" y="373.24" width="8.40" height="8.40" fill="#87AE9B"/>
<rect x="1556.67" y="373.24" width="8.40" height="8.40" fill="#91B694"/>
<rect x="1565.05" y="373.24" width="8.40" height="8.40" fill="#A5C585"/>
<rect x="1573.42" y="373.24" width="8.40" height="8.40" fill="#FF9900"/>
<rect x="1581.80" y="373.24" width="25.16" height="8.40" fill="#FF0000"/>
<rect x="1606.94" y="373.24" width="8.40" height="8.40" fill="#FF9900"/>
<rect x="1615.32" y="373.24" width="8.40" height="8.40" fill="#A5C585"/>
<rect x="1623.70" y="373.24" width="8.40" height="8.40" fill="#91B694"/>
<rect x="1632.08" y="373.24" width="8.40" height="8.40" fill="#87AE9B"/>
<rect x="1640.46" y="373.24" width="8.40" height="8.40" fill="#749EAA"/>
<rect x="1707.49" y="373.24" width="8.40" height="8.40" fill="#FF9900"/>
<rect x="1548.29" y="364.86" width="8.40" height="8.40" fill="#749EAA"/>
<rect x="1556.67" y="364.86" width="8.40" height="8.40" fill="#87AE9B"/>
<rect x="1565.05" y="364.86" width="8.40" height="8.40" fill="#91B694"/>
<rect x="1573.42" y="364.86" width="8.40" height="8.40" fill="#A5C585"/>
<rect x="1581.80" y="364.86" width="8.40" height="8.40" fill="#FF9900"/>
<rect x="1590.18" y="364.86" width="25.16" height="8.40" fill="#FF0000"/>
<rect x="1615.32" y="364.86" width="8.40" height="8.40" fill="#FF7300"/>
<rect x="1623.70" y="364.86" width="8.40" height="8.40" fill="#A5C585"/>
<rect x="1632.08" y="364.86" width="8.40" height="8.40" fill="#91B694"/>
<rect x="1640.46" y="364.86" width="8.40" height="8.40" fill="#87AE9B"/>
<rect x="1648.84" y="364.86" width="8.40" height="8.40" fill="#749EAA"/>
<rect x="1690.73" y="364.86" width="8.40" height="8.40" fill="#9BBD8C"/>
<rect x="1707.49" y="364.86" width="8.40" height="8.40" fill="#FF7300"/>
<rect x="1715.87" y="364.86" width="8.40" height="8.40" fill="#91B694"/>
<rect x="1556.67" y="356.48" width="8.40" height="8.40" fill="#749EAA"/>
<rect x="1565.05" y="356.48" width="8.40" height="8.40" fill="#87AE9B"/>
<rect x="1573.42" y="356.48" width="8.40" height="8.40" fill="#91B694"/>
<rect x="1581.80" y="356.48" width="8.40" height="8.40" fill="#A5C585"/>
<rect x="1590.18" y="356.48" width="8.40" height="8.40" fill="#FF9900"/>
<rect x="1598.56" y="356.48" width="25.16" height="8.40" fill="#FF0000"/>
<rect x="1623.70" y="356.48" width="8.40" height="8.40" fill="#FF9900"/>
<rect x="1632.08" y="356.48" width="16.78" height="8.40" fill="#A5C585"/>
<rect x="1648.84" y="356.48" width="25.16" height="8.40" fill="#9BBD8C"/>
<rect x="1673.98" y="356.48" width="8.40" height="8.40" fill="#A5C585"/>
<rect x="1682.36" y="356.48" width="8.40" height="8.40" fill="#FF7300"/>
<rect x="1690.73" y="356.48" width="8.40" height="8.40" fill="#FF9900"/>
<rect x="1699.11" y="356.48" width="8.40" height="8.40" fill="#FF7300"/>
<rect x="1707.49" y="356.48" width="8.40" height="8.40" fill="#91B694"/>
<rect x="1565.05" y="348.10" width="8.40" height="8.40" fill="#749EAA"/>
<rect x="1573.42" y="348.10" width="8.40" height="8.40" fill="#87AE9B"/>
<rect x="1581.80" y="348.10" width="8.40" height="8.40" fill="#91B694"/>
<rect x="1590.18" y="348.10" width="8.40" height="8.40" fill="#A5C585"/>
<rect x="1598.56" y="348.10" width="8.40" height="8.40" fill="#FF7300"/>
<rect x="1606.94" y="348.10" width="25.16" height="8.40" fill="#FF0000"/>
<rect x="1632.08" y="348.10" width="8.40" height="8.40" fill="#FF9900"/>
<rect x="1640.46" y="348.10" width="16.78" height="8.40" fill="#A5C585"/>
<rect x="1657.22" y="348.10" width="8.40" height="8.40" fill="#9BBD8C"/>
<rect x="1665.60" y="348.10" width="16.78" height="8.40" fill="#A5C585"/>
<rect x="1682.36" y="348.10" width="8.40" height="8.40" fill="#FF9900"/>
<rect x="1690.73" y="348.10" width="8.40" height="8.40" fill="#FF7300"/>
<rect x="1699.11" y="348.10" width="8.40" height="8.40" fill="#A5C585"/>
<rect x="1707.49" y="348.10" width="8.40" height="8.40" fill="#FF7300"/>
<rect x="1715.87" y="348.10" width="8.40" height="8.40" fill="#9BBD8C"/>
<rect x="1724.25" y="348.10" width="8.40" height="8.40" fill="#7EA6A3"/>
<rect x="1573.42" y="339.72" width="8.40" height="8.40" fill="#749EAA"/>
<rect x="1581.80" y="339.72" width="8.40" height="8.40" fill="#87AE9B"/>
<rect x="1590.18" y="339.72" width="8.40" height="8.40" fill="#91B694"/>
<rect x="1598.56" y="339.72" width="8.40" height="8.40" fill="#A5C585"/>
<rect x="1606.94" y="339.72" width="8.40" height="8.40" fill="#FF9900"/>
<rect x="1615.32" y="339.72" width="25.16" height="8.40" fill="#FF0000"/>
<rect x="1640.46" y="339.72" width="8.40" height="8.40" fill="#FF9900"/>
<rect x="1648.84" y="339.72" width="16.78" height="8.40" fill="#A5C585"/>
<rect x="1665.60" y="339.72" width="8.40" height="8.40" fill="#FF7300"/>
<rect x="1673.98" y="339.72" width="8.40" height="8.40" fill="#A5C585"/>
<rect x="1682.36" y="339.72" width="8.40" height="8.40" fill="#FF7300"/>
<rect x="1690.73" y="339.72" width="8.40" height="8.40" fill="#FF9900"/>
<rect x="1699.11" y="339.72" width="8.40" height="8.40" fill="#9BBD8C"/>
<rect x="1707.49" y="339.72" width="8.40" height="8.40" fill="#91B694"/>
<rect x="1715.87" y="339.72" width="8.40" height="8.40" fill="#7EA6A3"/>
<rect x="1581.80" y="331.34" width="8.40" height="8.40" fill="#749EAA"/>
<rect x="1590.18" y="331.34" width="8.40" height="8.40" fill="#87AE9B"/>
<rect x="1598.56" y="331.34" width="8.40" height="8.40" fill="#91B694"/>
<rect x="1606.94" y="331.34" width="8.40" height="8.40" fill="#A5C585"/>
<rect x="1615.32" y="331.34" width="8.40" height="8.40" fill="#FF9900"/>
<rect x="1623.70" y="331.34" width="25.16" height="8.40" fill="#FF0000"/>
<rect x="1648.84" y="331.34" width="8.40" height="8.40" fill="#FF7300"/>
<rect x="1657.22" y="331.34" width="8.40" height="8.40" fill="#FF4C00"/>
<rect x="1665.60" y="331.34" width="16.78" height="8.40" fill="#FF7300"/>
<rect x="1682.36" y="331.34" width="8.40" height="8.40" fill="#FF9900"/>
<rect x="1690.73" y="331.34" width="8.40" height="8.40" fill="#FF7300"/>
<rect x="1699.11" y="331.34" width="8.40" height="8.40" fill="#9BBD8C"/>
<rect x="1707.49" y="331.34" width="8.40" height="8.40" fill="#91B694"/>
<rect x="1715.87" y="331.34" width="8.40" height="8.40" fill="#7EA6A3"/>
<rect x="1590.18" y="322.96" width="8.40" height="8.40" fill="#749EAA"/>
<rect x="1598.56" y="322.96" width="8.40" height="8.40" fill="#87AE9B"/>
<rect x="1606.94" y="322.96" width="16.78" height="8.40" fill="#A5C585"/>
<rect x="1623.70" y="322.96" width="8.40" height="8.40" fill="#FF9900"/>
<rect x="1632.08" y="322.96" width="25.16" height="8.40" fill="#FF0000"/>
<rect x="1657.22" y="322.96" width="8.40" height="8.40" fill="#A5C585"/>
<rect x="1665.60" y="322.96" width="8.40" height="8.40" fill="#9BBD8C"/>
<rect x="1673.98" y="322.96" width="8.40" height="8.40" fill="#91B694"/>
<rect x="1682.36" y="322.96" width="16.78" height="8.40" fill="#87AE9B"/>
<rect x="1699.11" y="322.96" width="8.40" height="8.40" fill="#7EA6A3"/>
<rect x="1707.49" y="322.96" width="8.40" height="8.40" fill="#749EAA"/>
<rect x="1598.56" y="314.58" width="8.40" height="8.40" fill="#749EAA"/>
<rect x="1606.94" y="314.58" width="8.40" height="8.40" fill="#9BBD8C"/>
<rect x="1615.32" y="314.58" width="16.78" height="8.40" fill="#A5C585"/>
<rect x="1632.08" y="314.58" width="8.40" height="8.40" fill="#FF7300"/>
<rect x="1640.46" y="314.58" width="25.16" height="8.40" fill="#FF0000"/>
<rect x="1665.60" y="314.58" width="8.40" height="8.40" fill="#FF9900"/>
<rect x="1673.98" y="314.58" width="8.40" height="8.40" fill="#A5C585"/>
<rect x="1682.36" y="314.58" width="8.40" height="8.40" fill="#91B694"/>
<rect x="1690.73" y="314.58" width="8.40" height="8.40" fill="#87AE9B"/>
<rect x="1699.11" y="314.58" width="8.40" height="8.40" fill="#749EAA"/>
<rect x="1707.49" y="314.58" width="8.40" height="8.40" fill="#6A97B2"/>
<rect x="1606.94" y="306.20" width="16.78" height="8.40" fill="#9BBD8C"/>
<rect x="1623.70" y="306.20" width="8.40" height="8.40" fill="#A5C585"/>
<rect x="1632.08" y="306.20" width="8.40" height="8.40" fill="#FF4C00"/>
<rect x="1640.46" y="306.20" width="8.40" height="8.40" fill="#A5C585"/>
<rect x="1648.84" y="306.20" width="25.16" height="8.40" fill="#FF0000"/>
<rect x="1673.98" y="306.20" width="8.40" height="8.40" fill="#AFCD7D"/>
<rect x="1682.36" y="306.20" width="8.40" height="8.40" fill="#A5C585"/>
<rect x="1690.73" y="306.20" width="8.40" height="8.40" fill="#91B694"/>
<rect x="1699.11" y="306.20" width="8.40" height="8.40" fill="#87AE9B"/>
<rect x="1707.49" y="306.20" width="8.40" height="8.40" fill="#749EAA"/>
<rect x="1606.94" y="297.82" width="8.40" height="8.40" fill="#9BBD8C"/>
<rect x="1615.32" y="297.82" width="8.40" height="8.40" fill="#A5C585"/>
<rect x="1623.70" y="297.82" width="16.78" height="8.40" fill="#FF7300"/>
<rect x="1640.46" y="297.82" width="8.40" height="8.40" fill="#9BBD8C"/>
<rect x="1648.84" y="297.82" width="8.40" height="8.40" fill="#FF9900"/>
<rect x="1657.22" y="297.82" width="25.16" height="8.40" fill="#FF0000"/>
<rect x="1682.36" y="297.82" width="8.40" height="8.40" fill="#FF9900"/>
<rect x="1690.73" y="297.82" width="8.40" height="8.40" fill="#A5C585"/>
<rect x="1699.11" y="297.82" width="8.40" height="8.40" fill="#91B694"/>
<rect x="1707.49" y="297.82" width="8.40" height="8.40" fill="#87AE9B"/>
<rect x="1715.87" y="297.82" width="8.40" height="8.40" fill="#749EAA"/>
<rect x="1606.94" y="289.44" width="25.16" height="8.40" fill="#A5C585"/>
<rect x="1632.08" y="289.44" width="8.40" height="8.40" fill="#FF7300"/>
<rect x="1640.46" y="289.44" width="8.40" height="8.40" fill="#91B694"/>
<rect x="1648.84" y="289.44" width="8.40" height="8.40" fill="#A5C585"/>
<rect x="1657.22" y="289.44" width="8.40" height="8.40" fill="#AFCD7D"/>
<rect x="1665.60" y="289.44" width="25.16" height="8.40" fill="#FF0000"/>
<rect x="1690.73" y="289.44" width="8.40" height="8.40" fill="#FF9900"/>
<rect x="1699.11" y="289.44" width="8.40" height="8.40" fill="#A5C585"/>
<rect x="1707.49" y="289.44" width="8.40" height="8.40" fill="#91B694"/>
<rect x="1715.87" y="289.44" width="8.40" height="8.40" fill="#87AE9B"/>
<rect x="1724.25" y="289.44" width="8.40" height="8.40" fill="#749EAA"/>
<rect x="1606.94" y="281.07" width="8.40" height="8.40" fill="#FF7300"/>
<rect x="1615.32" y="281.07" width="8.40" height="8.40" fill="#FF9900"/>
<rect x="1623.70" y="281.07" width="8.40" height="8.40" fill="#FF7300"/>
<rect x="1632.08" y="281.07" width="8.40" height="8.40" fill="#FF9900"/>
<rect x="1640.46" y="281.07" width="8.40" height="8.40" fill="#87AE9B"/>
<rect x="1648.84" y="281.07" width="8.40" height="8.40" fill="#91B694"/>
<rect x="1657.22" y="281.07" width="8.40" height="8.40" fill="#A5C585"/>
<rect x="1665.60" y="281.07" width="8.40" height="8.40" fill="#FF9900"/>
<rect x="1673.98" y="281.07" width="25.16" height="8.40" fill="#FF0000"/>
<rect x="1699.11" y="281.07" width="8.40" height="8.40" fill="#FF9900"/>
<rect x="1707.49" y="281.07" width="8.40" height="8.40" fill="#A5C585"/>
<rect x="1715.87" y="281.07" width="8.40" height="8.40" fill="#91B694"/>
<rect x="1724.25" y="281.07" width="8.40" height="8.40" fill="#87AE9B"/>
<rect x="1732.63" y="281.07" width="8.40" height="8.40" fill="#749EAA"/>
<rect x="1598.56" y="272.69" width="8.40" height="8.40" fill="#9BBD8C"/>
<rect x="1606.94" y="272.69" width="8.40" height="8.40" fill="#FF9900"/>
<rect x="1615.32" y="272.69" width="8.40" height="8.40" fill="#FF7300"/>
<rect x="1623.70" y="272.69" width="8.40" height="8.40" fill="#FF9900"/>
<rect x="1632.08" y="272.69" width="8.40" height="8.40" fill="#FF7300"/>
<rect x="1640.46" y="272.69" width="16.78" height="8.40" fill="#87AE9B"/>
<rect x="1657.22" y="272.69" width="8.40" height="8.40" fill="#91B694"/>
<rect x="1665.60" y="272.69" width="8.40" height="8.40" fill="#A5C585"/>
<rect x="1673.98" y="272.69" width="8.40" height="8.40" fill="#FF9900"/>
<rect x="1682.36" y="272.69" width="25.16" height="8.40" fill="#FF0000"/>
<rect x="1707.49" y="272.69" width="8.40" height="8.40" fill="#FF7300"/>
<rect x="1715.87" y="272.69" width="8.40" height="8.40" fill="#A5C585"/>
<rect x="1724.25" y="272.69" width="8.40" height="8.40" fill="#91B694"/>
<rect x="1732.63" y="272.69" width="8.40" height="8.40" fill="#87AE9B"/>
<rect x="1741.01" y="272.69" width="8.40" height="8.40" fill="#749EAA"/>
<rect x="1791.29" y="272.69" width="8.40" height="8.40" fill="#7EA6A3"/>
<rect x="1799.67" y="272.69" width="8.40" height="8.40" fill="#9BBD8C"/>
<rect x="1808.04" y="272.69" width="8.40" height="8.40" fill="#FF7300"/>
<rect x="1816.42" y="272.69" width="8.40" height="8.40" fill="#FF9900"/>
<rect x="1824.80" y="272.69" width="8.40" height="8.40" fill="#FF7300"/>
<rect x="1606.94" y="264.31" width="8.40" height="8.40" fill="#FF7300"/>
<rect x="1615.32" y="264.31" width="8.40" height="8.40" fill="#A5C585"/>
<rect x="1623.70" y="264.31" width="16.78" height="8.40" fill="#9BBD8C"/>
<rect x="1640.46" y="264.31" width="8.40" height="8.40" fill="#7EA6A3"/>
<rect x="1648.84" y="264.31" width="8.40" height="8.40" fill="#749EAA"/>
<rect x="1657.22" y="264.31" width="8.40" height="8.40" fill="#87AE9B"/>
<rect x="1665.60" y="264.31" width="8.40" height="8.40" fill="#91B694"/>
<rect x="1673.98" y="264.31" width="8.40" height="8.40" fill="#A5C585"/>
<rect x="1682.36" y="264.31" width="8.40" height="8.40" fill="#FF9900"/>
<rect x="1690.73" y="264.31" width="25.16" height="8.40" fill="#FF0000"/>
<rect x="1715.87" y="264.31" width="8.40" height="8.40" fill="#FF9900"/>
<rect x="1724.25" y="264.31" width="8.40" height="8.40" fill="#A5C585"/>
<rect x="1732.63" y="264.31" width="8.40" height="8.40" fill="#91B694"/>
<rect x="1741.01" y="264.31" width="8.40" height="8.40" fill="#87AE9B"/>
<rect x="1749.39" y="264.31" width="8.40" height="8.40" fill="#749EAA"/>
<rect x="1791.29" y="264.31" width="8.40" height="8.40" fill="#7EA6A3"/>
<rect x="1799.67" y="264.31" width="8.40" height="8.40" fill="#9BBD8C"/>
<rect x="1808.04" y="264.31" width="8.40" height="8.40" fill="#FF9900"/>
<rect x="1581.80" y="255.93" width="8.40" height="8.40" fill="#9BBD8C"/>
<rect x="1590.18" y="255.93" width="8.40" height="8.40" fill="#FF9900"/>
<rect x="1598.56" y="255.93" width="8.40" height="8.40" fill="#FF7300"/>
<rect x="1606.94" y="255.93" width="8.40" height="8.40" fill="#91B694"/>
<rect x="1615.32" y="255.93" width="8.40" height="8.40" fill="#FF7300"/>
<rect x="1623.70" y="255.93" width="16.78" height="8.40" fill="#91B694"/>
<rect x="1640.46" y="255.93" width="8.40" height="8.40" fill="#749EAA"/>
<rect x="1648.84" y="255.93" width="8.40" height="8.40" fill="#6A97B2"/>
<rect x="1657.22" y="255.93" width="8.40" height="8.40" fill="#749EAA"/>
<rect x="1665.60" y="255.93" width="8.40" height="8.40" fill="#87AE9B"/>
<rect x="1673.98" y="255.93" width="8.40" height="8.40" fill="#91B694"/>
<rect x="1682.36" y="255.93" width="8.40" height="8.40" fill="#A5C585"/>
<rect x="1690.73" y="255.93" width="8.40" height="8.40" fill="#FF7300"/>
<rect x="1699.11" y="255.93" width="25.16" height="8.40" fill="#FF0000"/>
<rect x="1724.25" y="255.93" width="8.40" height="8.40" fill="#FF9900"/>
<rect x="1732.63" y="255.93" width="8.40" height="8.40" fill="#A5C585"/>
<rect x="1741.01" y="255.93" width="8.40" height="8.40" fill="#91B694"/>
<rect x="1749.39" y="255.93" width="8.40" height="8.40" fill="#87AE9B"/>
<rect x="1757.77" y="255.93" width="8.40" height="8.40" fill="#749EAA"/>
<rect x="1782.91" y="255.93" width="8.40" height="8.40" fill="#91B694"/>
<rect x="1791.29" y="255.93" width="8.40" height="8.40" fill="#FF7300"/>
<rect x="1799.67" y="255.93" width="8.40" height="8.40" fill="#FF9900"/>
<rect x="1808.04" y="255.93" width="8.40" height="8.40" fill="#FF7300"/>
<rect x="1816.42" y="255.93" width="8.40" height="8.40" fill="#9BBD8C"/>
<rect x="1824.80" y="255.93" width="8.40" height="8.40" fill="#7EA6A3"/>
<rect x="1598.56" y="247.55" width="8.40" height="8.40" fill="#91B694"/>
<rect x="1615.32" y="247.55" width="8.40" height="8.40" fill="#9BBD8C"/>
<rect x="1623.70" y="247.55" width="16.78" height="8.40" fill="#7EA6A3"/>
<rect x="1665.60" y="247.55" width="8.40" height="8.40" fill="#749EAA"/>
<rect x="1673.98" y="247.55" width="8.40" height="8.40" fill="#87AE9B"/>
<rect x="1682.36" y="247.55" width="8.40" height="8.40" fill="#91B694"/>
<rect x="1690.73" y="247.55" width="8.40" height="8.40" fill="#A5C585"/>
<rect x="1699.11" y="247.55" width="8.40" height="8.40" fill="#FF9900"/>
<rect x="1707.49" y="247.55" width="25.16" height="8.40" fill="#FF0000"/>
<rect x="1732.63" y="247.55" width="8.40" height="8.40" fill="#FF9900"/>
<rect x="1741.01" y="247.55" width="16.78" height="8.40" fill="#A5C585"/>
<rect x="1757.77" y="247.55" width="25.16" height="8.40" fill="#9BBD8C"/>
<rect x="1782.91" y="247.55" width="8.40" height="8.40" fill="#A5C585"/>
<rect x="1791.29" y="247.55" width="8.40" height="8.40" fill="#FF9900"/>
<rect x="1799.67" y="247.55" width="8.40" height="8.40" fill="#FF7300"/>
<rect x="1808.04" y="247.55" width="8.40" height="8.40" fill="#91B694"/>
<rect x="1615.32" y="239.17" width="8.40" height="8.40" fill="#7EA6A3"/>
<rect x="1673.98" y="239.17" width="8.40" height="8.40" fill="#749EAA"/>
<rect x="1682.36" y="239.17" width="8.40" height="8.40" fill="#87AE9B"/>
<rect x="1690.73" y="239.17" width="8.40" height="8.40" fill="#91B694"/>
<rect x="1699.11" y="239.17" width="8.40" height="8.40" fill="#A5C585"/>
<rect x="1707.49" y="239.17" width="8.40" height="8.40" fill="#FF9900"/>
<rect x="1715.87" y="239.17" width="25.16" height="8.40" fill="#FF0000"/>
<rect x="1741.01" y="239.17" width="8.40" height="8.40" fill="#FF9900"/>
<rect x="1749.39" y="239.17" width="8.40" height="8.40" fill="#A5C585"/>
<rect x="1757.77" y="239.17" width="8.40" height="8.40" fill="#9BBD8C"/>
<rect x="1766.15" y="239.17" width="8.40" height="8.40" fill="#A5C585"/>
<rect x="1774.53" y="239.17" width="16.78" height="8.40" fill="#FF9900"/>
<rect x="1791.29" y="239.17" width="8.40" height="8.40" fill="#FF7300"/>
<rect x="1799.67" y="239.17" width="8.40" height="8.40" fill="#9BBD8C"/>
<rect x="1808.04" y="239.17" width="8.40" height="8.40" fill="#7EA6A3"/>
<rect x="1682.36" y="230.79" width="8.40" height="8.40" fill="#749EAA"/>
<rect x="1690.73" y="230.79" width="8.40" height="8.40" fill="#87AE9B"/>
<rect x="1699.11" y="230.79" width="8.40" height="8.40" fill="#91B694"/>
<rect x="1707.49" y="230.79" width="8.40" height="8.40" fill="#A5C585"/>
<rect x="1715.87" y="230.79" width="8.40" height="8.40" fill="#FF9900"/>
<rect x="1724.25" y="230.79" width="25.16" height="8.40" fill="#FF0000"/>
<rect x="1749.39" y="230.79" width="8.40" height="8.40" fill="#FF9900"/>
<rect x="1757.77" y="230.79" width="8.40" height="8.40" fill="#A5C585"/>
<rect x="1766.15" y="230.79" width="8.40" height="8.40" fill="#9BBD8C"/>
<rect x="1774.53" y="230.79" width="8.40" height="8.40" fill="#A5C585"/>
<rect x="1782.91" y="230.79" width="8.40" height="8.40" fill="#FF7300"/>
<rect x="1791.29" y="230.79" width="8.40" height="8.40" fill="#9BBD8C"/>
<rect x="1799.67" y="230.79" width="8.40" height="8.40" fill="#FF7300"/>
<rect x="1690.73" y="222.41" width="8.40" height="8.40" fill="#749EAA"/>
<rect x="1699.11" y="222.41" width="8.40" height="8.40" fill="#87AE9B"/>
<rect x="1707.49" y="222.41" width="8.40" height="8.40" fill="#91B694"/>
<rect x="1715.87" y="222.41" width="8.40" height="8.40" fill="#A5C585"/>
<rect x="1724.25" y="222.41" width="8.40" height="8.40" fill="#FF9900"/>
<rect x="1732.63" y="222.41" width="25.16" height="8.40" fill="#FF0000"/>
<rect x="1757.77" y="222.41" width="8.40" height="8.40" fill="#AFCD7D"/>
<rect x="1766.15" y="222.41" width="8.40" height="8.40" fill="#A5C585"/>
<rect x="1774.53" y="222.41" width="8.40" height="8.40" fill="#91B694"/>
<rect x="1782.91" y="222.41" width="8.40" height="8.40" fill="#87AE9B"/>
<rect x="1791.29" y="222.41" width="8.40" height="8.40" fill="#749EAA"/>
<rect x="1799.67" y="222.41" width="8.40" height="8.40" fill="#6A97B2"/>
<rect x="1699.11" y="214.03" width="8.40" height="8.40" fill="#749EAA"/>
<rect x="1707.49" y="214.03" width="8.40" height="8.40" fill="#87AE9B"/>
<rect x="1715.87" y="214.03" width="16.78" height="8.40" fill="#A5C585"/>
<rect x="1732.63" y="214.03" width="8.40" height="8.40" fill="#FF9900"/>
<rect x="1741.01" y="214.03" width="25.16" height="8.40" fill="#FF0000"/>
<rect x="1766.15" y="214.03" width="8.40" height="8.40" fill="#FF9900"/>
<rect x="1774.53" y="214.03" width="8.40" height="8.40" fill="#A5C585"/>
<rect x="1782.91" y="214.03" width="8.40" height="8.40" fill="#91B694"/>
<rect x="1791.29" y="214.03" width="8.40" height="8.40" fill="#87AE9B"/>
<rect x="1799.67" y="214.03" width="8.40" height="8.40" fill="#749EAA"/>
<rect x="1707.49" y="205.65" width="8.40" height="8.40" fill="#749EAA"/>
<rect x="1715.87" y="205.65" width="16.78" height="8.40" fill="#9BBD8C"/>
<rect x="1732.63" y="205.65" width="8.40" height="8.40" fill="#A5C585"/>
<rect x="1741.01" y="205.65" width="8.40" height="8.40" fill="#AFCD7D"/>
<rect x="1749.39" y="205.65" width="25.16" height="8.40" fill="#FF0000"/>
<rect x="1774.53" y="205.65" width="8.40" height="8.40" fill="#AFCD7D"/>
<rect x="1782.91" y="205.65" width="8.40" height="8.40" fill="#A5C585"/>
<rect x="1791.29" y="205.65" width="8.40" height="8.40" fill="#91B694"/>
<rect x="1799.67" y="205.65" width="8.40" height="8.40" fill="#87AE9B"/>
<rect x="1808.04" y="205.65" width="8.40" height="8.40" fill="#749EAA"/>
<rect x="1715.87" y="197.27" width="8.40" height="8.40" fill="#9BBD8C"/>
<rect x="1724.25" y="197.27" width="8.40" height="8.40" fill="#A5C585"/>
<rect x="1732.63" y="197.27" width="8.40" height="8.40" fill="#9BBD8C"/>
<rect x="1741.01" y="197.27" width="8.40" height="8.40" fill="#A5C585"/>
<rect x="1749.39" y="197.27" width="8.40" height="8.40" fill="#FF9900"/>
<rect x="1757.77" y="197.27" width="25.16" height="8.40" fill="#FF0000"/>
<rect x="1782.91" y="197.27" width="8.40" height="8.40" fill="#FF9900"/>
<rect x="1791.29" y="197.27" width="8.40" height="8.40" fill="#A5C585"/>
<rect x="1799.67" y="197.27" width="8.40" height="8.40" fill="#91B694"/>
<rect x="1808.04" y="197.27" width="8.40" height="8.40" fill="#87AE9B"/>
<rect x="1816.42" y="197.27" width="8.40" height="8.40" fill="#749EAA"/>
<rect x="299.77" y="188.89" width="8.40" height="8.40" fill="#AFCD7D"/>
<rect x="1715.87" y="188.89" width="8.40" height="8.40" fill="#9BBD8C"/>
<rect x="1724.25" y="188.89" width="8.40" height="8.40" fill="#FF9900"/>
<rect x="1732.63" y="188.89" width="8.40" height="8.40" fill="#A5C585"/>
<rect x="1741.01" y="188.89" width="8.40" height="8.40" fill="#91B694"/>
<rect x="1749.39" y="188.89" width="8.40" height="8.40" fill="#A5C585"/>
<rect x="1757.77" y="188.89" width="8.40" height="8.40" fill="#AFCD7D"/>
<rect x="1766.15" y="188.89" width="25.16" height="8.40" fill="#FF0000"/>
<rect x="1791.29" y="188.89" width="8.40" height="8.40" fill="#FF9900"/>
<rect x="1799.67" y="188.89" width="8.40" height="8.40" fill="#A5C585"/>
<rect x="1808.04" y="188.89" width="8.40" height="8.40" fill="#91B694"/>
<rect x="1816.42" y="188.89" width="8.40" height="8.40" fill="#87AE9B"/>
<rect x="1824.80" y="188.89" width="8.40" height="8.40" fill="#749EAA"/>
<rect x="299.77" y="180.51" width="8.40" height="8.40" fill="#FF9900"/>
<rect x="1707.49" y="180.51" width="8.40" height="8.40" fill="#91B694"/>
<rect x="1715.87" y="180.51" width="8.40" height="8.40" fill="#A5C585"/>
<rect x="1724.25" y="180.51" width="8.40" height="8.40" fill="#FF9900"/>
<rect x="1732.63" y="180.51" width="8.40" height="8.40" fill="#FF7300"/>
<rect x="1741.01" y="180.51" width="8.40" height="8.40" fill="#87AE9B"/>
<rect x="1749.39" y="180.51" width="8.40" height="8.40" fill="#91B694"/>
<rect x="1757.77" y="180.51" width="8.40" height="8.40" fill="#A5C585"/>
<rect x="1766.15" y="180.51" width="8.40" height="8.40" fill="#FF9900"/>
<rect x="1774.53" y="180.51" width="25.16" height="8.40" fill="#FF0000"/>
<rect x="1799.67" y="180.51" width="8.40" height="8.40" fill="#FF9900"/>
<rect x="1808.04" y="180.51" width="8.40" height="8.40" fill="#A5C585"/>
<rect x="1816.42" y="180.51" width="8.40" height="8.40" fill="#91B694"/>
<rect x="1824.80" y="180.51" width="8.40" height="8.40" fill="#87AE9B"/>
<rect x="1833.18" y="180.51" width="8.40" height="8.40" fill="#749EAA"/>
<rect x="283.01" y="172.13" width="8.40" height="8.40" fill="#AFCD7D"/>
<rect x="291.39" y="172.13" width="8.40" height="8.40" fill="#FF9900"/>
<rect x="299.77" y="172.13" width="8.40" height="8.40" fill="#FF4C00"/>
<rect x="1690.73" y="172.13" width="16.78" height="8.40" fill="#7EA6A3"/>
<rect x="1707.49" y="172.13" width="8.40" height="8.40" fill="#FF7300"/>
<rect x="1715.87" y="172.13" width="8.40" height="8.40" fill="#FF9900"/>
<rect x="1724.25" y="172.13" width="8.40" height="8.40" fill="#FF7300"/>
<rect x="1732.63" y="172.13" width="8.40" height="8.40" fill="#9BBD8C"/>
<rect x="1741.01" y="172.13" width="8.40" height="8.40" fill="#749EAA"/>
<rect x="1749.39" y="172.13" width="8.40" height="8.40" fill="#87AE9B"/>
<rect x="1757.77" y="172.13" width="8.40" height="8.40" fill="#91B694"/>
<rect x="1766.15" y="172.13" width="8.40" height="8.40" fill="#A5C585"/>
<rect x="1774.53" y="172.13" width="8.40" height="8.40" fill="#FF9900"/>
<rect x="1782.91" y="172.13" width="25.16" height="8.40" fill="#FF0000"/>
<rect x="1808.04" y="172.13" width="8.40" height="8.40" fill="#FF9900"/>
<rect x="1816.42" y="172.13" width="8.40" height="8.40" fill="#A5C585"/>
<rect x="1824.80" y="172.13" width="8.40" height="8.40" fill="#91B694"/>
<rect x="1833.18" y="172.13" width="8.40" height="8.40" fill="#87AE9B"/>
<rect x="1841.56" y="172.13" width="8.40" height="8.40" fill="#749EAA"/>
<rect x="283.01" y="163.76" width="8.40" height="8.40" fill="#FF9900"/>
<rect x="299.77" y="163.76" width="8.40" height="8.40" fill="#AFCD7D"/>
<rect x="1690.73" y="163.76" width="16.78" height="8.40" fill="#9BBD8C"/>
<rect x="1707.49" y="163.76" width="8.40" height="8.40" fill="#FF9900"/>
<rect x="1715.87" y="163.76" width="8.40" height="8.40" fill="#FF7300"/>
<rect x="1724.25" y="163.76" width="8.40" height="8.40" fill="#9BBD8C"/>
<rect x="1732.63" y="163.76" width="8.40" height="8.40" fill="#FF7300"/>
<rect x="1741.01" y="163.76" width="8.40" height="8.40" fill="#6A97B2"/>
<rect x="1749.39" y="163.76" width="8.40" height="8.40" fill="#749EAA"/>
<rect x="1757.77" y="163.76" width="8.40" height="8.40" fill="#87AE9B"/>
<rect x="1766.15" y="163.76" width="8.40" height="8.40" fill="#91B694"/>
<rect x="1774.53" y="163.76" width="8.40" height="8.40" fill="#A5C585"/>
<rect x="1782.91" y="163.76" width="8.40" height="8.40" fill="#FF9900"/>
<rect x="1791.29" y="163.76" width="25.16" height="8.40" fill="#FF0000"/>
<rect x="1816.42" y="163.76" width="8.40" height="8.40" fill="#FF9900"/>
<rect x="1824.80" y="163.76" width="8.40" height="8.40" fill="#A5C585"/>
<rect x="1833.18" y="163.76" width="8.40" height="8.40" fill="#91B694"/>
<rect x="1841.56" y="163.76" width="8.40" height="8.40" fill="#87AE9B"/>
<rect x="1849.94" y="163.76" width="8.40" height="8.40" fill="#749EAA"/>
<rect x="1690.73" y="155.38" width="8.40" height="8.40" fill="#FF7300"/>
<rect x="1699.11" y="155.38" width="8.40" height="8.40" fill="#FF9900"/>
<rect x="1707.49" y="155.38" width="8.40" height="8.40" fill="#FF7300"/>
<rect x="1715.87" y="155.38" width="8.40" height="8.40" fill="#91B694"/>
<rect x="1724.25" y="155.38" width="8.40" height="8.40" fill="#7EA6A3"/>
<rect x="1757.77" y="155.38" width="8.40" height="8.40" fill="#749EAA"/>
<rect x="1766.15" y="155.38" width="8.40" height="8.40" fill="#87AE9B"/>
<rect x="1774.53" y="155.38" width="8.40" height="8.40" fill="#91B694"/>
<rect x="1782.91" y="155.38" width="8.40" height="8.40" fill="#A5C585"/>
<rect x="1791.29" y="155.38" width="8.40" height="8.40" fill="#FF9900"/>
<rect x="1799.67" y="155.38" width="25.16" height="8.40" fill="#FF0000"/>
<rect x="1824.80" y="155.38" width="8.40" height="8.40" fill="#FF9900"/>
<rect x="1833.18" y="155.38" width="8.40" height="8.40" fill="#A5C585"/>
<rect x="1841.56" y="155.38" width="8.40" height="8.40" fill="#91B694"/>
<rect x="1849.94" y="155.38" width="8.40" height="8.40" fill="#87AE9B"/>
<rect x="1858.32" y="155.38" width="8.40" height="8.40" fill="#749EAA"/>
<rect x="283.01" y="147.00" width="8.40" height="8.40" fill="#AFCD7D"/>
<rect x="1690.73" y="147.00" width="8.40" height="8.40" fill="#FF9900"/>
<rect x="1707.49" y="147.00" width="8.40" height="8.40" fill="#9BBD8C"/>
<rect x="1766.15" y="147.00" width="8.40" height="8.40" fill="#749EAA"/>
<rect x="1774.53" y="147.00" width="8.40" height="8.40" fill="#87AE9B"/>
<rect x="1782.91" y="147.00" width="8.40" height="8.40" fill="#91B694"/>
<rect x="1791.29" y="147.00" width="8.40" height="8.40" fill="#A5C585"/>
<rect x="1799.67" y="147.00" width="8.40" height="8.40" fill="#FF9900"/>
<rect x="1808.04" y="147.00" width="25.16" height="8.40" fill="#FF0000"/>
<rect x="1833.18" y="147.00" width="8.40" height="8.40" fill="#FF9900"/>
<rect x="1841.56" y="147.00" width="8.40" height="8.40" fill="#A5C585"/>
<rect x="1849.94" y="147.00" width="8.40" height="8.40" fill="#91B694"/>
<rect x="1858.32" y="147.00" width="8.40" height="8.40" fill="#87AE9B"/>
<rect x="257.88" y="138.62" width="8.40" height="8.40" fill="#FF9900"/>
<rect x="1690.73" y="138.62" width="8.40" height="8.40" fill="#FF7300"/>
<rect x="1707.49" y="138.62" width="8.40" height="8.40" fill="#7EA6A3"/>
<rect x="1774.53" y="138.62" width="8.40" height="8.40" fill="#749EAA"/>
<rect x="1782.91" y="138.62" width="8.40" height="8.40" fill="#87AE9B"/>
<rect x="1791.29" y="138.62" width="8.40" height="8.40" fill="#91B694"/>
<rect x="1799.67" y="138.62" width="8.40" height="8.40" fill="#A5C585"/>
<rect x="1808.04" y="138.62" width="8.40" height="8.40" fill="#FF9900"/>
<rect x="1816.42" y="138.62" width="25.16" height="8.40" fill="#FF0000"/>
<rect x="1841.56" y="138.62" width="8.40" height="8.40" fill="#FF9900"/>
<rect x="1849.94" y="138.62" width="8.40" height="8.40" fill="#9BBD8C"/>
<rect x="1858.32" y="138.62" width="8.40" height="8.40" fill="#7EA6A3"/>
<rect x="1782.91" y="130.24" width="8.40" height="8.40" fill="#749EAA"/>
<rect x="1791.29" y="130.24" width="8.40" height="8.40" fill="#87AE9B"/>
<rect x="1799.67" y="130.24" width="8.40" height="8.40" fill="#91B694"/>
<rect x="1808.04" y="130.24" width="8.40" height="8.40" fill="#A5C585"/>
<rect x="1816.42" y="130.24" width="8.40" height="8.40" fill="#FF9900"/>
<rect x="1824.80" y="130.24" width="25.16" height="8.40" fill="#FF0000"/>
<rect x="1849.94" y="130.24" width="8.40" height="8.40" fill="#FF9900"/>
<rect x="1858.32" y="130.24" width="8.40" height="8.40" fill="#91B694"/>
<rect x="1791.29" y="121.86" width="8.40" height="8.40" fill="#749EAA"/>
<rect x="1799.67" y="121.86" width="8.40" height="8.40" fill="#87AE9B"/>
<rect x="1808.04" y="121.86" width="8.40" height="8.40" fill="#91B694"/>
<rect x="1816.42" y="121.86" width="8.40" height="8.40" fill="#A5C585"/>
<rect x="1824.80" y="121.86" width="8.40" height="8.40" fill="#FF9900"/>
<rect x="1833.18" y="121.86" width="25.16" height="8.40" fill="#FF0000"/>
<rect x="1858.32" y="121.86" width="8.40" height="8.40" fill="#FF7300"/>
<rect x="1799.67" y="113.48" width="8.40" height="8.40" fill="#749EAA"/>
<rect x="1808.04" y="113.48" width="8.40" height="8.40" fill="#87AE9B"/>
<rect x="1816.42" y="113.48" width="8.40" height="8.40" fill="#91B694"/>
<rect x="1824.80" y="113.48" width="8.40" height="8.40" fill="#9BBD8C"/>
<rect x="1833.18" y="113.48" width="8.40" height="8.40" fill="#FF9900"/>
<rect x="1841.56" y="113.48" width="25.16" height="8.40" fill="#FF0000"/>
<rect x="1808.04" y="105.10" width="8.40" height="8.40" fill="#749EAA"/>
<rect x="1816.42" y="105.10" width="8.40" height="8.40" fill="#87AE9B"/>
<rect x="1824.80" y="105.10" width="8.40" height="8.40" fill="#7EA6A3"/>
<rect x="1833.18" y="105.10" width="8.40" height="8.40" fill="#91B694"/>
<rect x="1841.56" y="105.10" width="8.40" height="8.40" fill="#FF7300"/>
<rect x="1849.94" y="105.10" width="16.78" height="8.40" fill="#FF0000"/>
</g>
<rect x="207.60" y="105.10" width="1659.10" height="1659.10" fill="none" stroke="#303030" stroke-opacity="0.55" stroke-width="1"/>
<path d="M622.38 1764.20v6 M622.38 105.10v-6 M207.60 1349.42h-6 M1866.70 1349.42h6 M1041.34 1764.20v6 M1041.34 105.10v-6 M207.60 930.46h-6 M1866.70 930.46h6 M1460.30 1764.20v6 M1460.30 105.10v-6 M207.60 511.50h-6 M1866.70 511.50h6" stroke="#333333" stroke-width="0.9" fill="none"/>
<g shape-rendering="crispEdges">
<rect x="1889.30" y="1660.51" width="12.40" height="103.74" fill="#FF0000"/>
<rect x="1889.30" y="1556.81" width="12.40" height="103.74" fill="#FF2600"/>
<rect x="1889.30" y="1453.12" width="12.40" height="103.74" fill="#FF4C00"/>
<rect x="1889.30" y="1349.43" width="12.40" height="103.74" fill="#FF7300"/>
<rect x="1889.30" y="1245.73" width="12.40" height="103.74" fill="#FF9900"/>
<rect x="1889.30" y="1142.04" width="12.40" height="103.74" fill="#AFCD7D"/>
<rect x="1889.30" y="1038.34" width="12.40" height="103.74" fill="#A5C585"/>
<rect x="1889.30" y="934.65" width="12.40" height="103.74" fill="#9BBD8C"/>
<rect x="1889.30" y="830.96" width="12.40" height="103.74" fill="#91B694"/>
<rect x="1889.30" y="727.26" width="12.40" height="103.74" fill="#87AE9B"/>
<rect x="1889.30" y="623.57" width="12.40" height="103.74" fill="#7EA6A3"/>
<rect x="1889.30" y="519.87" width="12.40" height="103.74" fill="#749EAA"/>
<rect x="1889.30" y="416.18" width="12.40" height="103.74" fill="#6A97B2"/>
<rect x="1889.30" y="312.49" width="12.40" height="103.74" fill="#608FB9"/>
<rect x="1889.30" y="208.79" width="12.40" height="103.74" fill="#5687C1"/>
<rect x="1889.30" y="105.10" width="12.40" height="103.74" fill="#0000FF"/>
</g>
<rect x="1889.30" y="105.10" width="12.40" height="1659.10" fill="none" stroke="#262626" stroke-opacity="0.75" stroke-width="0.9"/>
<path d="M1901.70 1444.20h4 M1901.70 1080.55h4 M1901.70 716.90h4 M1901.70 353.25h4" stroke="#333333" stroke-width="0.9" fill="none"/>
<text transform="translate(623.58 1819.00) scale(0.996 1.030)" font-size="60" text-anchor="middle">50</text>
<text transform="translate(197.70 1371.72) scale(0.996 1.030)" font-size="60" text-anchor="end">50</text>
<text transform="translate(1042.54 1819.00) scale(0.996 1.030)" font-size="60" text-anchor="middle">100</text>
<text transform="translate(197.70 952.76) scale(0.996 1.030)" font-size="60" text-anchor="end">100</text>
<text transform="translate(1461.50 1819.00) scale(0.996 1.030)" font-size="60" text-anchor="middle">150</text>
<text transform="translate(197.70 533.80) scale(0.996 1.030)" font-size="60" text-anchor="end">150</text>
<text transform="translate(1038.50 1874.60) scale(0.996 1.030)" font-size="60" text-anchor="middle">Residue index</text>
<text transform="translate(86.00 933.50) rotate(-90) scale(0.996 1.030)" font-size="60" text-anchor="middle">Residue index</text>
<text transform="translate(1909.60 1462.00) scale(0.996 1.030)" font-size="48" text-anchor="start">5</text>
<text transform="translate(1909.60 1098.35) scale(0.996 1.030)" font-size="48" text-anchor="start">10</text>
<text transform="translate(1909.60 734.70) scale(0.996 1.030)" font-size="48" text-anchor="start">15</text>
<text transform="translate(1909.60 371.05) scale(0.996 1.030)" font-size="48" text-anchor="start">20</text>
</svg></body></html>
